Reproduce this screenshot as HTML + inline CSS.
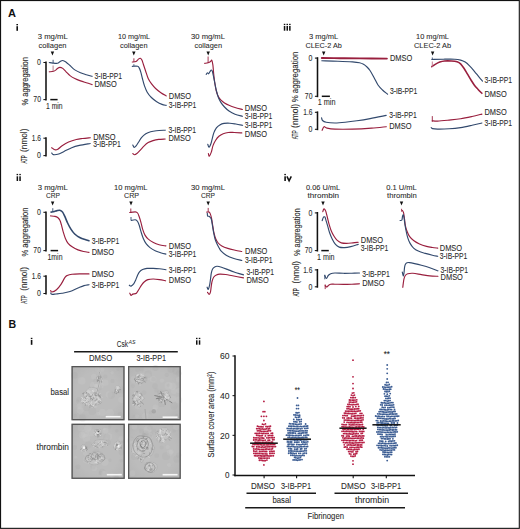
<!DOCTYPE html>
<html><head><meta charset="utf-8"><style>
html,body{margin:0;padding:0;background:#fff;}
body{width:520px;height:529px;overflow:hidden;}
svg{display:block;font-family:"Liberation Sans", sans-serif;}
</style></head><body>
<svg width="520" height="529" viewBox="0 0 520 529">
<defs>
<radialGradient id="vig" cx="0.5" cy="0.5" r="0.72"><stop offset="0.55" stop-color="#000" stop-opacity="0"/><stop offset="1" stop-color="#000" stop-opacity="0.05"/></radialGradient>
</defs>
<rect x="0" y="0" width="520" height="529" fill="#fff"/>
<text x="7.9" y="17.0" font-size="11" font-weight="bold" fill="#111">A</text>
<text x="8.6" y="327.7" font-size="10.6" font-weight="bold" fill="#111">B</text>
<rect x="16.40" y="26.20" width="1.60" height="4.60" fill="#111"/>
<rect x="16.40" y="24.00" width="1.60" height="1.30" fill="#111"/>
<rect x="283.80" y="25.90" width="1.50" height="4.80" fill="#111"/>
<rect x="283.80" y="23.80" width="1.50" height="1.20" fill="#111"/>
<rect x="286.50" y="25.90" width="1.50" height="4.80" fill="#111"/>
<rect x="286.50" y="23.80" width="1.50" height="1.20" fill="#111"/>
<rect x="289.10" y="25.90" width="1.50" height="4.80" fill="#111"/>
<rect x="289.10" y="23.80" width="1.50" height="1.20" fill="#111"/>
<rect x="16.60" y="176.30" width="1.50" height="4.70" fill="#111"/>
<rect x="16.60" y="173.90" width="1.50" height="1.30" fill="#111"/>
<rect x="19.30" y="176.30" width="1.50" height="4.70" fill="#111"/>
<rect x="19.30" y="173.90" width="1.50" height="1.30" fill="#111"/>
<rect x="284.30" y="176.30" width="1.60" height="4.70" fill="#111"/>
<rect x="284.30" y="173.90" width="1.60" height="1.30" fill="#111"/>
<path d="M286.90,176.30 L289.10,180.70 L291.30,176.30" fill="none" stroke="#111" stroke-width="1.50" stroke-linejoin="miter"/>
<rect x="30.80" y="339.90" width="1.60" height="4.90" fill="#111"/>
<rect x="30.80" y="337.80" width="1.60" height="1.20" fill="#111"/>
<rect x="196.00" y="340.30" width="1.50" height="4.40" fill="#111"/>
<rect x="196.00" y="337.80" width="1.50" height="1.30" fill="#111"/>
<rect x="198.80" y="340.30" width="1.50" height="4.40" fill="#111"/>
<rect x="198.80" y="337.80" width="1.50" height="1.30" fill="#111"/>
<text transform="translate(27.60,105.40) rotate(-90)" x="0" y="0" font-size="8.80" fill="#2a2a2a" stroke="#2a2a2a" stroke-width="0.12" textLength="48.30" lengthAdjust="spacingAndGlyphs">% aggregation</text>
<text transform="translate(27.20,163.60) rotate(-90)" x="0" y="0" font-size="8.80" fill="#2a2a2a" stroke="#2a2a2a" stroke-width="0.12" textLength="8.30" lengthAdjust="spacingAndGlyphs">ATP</text>
<text transform="translate(27.20,151.90) rotate(-90)" x="0" y="0" font-size="8.80" fill="#2a2a2a" stroke="#2a2a2a" stroke-width="0.12" textLength="23.30" lengthAdjust="spacingAndGlyphs">(nmol)</text>
<line x1="46.00" y1="61.60" x2="46.00" y2="100.50" stroke="#111" stroke-width="1.55"/>
<line x1="43.40" y1="62.50" x2="46.00" y2="62.50" stroke="#111" stroke-width="1.05"/>
<text x="37.10" y="65.20" font-size="8.40" font-weight="normal" fill="#2a2a2a" stroke="#2a2a2a" stroke-width="0.08" textLength="3.90" lengthAdjust="spacingAndGlyphs">0</text>
<line x1="43.40" y1="99.60" x2="46.00" y2="99.60" stroke="#111" stroke-width="1.05"/>
<text x="33.30" y="102.30" font-size="8.40" font-weight="normal" fill="#2a2a2a" stroke="#2a2a2a" stroke-width="0.08" textLength="7.70" lengthAdjust="spacingAndGlyphs">70</text>
<line x1="50.30" y1="99.60" x2="57.60" y2="99.60" stroke="#111" stroke-width="1.50"/>
<text x="46.00" y="108.50" font-size="8.40" font-weight="normal" fill="#2a2a2a" stroke="#2a2a2a" stroke-width="0.08" textLength="16.60" lengthAdjust="spacingAndGlyphs">1 min</text>
<line x1="46.00" y1="137.30" x2="46.00" y2="156.50" stroke="#111" stroke-width="1.55"/>
<line x1="43.40" y1="138.20" x2="46.00" y2="138.20" stroke="#111" stroke-width="1.05"/>
<text x="31.80" y="140.90" font-size="8.40" font-weight="normal" fill="#2a2a2a" stroke="#2a2a2a" stroke-width="0.08" textLength="9.20" lengthAdjust="spacingAndGlyphs">1.6</text>
<line x1="43.40" y1="155.60" x2="46.00" y2="155.60" stroke="#111" stroke-width="1.05"/>
<text x="37.10" y="158.30" font-size="8.40" font-weight="normal" fill="#2a2a2a" stroke="#2a2a2a" stroke-width="0.08" textLength="3.90" lengthAdjust="spacingAndGlyphs">0</text>
<text x="37.70" y="39.40" font-size="8.00" font-weight="normal" fill="#2a2a2a" stroke="#2a2a2a" stroke-width="0.08" textLength="30.10" lengthAdjust="spacingAndGlyphs">3 mg/mL</text>
<text x="38.50" y="47.90" font-size="8.00" font-weight="normal" fill="#2a2a2a" stroke="#2a2a2a" stroke-width="0.08" textLength="28.00" lengthAdjust="spacingAndGlyphs">collagen</text>
<path d="M50.75,51.50 L54.15,51.50 L52.45,55.40 Z" fill="#111"/>
<path d="M49.30,62.50 C49.87,62.60 51.33,62.97 52.70,63.10 C54.07,63.23 56.30,63.53 57.50,63.30 C58.70,63.07 59.02,62.17 59.90,61.70 C60.77,61.23 61.72,60.42 62.75,60.50 C63.78,60.58 64.89,61.37 66.10,62.20 C67.31,63.03 68.55,64.22 70.00,65.50 C71.45,66.78 73.05,68.69 74.80,69.90 C76.55,71.11 78.58,71.95 80.50,72.75 C82.42,73.55 84.37,74.11 86.30,74.70 C88.23,75.29 91.13,76.03 92.10,76.30" fill="none" stroke="#32496d" stroke-width="1.15" stroke-linejoin="round" stroke-linecap="round"/>
<path d="M49.30,71.80 C50.02,71.72 52.48,71.62 53.60,71.30 C54.72,70.98 55.35,70.38 56.00,69.90 C56.65,69.42 56.85,68.83 57.50,68.40 C58.15,67.97 59.02,67.30 59.90,67.30 C60.77,67.30 61.72,67.65 62.75,68.40 C63.78,69.15 64.89,70.60 66.10,71.80 C67.31,73.00 68.55,74.48 70.00,75.60 C71.45,76.72 73.05,77.62 74.80,78.50 C76.55,79.38 78.58,80.18 80.50,80.90 C82.42,81.62 84.37,82.18 86.30,82.80 C88.23,83.42 91.13,84.30 92.10,84.60" fill="none" stroke="#991f3e" stroke-width="1.15" stroke-linejoin="round" stroke-linecap="round"/>
<line x1="53.10" y1="59.80" x2="53.10" y2="63.00" stroke="#32496d" stroke-width="0.90"/>
<line x1="53.10" y1="65.50" x2="53.10" y2="71.30" stroke="#b07080" stroke-width="0.90"/>
<text x="94.50" y="78.50" font-size="8.40" font-weight="normal" fill="#2a2a2a" stroke="#2a2a2a" stroke-width="0.08" textLength="27.50" lengthAdjust="spacingAndGlyphs">3-IB-PP1</text>
<text x="94.50" y="86.90" font-size="8.40" font-weight="normal" fill="#2a2a2a" stroke="#2a2a2a" stroke-width="0.08" textLength="22.30" lengthAdjust="spacingAndGlyphs">DMSO</text>
<path d="M51.70,147.70 C52.22,148.03 53.78,149.45 54.80,149.70 C55.82,149.95 56.52,149.92 57.80,149.20 C59.08,148.48 60.70,146.60 62.50,145.40 C64.30,144.20 66.30,142.98 68.60,142.00 C70.90,141.02 73.98,140.08 76.30,139.50 C78.62,138.92 80.18,138.80 82.50,138.50 C84.82,138.20 88.92,137.83 90.20,137.70" fill="none" stroke="#991f3e" stroke-width="1.15" stroke-linejoin="round" stroke-linecap="round"/>
<path d="M51.70,153.00 C51.95,153.27 52.18,154.38 53.20,154.60 C54.22,154.82 56.00,154.82 57.80,154.30 C59.60,153.78 61.68,152.60 64.00,151.50 C66.32,150.40 69.13,148.72 71.70,147.70 C74.27,146.68 76.32,146.10 79.40,145.40 C82.48,144.70 88.40,143.82 90.20,143.50" fill="none" stroke="#32496d" stroke-width="1.15" stroke-linejoin="round" stroke-linecap="round"/>
<text x="93.20" y="140.00" font-size="8.40" font-weight="normal" fill="#2a2a2a" stroke="#2a2a2a" stroke-width="0.08" textLength="22.30" lengthAdjust="spacingAndGlyphs">DMSO</text>
<text x="93.20" y="147.30" font-size="8.40" font-weight="normal" fill="#2a2a2a" stroke="#2a2a2a" stroke-width="0.08" textLength="27.50" lengthAdjust="spacingAndGlyphs">3-IB-PP1</text>
<text x="117.90" y="39.40" font-size="8.00" font-weight="normal" fill="#2a2a2a" stroke="#2a2a2a" stroke-width="0.08" textLength="32.20" lengthAdjust="spacingAndGlyphs">10 mg/mL</text>
<text x="120.00" y="47.90" font-size="8.00" font-weight="normal" fill="#2a2a2a" stroke="#2a2a2a" stroke-width="0.08" textLength="27.50" lengthAdjust="spacingAndGlyphs">collagen</text>
<path d="M132.10,51.50 L135.50,51.50 L133.80,55.40 Z" fill="#111"/>
<path d="M132.30,62.00 C132.92,61.92 134.93,62.02 136.00,61.50 C137.07,60.98 137.98,59.43 138.70,58.90 C139.42,58.37 139.77,58.12 140.30,58.30 C140.83,58.48 141.37,58.93 141.90,60.00 C142.43,61.07 142.88,62.87 143.50,64.70 C144.12,66.53 144.82,68.70 145.60,71.00 C146.38,73.30 147.23,76.38 148.20,78.50 C149.17,80.62 150.17,82.03 151.40,83.70 C152.63,85.37 154.02,87.00 155.60,88.50 C157.18,90.00 159.13,91.47 160.90,92.70 C162.67,93.93 165.32,95.37 166.20,95.90" fill="none" stroke="#991f3e" stroke-width="1.15" stroke-linejoin="round" stroke-linecap="round"/>
<path d="M132.30,66.30 C133.18,66.30 136.45,66.03 137.60,66.30 C138.75,66.57 138.67,66.93 139.20,67.90 C139.73,68.87 140.27,70.33 140.80,72.10 C141.33,73.87 141.78,76.20 142.40,78.50 C143.02,80.80 143.70,83.62 144.50,85.90 C145.30,88.18 146.05,90.27 147.20,92.20 C148.35,94.13 149.82,95.92 151.40,97.50 C152.98,99.08 154.93,100.55 156.70,101.70 C158.47,102.85 160.42,103.78 162.00,104.40 C163.58,105.02 165.50,105.23 166.20,105.40" fill="none" stroke="#32496d" stroke-width="1.15" stroke-linejoin="round" stroke-linecap="round"/>
<line x1="133.90" y1="58.30" x2="133.90" y2="62.00" stroke="#991f3e" stroke-width="0.90"/>
<line x1="133.90" y1="64.20" x2="133.90" y2="66.30" stroke="#32496d" stroke-width="0.90"/>
<text x="168.80" y="98.90" font-size="8.40" font-weight="normal" fill="#2a2a2a" stroke="#2a2a2a" stroke-width="0.08" textLength="22.30" lengthAdjust="spacingAndGlyphs">DMSO</text>
<text x="168.80" y="107.50" font-size="8.40" font-weight="normal" fill="#2a2a2a" stroke="#2a2a2a" stroke-width="0.08" textLength="27.50" lengthAdjust="spacingAndGlyphs">3-IB-PP1</text>
<path d="M132.80,145.00 C133.02,145.40 133.55,147.27 134.10,147.40 C134.65,147.53 135.37,146.67 136.10,145.80 C136.83,144.93 137.57,143.62 138.50,142.20 C139.43,140.78 140.48,138.72 141.70,137.30 C142.92,135.88 144.32,134.63 145.80,133.70 C147.28,132.77 148.85,132.20 150.60,131.70 C152.35,131.20 153.87,130.95 156.30,130.70 C158.73,130.45 163.72,130.28 165.20,130.20" fill="none" stroke="#32496d" stroke-width="1.15" stroke-linejoin="round" stroke-linecap="round"/>
<path d="M132.80,153.50 C133.08,153.70 133.82,154.70 134.50,154.70 C135.18,154.70 135.97,154.23 136.90,153.50 C137.83,152.77 138.88,151.58 140.10,150.30 C141.32,149.02 142.85,147.08 144.20,145.80 C145.55,144.52 146.73,143.47 148.20,142.60 C149.67,141.73 151.25,141.13 153.00,140.60 C154.75,140.07 156.67,139.67 158.70,139.40 C160.73,139.13 164.12,139.07 165.20,139.00" fill="none" stroke="#991f3e" stroke-width="1.15" stroke-linejoin="round" stroke-linecap="round"/>
<text x="168.50" y="132.70" font-size="8.40" font-weight="normal" fill="#2a2a2a" stroke="#2a2a2a" stroke-width="0.08" textLength="27.50" lengthAdjust="spacingAndGlyphs">3-IB-PP1</text>
<text x="168.50" y="141.30" font-size="8.40" font-weight="normal" fill="#2a2a2a" stroke="#2a2a2a" stroke-width="0.08" textLength="22.30" lengthAdjust="spacingAndGlyphs">DMSO</text>
<text x="191.00" y="39.40" font-size="8.00" font-weight="normal" fill="#2a2a2a" stroke="#2a2a2a" stroke-width="0.08" textLength="34.00" lengthAdjust="spacingAndGlyphs">30 mg/mL</text>
<text x="194.50" y="47.90" font-size="8.00" font-weight="normal" fill="#2a2a2a" stroke="#2a2a2a" stroke-width="0.08" textLength="27.50" lengthAdjust="spacingAndGlyphs">collagen</text>
<path d="M206.50,51.50 L209.90,51.50 L208.20,55.40 Z" fill="#111"/>
<path d="M204.70,63.40 C205.27,63.28 207.12,63.02 208.10,62.70 C209.08,62.38 209.98,61.92 210.60,61.50 C211.22,61.08 211.42,59.58 211.80,60.20 C212.18,60.82 212.58,62.90 212.90,65.20 C213.22,67.50 213.38,71.03 213.70,74.00 C214.02,76.97 214.37,80.17 214.80,83.00 C215.23,85.83 215.72,88.75 216.30,91.00 C216.88,93.25 217.52,94.97 218.30,96.50 C219.08,98.03 219.97,99.12 221.00,100.20 C222.03,101.28 223.17,102.15 224.50,103.00 C225.83,103.85 227.25,104.55 229.00,105.30 C230.75,106.05 232.77,106.80 235.00,107.50 C237.23,108.20 241.17,109.17 242.40,109.50" fill="none" stroke="#991f3e" stroke-width="1.15" stroke-linejoin="round" stroke-linecap="round"/>
<path d="M206.20,74.30 C206.40,74.05 207.00,72.88 207.40,72.80 C207.80,72.72 208.17,74.00 208.60,73.80 C209.03,73.60 209.53,72.23 210.00,71.60 C210.47,70.97 211.00,70.02 211.40,70.00 C211.80,69.98 212.08,70.58 212.40,71.50 C212.72,72.42 213.00,74.08 213.30,75.50 C213.60,76.92 213.88,78.42 214.20,80.00 C214.52,81.58 214.82,83.13 215.20,85.00 C215.58,86.87 215.97,89.12 216.50,91.20 C217.03,93.28 217.65,95.60 218.40,97.50 C219.15,99.40 219.98,101.02 221.00,102.60 C222.02,104.18 223.17,105.60 224.50,107.00 C225.83,108.40 227.25,109.80 229.00,111.00 C230.75,112.20 232.77,113.32 235.00,114.20 C237.23,115.08 241.17,115.95 242.40,116.30" fill="none" stroke="#32496d" stroke-width="1.15" stroke-linejoin="round" stroke-linecap="round"/>
<line x1="208.10" y1="56.50" x2="208.10" y2="63.00" stroke="#991f3e" stroke-width="0.90"/>
<text x="244.80" y="111.10" font-size="8.40" font-weight="normal" fill="#2a2a2a" stroke="#2a2a2a" stroke-width="0.08" textLength="22.30" lengthAdjust="spacingAndGlyphs">DMSO</text>
<text x="244.80" y="119.30" font-size="8.40" font-weight="normal" fill="#2a2a2a" stroke="#2a2a2a" stroke-width="0.08" textLength="27.50" lengthAdjust="spacingAndGlyphs">3-IB-PP1</text>
<path d="M207.80,144.30 C208.00,144.78 208.47,147.33 209.00,147.20 C209.53,147.07 210.47,144.90 211.00,143.50 C211.53,142.10 211.73,140.57 212.20,138.80 C212.67,137.03 213.10,134.73 213.80,132.90 C214.50,131.07 215.40,129.13 216.40,127.80 C217.40,126.47 218.53,125.63 219.80,124.90 C221.07,124.17 222.32,123.68 224.00,123.40 C225.68,123.12 227.93,123.10 229.90,123.20 C231.87,123.30 233.68,123.65 235.80,124.00 C237.92,124.35 241.47,125.08 242.60,125.30" fill="none" stroke="#32496d" stroke-width="1.15" stroke-linejoin="round" stroke-linecap="round"/>
<path d="M208.40,153.60 C208.55,154.03 208.82,156.45 209.30,156.20 C209.78,155.95 210.68,153.87 211.30,152.10 C211.92,150.33 212.30,147.53 213.00,145.60 C213.70,143.67 214.52,142.05 215.50,140.50 C216.48,138.95 217.62,137.42 218.90,136.30 C220.18,135.18 221.65,134.43 223.20,133.80 C224.75,133.17 226.38,132.72 228.20,132.50 C230.02,132.28 231.83,132.43 234.10,132.50 C236.37,132.57 240.52,132.83 241.80,132.90" fill="none" stroke="#991f3e" stroke-width="1.15" stroke-linejoin="round" stroke-linecap="round"/>
<text x="244.80" y="128.00" font-size="8.40" font-weight="normal" fill="#2a2a2a" stroke="#2a2a2a" stroke-width="0.08" textLength="27.50" lengthAdjust="spacingAndGlyphs">3-IB-PP1</text>
<text x="244.80" y="136.50" font-size="8.40" font-weight="normal" fill="#2a2a2a" stroke="#2a2a2a" stroke-width="0.08" textLength="22.30" lengthAdjust="spacingAndGlyphs">DMSO</text>
<text transform="translate(298.30,139.30) rotate(-90)" x="0" y="0" font-size="8.80" fill="#2a2a2a" stroke="#2a2a2a" stroke-width="0.12" textLength="8.90" lengthAdjust="spacingAndGlyphs">ATP</text>
<text transform="translate(298.30,127.90) rotate(-90)" x="0" y="0" font-size="8.80" fill="#2a2a2a" stroke="#2a2a2a" stroke-width="0.12" textLength="24.10" lengthAdjust="spacingAndGlyphs">(nmol)</text>
<text transform="translate(298.30,102.30) rotate(-90)" x="0" y="0" font-size="8.80" fill="#2a2a2a" stroke="#2a2a2a" stroke-width="0.12" textLength="50.70" lengthAdjust="spacingAndGlyphs">% aggregation</text>
<line x1="317.50" y1="57.20" x2="317.50" y2="97.20" stroke="#111" stroke-width="1.55"/>
<line x1="314.90" y1="58.10" x2="317.50" y2="58.10" stroke="#111" stroke-width="1.05"/>
<text x="308.60" y="60.80" font-size="8.40" font-weight="normal" fill="#2a2a2a" stroke="#2a2a2a" stroke-width="0.08" textLength="3.90" lengthAdjust="spacingAndGlyphs">0</text>
<line x1="314.90" y1="96.30" x2="317.50" y2="96.30" stroke="#111" stroke-width="1.05"/>
<text x="304.80" y="99.00" font-size="8.40" font-weight="normal" fill="#2a2a2a" stroke="#2a2a2a" stroke-width="0.08" textLength="7.70" lengthAdjust="spacingAndGlyphs">70</text>
<line x1="321.80" y1="96.30" x2="329.90" y2="96.30" stroke="#111" stroke-width="1.50"/>
<text x="317.70" y="105.20" font-size="8.40" font-weight="normal" fill="#2a2a2a" stroke="#2a2a2a" stroke-width="0.08" textLength="17.80" lengthAdjust="spacingAndGlyphs">1 min</text>
<line x1="317.50" y1="111.40" x2="317.50" y2="130.20" stroke="#111" stroke-width="1.55"/>
<line x1="314.90" y1="112.30" x2="317.50" y2="112.30" stroke="#111" stroke-width="1.05"/>
<text x="303.30" y="115.00" font-size="8.40" font-weight="normal" fill="#2a2a2a" stroke="#2a2a2a" stroke-width="0.08" textLength="9.20" lengthAdjust="spacingAndGlyphs">1.6</text>
<line x1="314.90" y1="129.30" x2="317.50" y2="129.30" stroke="#111" stroke-width="1.05"/>
<text x="308.60" y="132.00" font-size="8.40" font-weight="normal" fill="#2a2a2a" stroke="#2a2a2a" stroke-width="0.08" textLength="3.90" lengthAdjust="spacingAndGlyphs">0</text>
<text x="309.10" y="39.40" font-size="8.00" font-weight="normal" fill="#2a2a2a" stroke="#2a2a2a" stroke-width="0.08" textLength="29.20" lengthAdjust="spacingAndGlyphs">3 mg/mL</text>
<text x="305.50" y="47.90" font-size="8.00" font-weight="normal" fill="#2a2a2a" stroke="#2a2a2a" stroke-width="0.08" textLength="36.30" lengthAdjust="spacingAndGlyphs">CLEC-2 Ab</text>
<path d="M322.00,51.50 L325.40,51.50 L323.70,55.40 Z" fill="#111"/>
<path d="M321.80,58.00 C324.83,58.03 333.63,58.13 340.00,58.20 C346.37,58.27 352.18,58.33 360.00,58.40 C367.82,58.47 382.42,58.57 386.90,58.60" fill="none" stroke="#991f3e" stroke-width="1.90" stroke-linejoin="round" stroke-linecap="round"/>
<path d="M321.80,60.80 C324.48,60.87 332.78,61.02 337.90,61.20 C343.02,61.38 348.90,61.63 352.50,61.90 C356.10,62.17 357.67,62.40 359.50,62.80 C361.33,63.20 362.25,63.60 363.50,64.30 C364.75,65.00 365.92,65.97 367.00,67.00 C368.08,68.03 368.83,68.75 370.00,70.50 C371.17,72.25 372.67,75.08 374.00,77.50 C375.33,79.92 376.58,82.92 378.00,85.00 C379.42,87.08 380.90,88.47 382.50,90.00 C384.10,91.53 386.75,93.50 387.60,94.20" fill="none" stroke="#32496d" stroke-width="1.15" stroke-linejoin="round" stroke-linecap="round"/>
<text x="389.90" y="61.30" font-size="8.40" font-weight="normal" fill="#2a2a2a" stroke="#2a2a2a" stroke-width="0.08" textLength="22.30" lengthAdjust="spacingAndGlyphs">DMSO</text>
<text x="389.90" y="94.40" font-size="8.40" font-weight="normal" fill="#2a2a2a" stroke="#2a2a2a" stroke-width="0.08" textLength="27.50" lengthAdjust="spacingAndGlyphs">3-IB-PP1</text>
<path d="M321.60,117.90 C321.75,118.33 321.73,119.77 322.50,120.50 C323.27,121.23 324.12,121.88 326.20,122.30 C328.28,122.72 331.83,123.00 335.00,123.00 C338.17,123.00 341.55,122.67 345.20,122.30 C348.85,121.93 352.75,121.42 356.90,120.80 C361.05,120.18 365.22,119.50 370.10,118.60 C374.98,117.70 383.52,115.93 386.20,115.40" fill="none" stroke="#32496d" stroke-width="1.15" stroke-linejoin="round" stroke-linecap="round"/>
<path d="M322.10,130.30 C322.42,129.70 323.18,127.07 324.00,126.70 C324.82,126.33 325.17,127.70 327.00,128.10 C328.83,128.50 330.75,128.93 335.00,129.10 C339.25,129.27 346.40,129.27 352.50,129.10 C358.60,128.93 365.98,128.50 371.60,128.10 C377.22,127.70 383.77,126.93 386.20,126.70" fill="none" stroke="#991f3e" stroke-width="1.15" stroke-linejoin="round" stroke-linecap="round"/>
<text x="389.20" y="117.80" font-size="8.40" font-weight="normal" fill="#2a2a2a" stroke="#2a2a2a" stroke-width="0.08" textLength="27.50" lengthAdjust="spacingAndGlyphs">3-IB-PP1</text>
<text x="389.20" y="129.30" font-size="8.40" font-weight="normal" fill="#2a2a2a" stroke="#2a2a2a" stroke-width="0.08" textLength="22.30" lengthAdjust="spacingAndGlyphs">DMSO</text>
<text x="416.00" y="39.40" font-size="8.00" font-weight="normal" fill="#2a2a2a" stroke="#2a2a2a" stroke-width="0.08" textLength="33.00" lengthAdjust="spacingAndGlyphs">10 mg/mL</text>
<text x="414.00" y="47.90" font-size="8.00" font-weight="normal" fill="#2a2a2a" stroke="#2a2a2a" stroke-width="0.08" textLength="37.00" lengthAdjust="spacingAndGlyphs">CLEC-2 Ab</text>
<path d="M430.90,51.50 L434.30,51.50 L432.60,55.40 Z" fill="#111"/>
<path d="M431.80,59.50 C433.72,59.45 439.47,59.25 443.30,59.20 C447.13,59.15 451.92,59.05 454.80,59.20 C457.68,59.35 458.87,59.62 460.60,60.10 C462.33,60.58 463.67,61.10 465.20,62.10 C466.73,63.10 468.27,64.57 469.80,66.10 C471.33,67.63 472.85,69.47 474.40,71.30 C475.95,73.13 477.75,75.47 479.10,77.10 C480.45,78.73 481.93,80.43 482.50,81.10" fill="none" stroke="#32496d" stroke-width="1.15" stroke-linejoin="round" stroke-linecap="round"/>
<path d="M431.80,66.70 C432.37,66.32 433.87,65.17 435.20,64.40 C436.53,63.63 438.25,62.67 439.80,62.10 C441.35,61.53 442.57,61.18 444.50,61.00 C446.43,60.82 449.30,60.87 451.40,61.00 C453.50,61.13 455.57,61.33 457.10,61.80 C458.63,62.27 459.43,62.68 460.60,63.80 C461.77,64.92 462.95,66.77 464.10,68.50 C465.25,70.23 466.35,72.28 467.50,74.20 C468.65,76.12 469.85,78.17 471.00,80.00 C472.15,81.83 473.25,83.67 474.40,85.20 C475.55,86.73 476.65,87.85 477.90,89.20 C479.15,90.55 481.23,92.62 481.90,93.30" fill="none" stroke="#991f3e" stroke-width="1.60" stroke-linejoin="round" stroke-linecap="round"/>
<line x1="432.30" y1="57.50" x2="432.30" y2="59.50" stroke="#32496d" stroke-width="0.90"/>
<line x1="432.30" y1="61.50" x2="432.30" y2="66.70" stroke="#c07088" stroke-width="0.90"/>
<text x="484.50" y="83.00" font-size="8.40" font-weight="normal" fill="#2a2a2a" stroke="#2a2a2a" stroke-width="0.08" textLength="27.50" lengthAdjust="spacingAndGlyphs">3-IB-PP1</text>
<text x="484.50" y="96.80" font-size="8.40" font-weight="normal" fill="#2a2a2a" stroke="#2a2a2a" stroke-width="0.08" textLength="22.30" lengthAdjust="spacingAndGlyphs">DMSO</text>
<path d="M432.30,120.70 C433.17,120.77 434.70,121.20 437.50,121.10 C440.30,121.00 445.25,120.48 449.10,120.10 C452.95,119.72 456.77,119.40 460.60,118.80 C464.43,118.20 468.55,117.28 472.10,116.50 C475.65,115.72 480.27,114.50 481.90,114.10" fill="none" stroke="#991f3e" stroke-width="1.15" stroke-linejoin="round" stroke-linecap="round"/>
<line x1="432.30" y1="116.10" x2="432.30" y2="121.90" stroke="#991f3e" stroke-width="0.90"/>
<path d="M431.20,127.60 C431.42,127.77 431.45,128.35 432.50,128.60 C433.55,128.85 434.73,129.07 437.50,129.10 C440.27,129.13 445.25,129.05 449.10,128.80 C452.95,128.55 456.77,128.18 460.60,127.60 C464.43,127.02 468.55,126.07 472.10,125.30 C475.65,124.53 480.27,123.38 481.90,123.00" fill="none" stroke="#32496d" stroke-width="1.15" stroke-linejoin="round" stroke-linecap="round"/>
<text x="484.50" y="115.00" font-size="8.40" font-weight="normal" fill="#2a2a2a" stroke="#2a2a2a" stroke-width="0.08" textLength="22.30" lengthAdjust="spacingAndGlyphs">DMSO</text>
<text x="484.50" y="126.20" font-size="8.40" font-weight="normal" fill="#2a2a2a" stroke="#2a2a2a" stroke-width="0.08" textLength="27.50" lengthAdjust="spacingAndGlyphs">3-IB-PP1</text>
<text transform="translate(27.60,256.60) rotate(-90)" x="0" y="0" font-size="8.80" fill="#2a2a2a" stroke="#2a2a2a" stroke-width="0.12" textLength="49.10" lengthAdjust="spacingAndGlyphs">% aggregation</text>
<text transform="translate(27.20,303.80) rotate(-90)" x="0" y="0" font-size="8.80" fill="#2a2a2a" stroke="#2a2a2a" stroke-width="0.12" textLength="8.60" lengthAdjust="spacingAndGlyphs">ATP</text>
<text transform="translate(27.20,290.70) rotate(-90)" x="0" y="0" font-size="8.80" fill="#2a2a2a" stroke="#2a2a2a" stroke-width="0.12" textLength="23.70" lengthAdjust="spacingAndGlyphs">(nmol)</text>
<line x1="46.00" y1="211.40" x2="46.00" y2="251.50" stroke="#111" stroke-width="1.55"/>
<line x1="43.40" y1="212.30" x2="46.00" y2="212.30" stroke="#111" stroke-width="1.05"/>
<text x="37.10" y="215.00" font-size="8.40" font-weight="normal" fill="#2a2a2a" stroke="#2a2a2a" stroke-width="0.08" textLength="3.90" lengthAdjust="spacingAndGlyphs">0</text>
<line x1="43.40" y1="250.60" x2="46.00" y2="250.60" stroke="#111" stroke-width="1.05"/>
<text x="33.30" y="253.30" font-size="8.40" font-weight="normal" fill="#2a2a2a" stroke="#2a2a2a" stroke-width="0.08" textLength="7.70" lengthAdjust="spacingAndGlyphs">70</text>
<line x1="50.60" y1="250.60" x2="58.10" y2="250.60" stroke="#111" stroke-width="1.50"/>
<text x="47.50" y="259.50" font-size="8.40" font-weight="normal" fill="#2a2a2a" stroke="#2a2a2a" stroke-width="0.08" textLength="15.00" lengthAdjust="spacingAndGlyphs">1min</text>
<line x1="46.00" y1="275.30" x2="46.00" y2="294.40" stroke="#111" stroke-width="1.55"/>
<line x1="43.40" y1="276.20" x2="46.00" y2="276.20" stroke="#111" stroke-width="1.05"/>
<text x="31.80" y="278.90" font-size="8.40" font-weight="normal" fill="#2a2a2a" stroke="#2a2a2a" stroke-width="0.08" textLength="9.20" lengthAdjust="spacingAndGlyphs">1.6</text>
<line x1="43.40" y1="293.50" x2="46.00" y2="293.50" stroke="#111" stroke-width="1.05"/>
<text x="37.10" y="296.20" font-size="8.40" font-weight="normal" fill="#2a2a2a" stroke="#2a2a2a" stroke-width="0.08" textLength="3.90" lengthAdjust="spacingAndGlyphs">0</text>
<text x="37.70" y="189.80" font-size="8.00" font-weight="normal" fill="#2a2a2a" stroke="#2a2a2a" stroke-width="0.08" textLength="30.10" lengthAdjust="spacingAndGlyphs">3 mg/mL</text>
<text x="46.00" y="198.30" font-size="8.00" font-weight="normal" fill="#2a2a2a" stroke="#2a2a2a" stroke-width="0.08" textLength="14.00" lengthAdjust="spacingAndGlyphs">CRP</text>
<path d="M50.90,201.60 L54.30,201.60 L52.60,205.50 Z" fill="#111"/>
<path d="M51.10,212.10 C51.65,212.00 53.38,211.75 54.40,211.50 C55.42,211.25 56.20,210.78 57.20,210.60 C58.20,210.42 59.50,210.15 60.40,210.40 C61.30,210.65 61.87,211.10 62.60,212.10 C63.33,213.10 63.97,214.58 64.80,216.40 C65.63,218.22 66.58,220.88 67.60,223.00 C68.62,225.12 69.72,227.27 70.90,229.10 C72.08,230.93 73.15,232.55 74.70,234.00 C76.25,235.45 78.37,236.85 80.20,237.80 C82.03,238.75 84.23,239.20 85.70,239.70 C87.17,240.20 88.45,240.62 89.00,240.80" fill="none" stroke="#32496d" stroke-width="1.60" stroke-linejoin="round" stroke-linecap="round"/>
<path d="M50.60,215.90 C51.33,215.98 53.82,216.13 55.00,216.40 C56.18,216.67 56.88,216.85 57.70,217.50 C58.52,218.15 59.27,219.02 59.90,220.30 C60.53,221.58 60.95,223.28 61.50,225.20 C62.05,227.12 62.55,229.60 63.20,231.80 C63.85,234.00 64.58,236.48 65.40,238.40 C66.22,240.32 66.92,241.85 68.10,243.30 C69.28,244.75 70.85,246.00 72.50,247.10 C74.15,248.20 76.17,249.17 78.00,249.90 C79.83,250.63 81.67,251.08 83.50,251.50 C85.33,251.92 88.08,252.25 89.00,252.40" fill="none" stroke="#991f3e" stroke-width="1.15" stroke-linejoin="round" stroke-linecap="round"/>
<line x1="52.80" y1="208.20" x2="52.80" y2="212.00" stroke="#32496d" stroke-width="0.90"/>
<text x="91.70" y="243.80" font-size="8.40" font-weight="normal" fill="#2a2a2a" stroke="#2a2a2a" stroke-width="0.08" textLength="27.50" lengthAdjust="spacingAndGlyphs">3-IB-PP1</text>
<text x="91.70" y="255.20" font-size="8.40" font-weight="normal" fill="#2a2a2a" stroke="#2a2a2a" stroke-width="0.08" textLength="22.30" lengthAdjust="spacingAndGlyphs">DMSO</text>
<path d="M50.70,290.50 C50.88,290.75 50.83,292.13 51.80,292.00 C52.77,291.87 54.97,290.98 56.50,289.70 C58.03,288.42 59.58,286.35 61.00,284.30 C62.42,282.25 63.97,278.87 65.00,277.40 C66.03,275.93 66.03,276.02 67.20,275.50 C68.37,274.98 69.87,274.57 72.00,274.30 C74.13,274.03 77.17,273.97 80.00,273.90 C82.83,273.83 87.50,273.90 89.00,273.90" fill="none" stroke="#991f3e" stroke-width="1.15" stroke-linejoin="round" stroke-linecap="round"/>
<path d="M50.70,293.00 C50.88,293.22 50.92,294.13 51.80,294.30 C52.68,294.47 54.30,294.17 56.00,294.00 C57.70,293.83 59.67,293.72 62.00,293.30 C64.33,292.88 67.33,292.38 70.00,291.50 C72.67,290.62 75.67,288.98 78.00,288.00 C80.33,287.02 82.17,286.15 84.00,285.60 C85.83,285.05 88.17,284.85 89.00,284.70" fill="none" stroke="#32496d" stroke-width="1.15" stroke-linejoin="round" stroke-linecap="round"/>
<text x="91.70" y="276.70" font-size="8.40" font-weight="normal" fill="#2a2a2a" stroke="#2a2a2a" stroke-width="0.08" textLength="22.30" lengthAdjust="spacingAndGlyphs">DMSO</text>
<text x="91.70" y="287.50" font-size="8.40" font-weight="normal" fill="#2a2a2a" stroke="#2a2a2a" stroke-width="0.08" textLength="27.50" lengthAdjust="spacingAndGlyphs">3-IB-PP1</text>
<text x="114.00" y="189.80" font-size="8.00" font-weight="normal" fill="#2a2a2a" stroke="#2a2a2a" stroke-width="0.08" textLength="33.50" lengthAdjust="spacingAndGlyphs">10 mg/mL</text>
<text x="124.00" y="198.30" font-size="8.00" font-weight="normal" fill="#2a2a2a" stroke="#2a2a2a" stroke-width="0.08" textLength="15.00" lengthAdjust="spacingAndGlyphs">CRP</text>
<path d="M129.30,201.60 L132.70,201.60 L131.00,205.50 Z" fill="#111"/>
<path d="M129.70,212.50 C130.63,212.40 133.98,211.82 135.30,211.90 C136.62,211.98 136.93,212.15 137.60,213.00 C138.27,213.85 138.73,215.40 139.30,217.00 C139.87,218.60 140.43,220.53 141.00,222.60 C141.57,224.67 142.03,227.32 142.70,229.40 C143.37,231.48 144.07,233.48 145.00,235.10 C145.93,236.72 146.90,237.87 148.30,239.10 C149.70,240.33 151.60,241.57 153.40,242.50 C155.20,243.43 157.02,244.13 159.10,244.70 C161.18,245.27 164.77,245.70 165.90,245.90" fill="none" stroke="#991f3e" stroke-width="1.15" stroke-linejoin="round" stroke-linecap="round"/>
<path d="M131.40,220.40 C132.05,220.30 134.27,219.62 135.30,219.80 C136.33,219.98 136.93,220.55 137.60,221.50 C138.27,222.45 138.73,223.80 139.30,225.50 C139.87,227.20 140.33,229.53 141.00,231.70 C141.67,233.87 142.45,236.52 143.30,238.50 C144.15,240.48 144.98,242.08 146.10,243.60 C147.22,245.12 148.40,246.37 150.00,247.60 C151.60,248.83 153.80,250.10 155.70,251.00 C157.60,251.90 159.70,252.48 161.40,253.00 C163.10,253.52 165.15,253.92 165.90,254.10" fill="none" stroke="#32496d" stroke-width="1.15" stroke-linejoin="round" stroke-linecap="round"/>
<line x1="130.80" y1="208.50" x2="130.80" y2="212.50" stroke="#991f3e" stroke-width="0.90"/>
<line x1="131.00" y1="217.00" x2="131.00" y2="220.40" stroke="#32496d" stroke-width="0.90"/>
<text x="168.80" y="249.00" font-size="8.40" font-weight="normal" fill="#2a2a2a" stroke="#2a2a2a" stroke-width="0.08" textLength="22.30" lengthAdjust="spacingAndGlyphs">DMSO</text>
<text x="168.80" y="257.00" font-size="8.40" font-weight="normal" fill="#2a2a2a" stroke="#2a2a2a" stroke-width="0.08" textLength="27.50" lengthAdjust="spacingAndGlyphs">3-IB-PP1</text>
<path d="M129.30,285.20 C129.60,285.35 130.37,286.32 131.10,286.10 C131.83,285.88 132.97,284.85 133.70,283.90 C134.43,282.95 134.90,281.73 135.50,280.40 C136.10,279.07 136.63,277.32 137.30,275.90 C137.97,274.48 138.62,272.95 139.50,271.90 C140.38,270.85 141.35,270.18 142.60,269.60 C143.85,269.02 145.23,268.60 147.00,268.40 C148.77,268.20 151.13,268.33 153.20,268.40 C155.27,268.47 157.27,268.58 159.40,268.80 C161.53,269.02 164.90,269.55 166.00,269.70" fill="none" stroke="#32496d" stroke-width="1.15" stroke-linejoin="round" stroke-linecap="round"/>
<path d="M129.80,293.20 C130.02,293.57 130.60,295.25 131.10,295.40 C131.60,295.55 131.92,294.47 132.80,294.10 C133.68,293.73 135.37,294.02 136.40,293.20 C137.43,292.38 138.12,290.60 139.00,289.20 C139.88,287.80 140.80,286.05 141.70,284.80 C142.60,283.55 143.37,282.57 144.40,281.70 C145.43,280.83 146.43,280.05 147.90,279.60 C149.37,279.15 151.28,279.00 153.20,279.00 C155.12,279.00 157.33,279.30 159.40,279.60 C161.47,279.90 164.57,280.60 165.60,280.80" fill="none" stroke="#991f3e" stroke-width="1.15" stroke-linejoin="round" stroke-linecap="round"/>
<text x="168.80" y="272.70" font-size="8.40" font-weight="normal" fill="#2a2a2a" stroke="#2a2a2a" stroke-width="0.08" textLength="27.50" lengthAdjust="spacingAndGlyphs">3-IB-PP1</text>
<text x="168.80" y="283.30" font-size="8.40" font-weight="normal" fill="#2a2a2a" stroke="#2a2a2a" stroke-width="0.08" textLength="22.30" lengthAdjust="spacingAndGlyphs">DMSO</text>
<text x="191.00" y="189.80" font-size="8.00" font-weight="normal" fill="#2a2a2a" stroke="#2a2a2a" stroke-width="0.08" textLength="34.00" lengthAdjust="spacingAndGlyphs">30 mg/mL</text>
<text x="201.00" y="198.30" font-size="8.00" font-weight="normal" fill="#2a2a2a" stroke="#2a2a2a" stroke-width="0.08" textLength="14.00" lengthAdjust="spacingAndGlyphs">CRP</text>
<path d="M206.50,201.60 L209.90,201.60 L208.20,205.50 Z" fill="#111"/>
<path d="M206.70,212.10 C207.10,212.10 208.50,211.80 209.10,212.10 C209.70,212.40 209.90,212.88 210.30,213.90 C210.70,214.92 211.10,216.28 211.50,218.20 C211.90,220.12 212.30,222.98 212.70,225.40 C213.10,227.82 213.40,230.48 213.90,232.70 C214.40,234.92 214.98,236.98 215.70,238.70 C216.42,240.42 217.18,241.78 218.20,243.00 C219.22,244.22 220.20,245.10 221.80,246.00 C223.40,246.90 225.58,247.70 227.80,248.40 C230.02,249.10 232.77,249.68 235.10,250.20 C237.43,250.72 240.68,251.28 241.80,251.50" fill="none" stroke="#991f3e" stroke-width="1.15" stroke-linejoin="round" stroke-linecap="round"/>
<path d="M207.30,213.20 C207.35,213.67 207.32,215.48 207.60,216.00 C207.88,216.52 208.55,216.05 209.00,216.30 C209.45,216.55 209.90,216.97 210.30,217.50 C210.70,218.03 211.02,218.00 211.40,219.50 C211.78,221.00 212.20,224.17 212.60,226.50 C213.00,228.83 213.40,231.45 213.80,233.50 C214.20,235.55 214.53,237.22 215.00,238.80 C215.47,240.38 216.00,241.63 216.60,243.00 C217.20,244.37 217.83,245.63 218.60,247.00 C219.37,248.37 219.87,249.78 221.20,251.20 C222.53,252.62 224.48,254.28 226.60,255.50 C228.72,256.72 231.37,257.67 233.90,258.50 C236.43,259.33 240.48,260.17 241.80,260.50" fill="none" stroke="#32496d" stroke-width="1.15" stroke-linejoin="round" stroke-linecap="round"/>
<line x1="208.20" y1="207.90" x2="208.20" y2="212.10" stroke="#991f3e" stroke-width="0.90"/>
<text x="245.10" y="254.20" font-size="8.40" font-weight="normal" fill="#2a2a2a" stroke="#2a2a2a" stroke-width="0.08" textLength="22.30" lengthAdjust="spacingAndGlyphs">DMSO</text>
<text x="245.10" y="263.00" font-size="8.40" font-weight="normal" fill="#2a2a2a" stroke="#2a2a2a" stroke-width="0.08" textLength="27.50" lengthAdjust="spacingAndGlyphs">3-IB-PP1</text>
<path d="M207.10,287.20 C207.30,287.55 207.88,289.65 208.30,289.30 C208.72,288.95 209.23,286.78 209.60,285.10 C209.97,283.42 210.22,281.18 210.50,279.20 C210.78,277.22 210.95,274.90 211.30,273.20 C211.65,271.50 212.03,270.05 212.60,269.00 C213.17,267.95 213.93,267.35 214.70,266.90 C215.47,266.45 216.07,266.23 217.20,266.30 C218.33,266.37 219.80,266.78 221.50,267.30 C223.20,267.82 225.30,268.62 227.40,269.40 C229.50,270.18 231.42,271.08 234.10,272.00 C236.78,272.92 241.93,274.42 243.50,274.90" fill="none" stroke="#32496d" stroke-width="1.15" stroke-linejoin="round" stroke-linecap="round"/>
<path d="M207.50,292.30 C207.78,292.65 208.70,294.48 209.20,294.40 C209.70,294.32 210.15,293.22 210.50,291.80 C210.85,290.38 211.02,287.73 211.30,285.90 C211.58,284.07 211.78,282.28 212.20,280.80 C212.62,279.32 213.10,277.98 213.80,277.00 C214.50,276.02 215.40,275.38 216.40,274.90 C217.40,274.42 218.25,274.17 219.80,274.10 C221.35,274.03 223.58,274.22 225.70,274.50 C227.82,274.78 229.53,275.23 232.50,275.80 C235.47,276.37 241.67,277.55 243.50,277.90" fill="none" stroke="#991f3e" stroke-width="1.15" stroke-linejoin="round" stroke-linecap="round"/>
<text x="246.50" y="275.00" font-size="8.40" font-weight="normal" fill="#2a2a2a" stroke="#2a2a2a" stroke-width="0.08" textLength="27.50" lengthAdjust="spacingAndGlyphs">3-IB-PP1</text>
<text x="246.50" y="282.60" font-size="8.40" font-weight="normal" fill="#2a2a2a" stroke="#2a2a2a" stroke-width="0.08" textLength="22.30" lengthAdjust="spacingAndGlyphs">DMSO</text>
<text transform="translate(299.50,256.10) rotate(-90)" x="0" y="0" font-size="8.80" fill="#2a2a2a" stroke="#2a2a2a" stroke-width="0.12" textLength="47.80" lengthAdjust="spacingAndGlyphs">% aggregation</text>
<text transform="translate(299.00,296.50) rotate(-90)" x="0" y="0" font-size="8.80" fill="#2a2a2a" stroke="#2a2a2a" stroke-width="0.12" textLength="8.10" lengthAdjust="spacingAndGlyphs">ATP</text>
<text transform="translate(299.00,283.40) rotate(-90)" x="0" y="0" font-size="8.80" fill="#2a2a2a" stroke="#2a2a2a" stroke-width="0.12" textLength="22.40" lengthAdjust="spacingAndGlyphs">(nmol)</text>
<line x1="317.40" y1="212.00" x2="317.40" y2="251.50" stroke="#111" stroke-width="1.55"/>
<line x1="314.80" y1="212.90" x2="317.40" y2="212.90" stroke="#111" stroke-width="1.05"/>
<text x="308.50" y="215.60" font-size="8.40" font-weight="normal" fill="#2a2a2a" stroke="#2a2a2a" stroke-width="0.08" textLength="3.90" lengthAdjust="spacingAndGlyphs">0</text>
<line x1="314.80" y1="250.60" x2="317.40" y2="250.60" stroke="#111" stroke-width="1.05"/>
<text x="304.70" y="253.30" font-size="8.40" font-weight="normal" fill="#2a2a2a" stroke="#2a2a2a" stroke-width="0.08" textLength="7.70" lengthAdjust="spacingAndGlyphs">70</text>
<line x1="321.30" y1="250.60" x2="328.80" y2="250.60" stroke="#111" stroke-width="1.50"/>
<text x="316.90" y="259.50" font-size="8.40" font-weight="normal" fill="#2a2a2a" stroke="#2a2a2a" stroke-width="0.08" textLength="17.60" lengthAdjust="spacingAndGlyphs">1 min</text>
<line x1="317.40" y1="269.00" x2="317.40" y2="287.70" stroke="#111" stroke-width="1.55"/>
<line x1="314.80" y1="269.90" x2="317.40" y2="269.90" stroke="#111" stroke-width="1.05"/>
<text x="303.20" y="272.60" font-size="8.40" font-weight="normal" fill="#2a2a2a" stroke="#2a2a2a" stroke-width="0.08" textLength="9.20" lengthAdjust="spacingAndGlyphs">1.6</text>
<line x1="314.80" y1="286.80" x2="317.40" y2="286.80" stroke="#111" stroke-width="1.05"/>
<text x="308.50" y="289.50" font-size="8.40" font-weight="normal" fill="#2a2a2a" stroke="#2a2a2a" stroke-width="0.08" textLength="3.90" lengthAdjust="spacingAndGlyphs">0</text>
<text x="306.00" y="189.80" font-size="8.00" font-weight="normal" fill="#2a2a2a" stroke="#2a2a2a" stroke-width="0.08" textLength="34.00" lengthAdjust="spacingAndGlyphs">0.06 U/mL</text>
<text x="307.50" y="198.30" font-size="8.00" font-weight="normal" fill="#2a2a2a" stroke="#2a2a2a" stroke-width="0.08" textLength="31.50" lengthAdjust="spacingAndGlyphs">thrombin</text>
<path d="M321.30,201.60 L324.70,201.60 L323.00,205.50 Z" fill="#111"/>
<path d="M322.80,211.60 C322.97,211.17 323.45,209.35 323.80,209.00 C324.15,208.65 324.55,209.07 324.90,209.50 C325.25,209.93 325.47,210.18 325.90,211.60 C326.33,213.02 326.97,215.88 327.50,218.00 C328.03,220.12 328.48,222.18 329.10,224.30 C329.72,226.42 330.40,228.75 331.20,230.70 C332.00,232.65 332.93,234.42 333.90,236.00 C334.87,237.58 335.77,239.05 337.00,240.20 C338.23,241.35 339.70,242.37 341.30,242.90 C342.90,243.43 344.67,243.40 346.60,243.40 C348.53,243.40 350.97,243.08 352.90,242.90 C354.83,242.72 357.32,242.40 358.20,242.30" fill="none" stroke="#991f3e" stroke-width="1.15" stroke-linejoin="round" stroke-linecap="round"/>
<path d="M322.20,220.60 C322.38,220.08 322.85,218.12 323.30,217.50 C323.75,216.88 324.47,216.47 324.90,216.90 C325.33,217.33 325.47,218.68 325.90,220.10 C326.33,221.52 326.88,223.28 327.50,225.40 C328.12,227.52 328.80,230.50 329.60,232.80 C330.40,235.10 331.32,237.27 332.30,239.20 C333.28,241.13 334.35,243.08 335.50,244.40 C336.65,245.72 337.70,246.57 339.20,247.10 C340.70,247.63 342.57,247.68 344.50,247.60 C346.43,247.52 348.52,247.13 350.80,246.60 C353.08,246.07 356.97,244.77 358.20,244.40" fill="none" stroke="#32496d" stroke-width="1.15" stroke-linejoin="round" stroke-linecap="round"/>
<text x="360.80" y="242.70" font-size="8.40" font-weight="normal" fill="#2a2a2a" stroke="#2a2a2a" stroke-width="0.08" textLength="22.30" lengthAdjust="spacingAndGlyphs">DMSO</text>
<text x="360.80" y="251.20" font-size="8.40" font-weight="normal" fill="#2a2a2a" stroke="#2a2a2a" stroke-width="0.08" textLength="27.50" lengthAdjust="spacingAndGlyphs">3-IB-PP1</text>
<path d="M324.80,275.50 C325.08,276.00 325.93,278.50 326.50,278.50 C327.07,278.50 327.50,276.30 328.20,275.50 C328.90,274.70 329.58,274.12 330.70,273.70 C331.82,273.28 332.78,273.07 334.90,273.00 C337.02,272.93 340.58,273.27 343.40,273.30 C346.22,273.33 349.12,273.25 351.80,273.20 C354.48,273.15 358.22,273.03 359.50,273.00" fill="none" stroke="#32496d" stroke-width="1.15" stroke-linejoin="round" stroke-linecap="round"/>
<line x1="324.80" y1="274.70" x2="324.80" y2="279.30" stroke="#32496d" stroke-width="0.90"/>
<path d="M325.20,285.70 C325.48,285.92 326.33,287.07 326.90,287.00 C327.47,286.93 327.97,285.77 328.60,285.30 C329.23,284.83 329.65,284.38 330.70,284.20 C331.75,284.02 332.78,284.17 334.90,284.20 C337.02,284.23 340.58,284.40 343.40,284.40 C346.22,284.40 349.12,284.30 351.80,284.20 C354.48,284.10 358.22,283.87 359.50,283.80" fill="none" stroke="#991f3e" stroke-width="1.15" stroke-linejoin="round" stroke-linecap="round"/>
<line x1="325.20" y1="284.40" x2="325.20" y2="289.10" stroke="#991f3e" stroke-width="0.90"/>
<text x="362.20" y="276.70" font-size="8.40" font-weight="normal" fill="#2a2a2a" stroke="#2a2a2a" stroke-width="0.08" textLength="27.50" lengthAdjust="spacingAndGlyphs">3-IB-PP1</text>
<text x="362.20" y="286.30" font-size="8.40" font-weight="normal" fill="#2a2a2a" stroke="#2a2a2a" stroke-width="0.08" textLength="22.30" lengthAdjust="spacingAndGlyphs">DMSO</text>
<text x="386.30" y="189.80" font-size="8.00" font-weight="normal" fill="#2a2a2a" stroke="#2a2a2a" stroke-width="0.08" textLength="30.50" lengthAdjust="spacingAndGlyphs">0.1 U/mL</text>
<text x="387.00" y="198.30" font-size="8.00" font-weight="normal" fill="#2a2a2a" stroke="#2a2a2a" stroke-width="0.08" textLength="29.80" lengthAdjust="spacingAndGlyphs">thrombin</text>
<path d="M399.80,201.60 L403.20,201.60 L401.50,205.50 Z" fill="#111"/>
<path d="M402.50,210.60 C402.68,210.98 403.27,211.53 403.60,212.90 C403.93,214.27 404.20,216.65 404.50,218.80 C404.80,220.95 404.95,223.65 405.40,225.80 C405.85,227.95 406.52,229.93 407.20,231.70 C407.88,233.47 408.43,234.93 409.50,236.40 C410.57,237.87 411.93,239.23 413.60,240.50 C415.27,241.77 417.35,243.02 419.50,244.00 C421.65,244.98 424.35,245.82 426.50,246.40 C428.65,246.98 430.53,247.22 432.40,247.50 C434.27,247.78 436.82,248.00 437.70,248.10" fill="none" stroke="#991f3e" stroke-width="1.15" stroke-linejoin="round" stroke-linecap="round"/>
<line x1="401.60" y1="208.80" x2="401.60" y2="211.70" stroke="#991f3e" stroke-width="0.90"/>
<path d="M400.10,220.50 C400.40,220.42 401.50,220.68 401.90,220.00 C402.30,219.32 402.27,217.28 402.50,216.40 C402.73,215.52 403.05,214.50 403.30,214.70 C403.55,214.90 403.75,216.13 404.00,217.60 C404.25,219.07 404.47,221.35 404.80,223.50 C405.13,225.65 405.52,228.15 406.00,230.50 C406.48,232.85 407.02,235.45 407.70,237.60 C408.38,239.75 409.12,241.65 410.10,243.40 C411.08,245.15 412.23,246.82 413.60,248.10 C414.97,249.38 416.35,250.22 418.30,251.10 C420.25,251.98 422.95,252.72 425.30,253.40 C427.65,254.08 430.33,254.72 432.40,255.20 C434.47,255.68 436.82,256.12 437.70,256.30" fill="none" stroke="#32496d" stroke-width="1.15" stroke-linejoin="round" stroke-linecap="round"/>
<text x="439.80" y="251.00" font-size="8.40" font-weight="normal" fill="#2a2a2a" stroke="#2a2a2a" stroke-width="0.08" textLength="22.30" lengthAdjust="spacingAndGlyphs">DMSO</text>
<text x="439.80" y="259.20" font-size="8.40" font-weight="normal" fill="#2a2a2a" stroke="#2a2a2a" stroke-width="0.08" textLength="27.50" lengthAdjust="spacingAndGlyphs">3-IB-PP1</text>
<path d="M402.30,272.10 C402.45,272.73 402.92,275.77 403.20,275.90 C403.48,276.03 403.78,274.25 404.00,272.90 C404.22,271.55 404.28,269.20 404.50,267.80 C404.72,266.40 404.88,265.33 405.30,264.50 C405.72,263.67 406.30,263.12 407.00,262.80 C407.70,262.48 408.23,262.47 409.50,262.60 C410.77,262.73 412.62,263.15 414.60,263.60 C416.58,264.05 418.87,264.60 421.40,265.30 C423.93,266.00 427.05,266.88 429.80,267.80 C432.55,268.72 436.55,270.30 437.90,270.80" fill="none" stroke="#32496d" stroke-width="1.15" stroke-linejoin="round" stroke-linecap="round"/>
<path d="M402.80,287.30 C402.87,286.73 403.00,285.32 403.20,283.90 C403.40,282.48 403.65,280.20 404.00,278.80 C404.35,277.40 404.67,276.33 405.30,275.50 C405.93,274.67 406.53,274.17 407.80,273.80 C409.07,273.43 410.63,273.17 412.90,273.30 C415.17,273.43 418.58,274.17 421.40,274.60 C424.22,275.03 427.05,275.62 429.80,275.90 C432.55,276.18 436.55,276.23 437.90,276.30" fill="none" stroke="#991f3e" stroke-width="1.15" stroke-linejoin="round" stroke-linecap="round"/>
<text x="440.60" y="273.00" font-size="8.40" font-weight="normal" fill="#2a2a2a" stroke="#2a2a2a" stroke-width="0.08" textLength="27.50" lengthAdjust="spacingAndGlyphs">3-IB-PP1</text>
<text x="440.60" y="280.00" font-size="8.40" font-weight="normal" fill="#2a2a2a" stroke="#2a2a2a" stroke-width="0.08" textLength="22.30" lengthAdjust="spacingAndGlyphs">DMSO</text>
<text x="116.80" y="346.80" font-size="8.60" font-weight="normal" fill="#2a2a2a" stroke="#2a2a2a" stroke-width="0.08" textLength="11.20" lengthAdjust="spacingAndGlyphs">Csk</text>
<text x="128.6" y="343.6" font-size="6.2" fill="#2a2a2a" font-style="italic" textLength="7.0" lengthAdjust="spacingAndGlyphs">AS</text>
<line x1="74.10" y1="351.70" x2="177.80" y2="351.70" stroke="#1a1a1a" stroke-width="1.45"/>
<text x="89.00" y="361.40" font-size="8.40" font-weight="normal" fill="#2a2a2a" stroke="#2a2a2a" stroke-width="0.08" textLength="23.20" lengthAdjust="spacingAndGlyphs">DMSO</text>
<text x="136.50" y="361.40" font-size="8.40" font-weight="normal" fill="#2a2a2a" stroke="#2a2a2a" stroke-width="0.08" textLength="29.60" lengthAdjust="spacingAndGlyphs">3-IB-PP1</text>
<text x="50.60" y="394.90" font-size="8.40" font-weight="normal" fill="#2a2a2a" stroke="#2a2a2a" stroke-width="0.08" textLength="18.40" lengthAdjust="spacingAndGlyphs">basal</text>
<text x="36.60" y="450.20" font-size="8.40" font-weight="normal" fill="#2a2a2a" stroke="#2a2a2a" stroke-width="0.08" textLength="32.40" lengthAdjust="spacingAndGlyphs">thrombin</text>
<rect x="71.50" y="366.00" width="53.10" height="54.30" fill="#bcbcbc"/>
<rect x="71.50" y="366.00" width="53.10" height="54.30" fill="url(#vig)"/>
<circle cx="80.1" cy="410.6" r="3.4" fill="#d2d2d2" fill-opacity="0.18"/>
<circle cx="79.3" cy="406.3" r="2.7" fill="#d2d2d2" fill-opacity="0.18"/>
<circle cx="112.2" cy="372.7" r="1.6" fill="#d2d2d2" fill-opacity="0.18"/>
<circle cx="94.7" cy="406.3" r="1.5" fill="#d2d2d2" fill-opacity="0.18"/>
<circle cx="86.6" cy="408.3" r="3.0" fill="#a8a8a8" fill-opacity="0.18"/>
<circle cx="117.8" cy="369.5" r="1.6" fill="#a8a8a8" fill-opacity="0.18"/>
<circle cx="119.6" cy="387.2" r="2.0" fill="#d2d2d2" fill-opacity="0.18"/>
<circle cx="109.1" cy="394.5" r="3.4" fill="#d2d2d2" fill-opacity="0.18"/>
<circle cx="100.6" cy="385.4" r="3.2" fill="#d2d2d2" fill-opacity="0.18"/>
<circle cx="120.3" cy="414.6" r="2.5" fill="#a8a8a8" fill-opacity="0.18"/>
<circle cx="82.6" cy="417.9" r="3.6" fill="#a8a8a8" fill-opacity="0.18"/>
<circle cx="110.0" cy="413.0" r="3.9" fill="#d2d2d2" fill-opacity="0.18"/>
<circle cx="98.4" cy="413.8" r="2.0" fill="#d2d2d2" fill-opacity="0.18"/>
<circle cx="102.4" cy="412.4" r="3.6" fill="#d2d2d2" fill-opacity="0.18"/>
<circle cx="102.4" cy="369.7" r="2.1" fill="#d2d2d2" fill-opacity="0.18"/>
<circle cx="93.8" cy="376.7" r="2.9" fill="#d2d2d2" fill-opacity="0.18"/>
<circle cx="77.7" cy="401.4" r="1.8" fill="#a8a8a8" fill-opacity="0.18"/>
<circle cx="99.1" cy="387.8" r="2.7" fill="#a8a8a8" fill-opacity="0.18"/>
<circle cx="96.5" cy="383.5" r="3.6" fill="#d2d2d2" fill-opacity="0.18"/>
<circle cx="105.3" cy="376.5" r="2.1" fill="#a8a8a8" fill-opacity="0.18"/>
<circle cx="111.3" cy="395.1" r="3.7" fill="#a8a8a8" fill-opacity="0.18"/>
<circle cx="93.4" cy="385.3" r="3.6" fill="#d2d2d2" fill-opacity="0.18"/>
<circle cx="96.0" cy="381.5" r="2.9" fill="#a8a8a8" fill-opacity="0.18"/>
<circle cx="92.3" cy="411.1" r="3.9" fill="#a8a8a8" fill-opacity="0.18"/>
<circle cx="99.0" cy="396.2" r="2.6" fill="#a8a8a8" fill-opacity="0.18"/>
<circle cx="97.1" cy="386.3" r="2.9" fill="#d2d2d2" fill-opacity="0.18"/>
<circle cx="97.3" cy="385.9" r="2.4" fill="#d2d2d2" fill-opacity="0.18"/>
<circle cx="96.0" cy="369.4" r="2.1" fill="#a8a8a8" fill-opacity="0.18"/>
<circle cx="100.5" cy="377.1" r="1.7" fill="#d2d2d2" fill-opacity="0.18"/>
<circle cx="75.1" cy="415.5" r="1.7" fill="#a8a8a8" fill-opacity="0.18"/>
<circle cx="95.7" cy="405.9" r="2.2" fill="#d2d2d2" fill-opacity="0.18"/>
<circle cx="78.9" cy="399.4" r="2.4" fill="#a8a8a8" fill-opacity="0.18"/>
<circle cx="81.7" cy="380.8" r="3.9" fill="#d2d2d2" fill-opacity="0.18"/>
<circle cx="105.3" cy="382.8" r="3.3" fill="#d2d2d2" fill-opacity="0.18"/>
<circle cx="96.8" cy="369.2" r="2.5" fill="#d2d2d2" fill-opacity="0.18"/>
<circle cx="112.6" cy="381.0" r="2.1" fill="#a8a8a8" fill-opacity="0.18"/>
<circle cx="120.9" cy="389.7" r="3.9" fill="#a8a8a8" fill-opacity="0.18"/>
<circle cx="74.4" cy="375.4" r="3.3" fill="#a8a8a8" fill-opacity="0.18"/>
<circle cx="95.4" cy="393.5" r="2.6" fill="#a8a8a8" fill-opacity="0.18"/>
<circle cx="121.5" cy="399.7" r="3.2" fill="#d2d2d2" fill-opacity="0.18"/>
<path d="M100.83,398.00 C100.93,398.83 102.25,401.76 101.41,402.98 C100.57,404.21 97.71,404.71 95.79,405.35 C93.87,405.98 91.68,407.05 89.88,406.80 C88.09,406.55 86.62,404.89 85.02,403.85 C83.42,402.82 80.56,401.86 80.30,400.57 C80.03,399.29 82.65,397.54 83.45,396.15 C84.25,394.76 84.09,393.67 85.10,392.22 C86.12,390.77 87.59,388.04 89.56,387.45 C91.53,386.86 95.24,387.62 96.94,388.69 C98.63,389.75 99.10,392.30 99.75,393.85 C100.40,395.40 100.65,397.31 100.83,398.00" fill="#cdcdcd" fill-opacity="0.45" stroke="#e0e0e0" stroke-width="0.9" stroke-opacity="0.7"/>
<path d="M100.83,398.00 C100.93,398.83 102.25,401.76 101.41,402.98 C100.57,404.21 97.71,404.71 95.79,405.35 C93.87,405.98 91.68,407.05 89.88,406.80 C88.09,406.55 86.62,404.89 85.02,403.85 C83.42,402.82 80.56,401.86 80.30,400.57 C80.03,399.29 82.65,397.54 83.45,396.15 C84.25,394.76 84.09,393.67 85.10,392.22 C86.12,390.77 87.59,388.04 89.56,387.45 C91.53,386.86 95.24,387.62 96.94,388.69 C98.63,389.75 99.10,392.30 99.75,393.85 C100.40,395.40 100.65,397.31 100.83,398.00" fill="none" stroke="#8e8e8e" stroke-width="0.5"/>
<line x1="95.1" y1="394.5" x2="93.5" y2="394.8" stroke="#e2e2e2" stroke-width="0.55" stroke-linecap="round"/>
<line x1="91.5" y1="398.7" x2="90.7" y2="399.1" stroke="#888888" stroke-width="0.55" stroke-linecap="round"/>
<line x1="99.1" y1="396.6" x2="100.7" y2="397.5" stroke="#888888" stroke-width="0.55" stroke-linecap="round"/>
<line x1="89.4" y1="392.5" x2="89.9" y2="393.6" stroke="#e2e2e2" stroke-width="0.55" stroke-linecap="round"/>
<line x1="88.4" y1="393.3" x2="89.1" y2="393.8" stroke="#888888" stroke-width="0.55" stroke-linecap="round"/>
<line x1="89.4" y1="403.5" x2="90.4" y2="405.1" stroke="#888888" stroke-width="0.55" stroke-linecap="round"/>
<line x1="96.1" y1="398.4" x2="97.1" y2="400.1" stroke="#888888" stroke-width="0.55" stroke-linecap="round"/>
<line x1="89.0" y1="401.2" x2="88.0" y2="402.7" stroke="#888888" stroke-width="0.55" stroke-linecap="round"/>
<line x1="86.1" y1="404.3" x2="85.3" y2="405.5" stroke="#888888" stroke-width="0.55" stroke-linecap="round"/>
<line x1="92.3" y1="404.9" x2="93.3" y2="405.1" stroke="#888888" stroke-width="0.55" stroke-linecap="round"/>
<line x1="93.6" y1="404.9" x2="93.0" y2="406.6" stroke="#e2e2e2" stroke-width="0.55" stroke-linecap="round"/>
<line x1="88.5" y1="401.7" x2="87.1" y2="402.3" stroke="#888888" stroke-width="0.55" stroke-linecap="round"/>
<line x1="94.4" y1="396.1" x2="94.2" y2="397.0" stroke="#e2e2e2" stroke-width="0.55" stroke-linecap="round"/>
<line x1="100.1" y1="401.3" x2="98.7" y2="402.5" stroke="#e2e2e2" stroke-width="0.55" stroke-linecap="round"/>
<line x1="84.6" y1="393.3" x2="85.2" y2="394.6" stroke="#e2e2e2" stroke-width="0.55" stroke-linecap="round"/>
<line x1="96.2" y1="400.1" x2="94.8" y2="400.6" stroke="#888888" stroke-width="0.55" stroke-linecap="round"/>
<line x1="86.2" y1="399.1" x2="84.8" y2="400.2" stroke="#e2e2e2" stroke-width="0.55" stroke-linecap="round"/>
<line x1="90.0" y1="395.8" x2="91.7" y2="396.5" stroke="#e2e2e2" stroke-width="0.55" stroke-linecap="round"/>
<line x1="92.2" y1="406.0" x2="92.4" y2="406.9" stroke="#e2e2e2" stroke-width="0.55" stroke-linecap="round"/>
<line x1="92.0" y1="405.0" x2="93.8" y2="405.6" stroke="#e2e2e2" stroke-width="0.55" stroke-linecap="round"/>
<line x1="101.2" y1="396.6" x2="101.9" y2="397.4" stroke="#e2e2e2" stroke-width="0.55" stroke-linecap="round"/>
<line x1="98.3" y1="401.8" x2="99.1" y2="401.9" stroke="#888888" stroke-width="0.55" stroke-linecap="round"/>
<line x1="89.2" y1="404.0" x2="89.4" y2="405.2" stroke="#e2e2e2" stroke-width="0.55" stroke-linecap="round"/>
<line x1="100.2" y1="393.9" x2="99.3" y2="394.0" stroke="#e2e2e2" stroke-width="0.55" stroke-linecap="round"/>
<line x1="83.9" y1="392.6" x2="83.7" y2="394.2" stroke="#888888" stroke-width="0.55" stroke-linecap="round"/>
<line x1="91.1" y1="404.0" x2="91.7" y2="404.9" stroke="#e2e2e2" stroke-width="0.55" stroke-linecap="round"/>
<line x1="89.5" y1="405.9" x2="89.8" y2="407.4" stroke="#888888" stroke-width="0.55" stroke-linecap="round"/>
<line x1="97.5" y1="396.2" x2="98.2" y2="397.1" stroke="#e2e2e2" stroke-width="0.55" stroke-linecap="round"/>
<line x1="97.1" y1="391.7" x2="97.8" y2="392.7" stroke="#888888" stroke-width="0.55" stroke-linecap="round"/>
<line x1="84.5" y1="395.0" x2="85.1" y2="395.6" stroke="#e2e2e2" stroke-width="0.55" stroke-linecap="round"/>
<line x1="98.4" y1="400.6" x2="99.3" y2="400.8" stroke="#888888" stroke-width="0.55" stroke-linecap="round"/>
<line x1="89.2" y1="405.0" x2="89.2" y2="406.8" stroke="#e2e2e2" stroke-width="0.55" stroke-linecap="round"/>
<line x1="82.3" y1="397.9" x2="84.2" y2="398.4" stroke="#e2e2e2" stroke-width="0.55" stroke-linecap="round"/>
<line x1="93.2" y1="390.1" x2="92.2" y2="390.7" stroke="#e2e2e2" stroke-width="0.55" stroke-linecap="round"/>
<line x1="81.6" y1="397.3" x2="82.7" y2="398.8" stroke="#e2e2e2" stroke-width="0.55" stroke-linecap="round"/>
<line x1="93.1" y1="397.2" x2="94.1" y2="398.8" stroke="#888888" stroke-width="0.55" stroke-linecap="round"/>
<line x1="99.4" y1="393.9" x2="98.3" y2="395.1" stroke="#e2e2e2" stroke-width="0.55" stroke-linecap="round"/>
<line x1="87.8" y1="399.3" x2="86.7" y2="400.6" stroke="#e2e2e2" stroke-width="0.55" stroke-linecap="round"/>
<line x1="100.8" y1="401.1" x2="99.6" y2="402.0" stroke="#888888" stroke-width="0.55" stroke-linecap="round"/>
<line x1="95.6" y1="393.6" x2="96.0" y2="394.8" stroke="#e2e2e2" stroke-width="0.55" stroke-linecap="round"/>
<line x1="99.7" y1="399.0" x2="100.1" y2="400.4" stroke="#e2e2e2" stroke-width="0.55" stroke-linecap="round"/>
<line x1="89.1" y1="400.4" x2="90.2" y2="400.8" stroke="#888888" stroke-width="0.55" stroke-linecap="round"/>
<line x1="86.3" y1="401.1" x2="85.9" y2="402.1" stroke="#e2e2e2" stroke-width="0.55" stroke-linecap="round"/>
<line x1="84.3" y1="397.0" x2="83.7" y2="398.2" stroke="#888888" stroke-width="0.55" stroke-linecap="round"/>
<line x1="90.9" y1="394.1" x2="90.9" y2="395.4" stroke="#e2e2e2" stroke-width="0.55" stroke-linecap="round"/>
<line x1="84.9" y1="401.2" x2="83.1" y2="401.7" stroke="#e2e2e2" stroke-width="0.55" stroke-linecap="round"/>
<line x1="90.1" y1="396.6" x2="91.5" y2="396.9" stroke="#888888" stroke-width="0.55" stroke-linecap="round"/>
<line x1="96.4" y1="404.0" x2="95.3" y2="404.4" stroke="#888888" stroke-width="0.55" stroke-linecap="round"/>
<line x1="95.2" y1="394.0" x2="94.2" y2="395.3" stroke="#888888" stroke-width="0.55" stroke-linecap="round"/>
<line x1="97.6" y1="392.0" x2="96.1" y2="392.2" stroke="#e2e2e2" stroke-width="0.55" stroke-linecap="round"/>
<line x1="91.5" y1="401.8" x2="91.1" y2="403.4" stroke="#e2e2e2" stroke-width="0.55" stroke-linecap="round"/>
<line x1="87.8" y1="391.8" x2="88.5" y2="393.0" stroke="#e2e2e2" stroke-width="0.55" stroke-linecap="round"/>
<line x1="91.2" y1="396.4" x2="89.5" y2="396.5" stroke="#888888" stroke-width="0.55" stroke-linecap="round"/>
<line x1="90.4" y1="405.7" x2="89.5" y2="405.8" stroke="#888888" stroke-width="0.55" stroke-linecap="round"/>
<line x1="96.1" y1="392.5" x2="95.3" y2="393.6" stroke="#888888" stroke-width="0.55" stroke-linecap="round"/>
<line x1="97.8" y1="397.1" x2="96.7" y2="397.9" stroke="#e2e2e2" stroke-width="0.55" stroke-linecap="round"/>
<line x1="89.8" y1="400.6" x2="87.9" y2="401.1" stroke="#e2e2e2" stroke-width="0.55" stroke-linecap="round"/>
<line x1="86.2" y1="394.9" x2="87.2" y2="395.4" stroke="#e2e2e2" stroke-width="0.55" stroke-linecap="round"/>
<line x1="91.5" y1="397.5" x2="92.6" y2="398.2" stroke="#e2e2e2" stroke-width="0.55" stroke-linecap="round"/>
<line x1="85.9" y1="393.5" x2="85.0" y2="394.0" stroke="#e2e2e2" stroke-width="0.55" stroke-linecap="round"/>
<line x1="86.3" y1="396.9" x2="86.0" y2="397.9" stroke="#888888" stroke-width="0.55" stroke-linecap="round"/>
<line x1="93.9" y1="391.0" x2="92.4" y2="391.1" stroke="#e2e2e2" stroke-width="0.55" stroke-linecap="round"/>
<line x1="97.1" y1="392.4" x2="96.8" y2="393.6" stroke="#e2e2e2" stroke-width="0.55" stroke-linecap="round"/>
<line x1="98.7" y1="402.6" x2="100.3" y2="403.2" stroke="#888888" stroke-width="0.55" stroke-linecap="round"/>
<line x1="100.3" y1="396.5" x2="99.4" y2="396.5" stroke="#888888" stroke-width="0.55" stroke-linecap="round"/>
<line x1="86.3" y1="396.0" x2="86.3" y2="397.2" stroke="#888888" stroke-width="0.55" stroke-linecap="round"/>
<line x1="98.4" y1="398.0" x2="98.6" y2="399.2" stroke="#e2e2e2" stroke-width="0.55" stroke-linecap="round"/>
<line x1="93.3" y1="391.4" x2="93.3" y2="393.0" stroke="#e2e2e2" stroke-width="0.55" stroke-linecap="round"/>
<line x1="91.7" y1="398.5" x2="92.7" y2="399.6" stroke="#888888" stroke-width="0.55" stroke-linecap="round"/>
<line x1="95.0" y1="392.9" x2="93.7" y2="393.0" stroke="#888888" stroke-width="0.55" stroke-linecap="round"/>
<line x1="84.0" y1="401.8" x2="82.8" y2="401.8" stroke="#e2e2e2" stroke-width="0.55" stroke-linecap="round"/>
<line x1="86.0" y1="394.0" x2="86.3" y2="394.7" stroke="#e2e2e2" stroke-width="0.55" stroke-linecap="round"/>
<line x1="85.6" y1="400.3" x2="84.3" y2="400.9" stroke="#888888" stroke-width="0.55" stroke-linecap="round"/>
<line x1="98.7" y1="393.8" x2="98.7" y2="395.5" stroke="#888888" stroke-width="0.55" stroke-linecap="round"/>
<line x1="86.6" y1="392.8" x2="87.1" y2="394.3" stroke="#888888" stroke-width="0.55" stroke-linecap="round"/>
<line x1="100.0" y1="395.2" x2="98.4" y2="396.0" stroke="#888888" stroke-width="0.55" stroke-linecap="round"/>
<line x1="86.7" y1="395.1" x2="87.8" y2="396.3" stroke="#888888" stroke-width="0.55" stroke-linecap="round"/>
<line x1="87.6" y1="397.1" x2="86.4" y2="397.8" stroke="#e2e2e2" stroke-width="0.55" stroke-linecap="round"/>
<line x1="98.6" y1="399.6" x2="97.7" y2="400.6" stroke="#e2e2e2" stroke-width="0.55" stroke-linecap="round"/>
<line x1="90.7" y1="397.1" x2="90.7" y2="399.0" stroke="#888888" stroke-width="0.55" stroke-linecap="round"/>
<line x1="84.5" y1="401.9" x2="84.1" y2="402.9" stroke="#e2e2e2" stroke-width="0.55" stroke-linecap="round"/>
<line x1="95.5" y1="395.2" x2="97.3" y2="395.7" stroke="#888888" stroke-width="0.55" stroke-linecap="round"/>
<line x1="86.5" y1="402.3" x2="85.8" y2="403.0" stroke="#888888" stroke-width="0.55" stroke-linecap="round"/>
<line x1="89.4" y1="390.9" x2="90.4" y2="392.0" stroke="#e2e2e2" stroke-width="0.55" stroke-linecap="round"/>
<line x1="87.5" y1="396.7" x2="86.1" y2="397.9" stroke="#e2e2e2" stroke-width="0.55" stroke-linecap="round"/>
<line x1="93.3" y1="405.8" x2="92.2" y2="407.3" stroke="#e2e2e2" stroke-width="0.55" stroke-linecap="round"/>
<line x1="98.1" y1="394.2" x2="98.8" y2="395.3" stroke="#888888" stroke-width="0.55" stroke-linecap="round"/>
<line x1="92.5" y1="394.6" x2="92.1" y2="395.5" stroke="#888888" stroke-width="0.55" stroke-linecap="round"/>
<line x1="82.2" y1="400.7" x2="81.2" y2="401.8" stroke="#e2e2e2" stroke-width="0.55" stroke-linecap="round"/>
<line x1="87.7" y1="397.5" x2="89.2" y2="398.2" stroke="#e2e2e2" stroke-width="0.55" stroke-linecap="round"/>
<line x1="91.5" y1="394.0" x2="90.5" y2="395.3" stroke="#e2e2e2" stroke-width="0.55" stroke-linecap="round"/>
<line x1="96.6" y1="401.2" x2="96.6" y2="402.1" stroke="#e2e2e2" stroke-width="0.55" stroke-linecap="round"/>
<line x1="99.0" y1="400.1" x2="98.0" y2="400.5" stroke="#e2e2e2" stroke-width="0.55" stroke-linecap="round"/>
<line x1="88.8" y1="391.0" x2="87.3" y2="391.2" stroke="#e2e2e2" stroke-width="0.55" stroke-linecap="round"/>
<line x1="93.4" y1="395.6" x2="92.8" y2="396.4" stroke="#e2e2e2" stroke-width="0.55" stroke-linecap="round"/>
<line x1="85.1" y1="398.2" x2="86.1" y2="398.7" stroke="#888888" stroke-width="0.55" stroke-linecap="round"/>
<line x1="83.8" y1="399.4" x2="85.1" y2="400.5" stroke="#e2e2e2" stroke-width="0.55" stroke-linecap="round"/>
<line x1="83.3" y1="393.7" x2="82.4" y2="393.7" stroke="#888888" stroke-width="0.55" stroke-linecap="round"/>
<line x1="95.2" y1="394.4" x2="95.7" y2="395.8" stroke="#888888" stroke-width="0.55" stroke-linecap="round"/>
<line x1="83.6" y1="402.5" x2="82.9" y2="403.1" stroke="#888888" stroke-width="0.55" stroke-linecap="round"/>
<line x1="95.4" y1="398.3" x2="95.0" y2="399.0" stroke="#e2e2e2" stroke-width="0.55" stroke-linecap="round"/>
<line x1="96.3" y1="402.0" x2="94.7" y2="402.9" stroke="#e2e2e2" stroke-width="0.55" stroke-linecap="round"/>
<line x1="100.3" y1="400.8" x2="101.4" y2="400.9" stroke="#e2e2e2" stroke-width="0.55" stroke-linecap="round"/>
<line x1="92.9" y1="398.7" x2="92.2" y2="400.3" stroke="#888888" stroke-width="0.55" stroke-linecap="round"/>
<line x1="96.3" y1="392.6" x2="96.8" y2="394.0" stroke="#888888" stroke-width="0.55" stroke-linecap="round"/>
<line x1="88.3" y1="394.9" x2="90.2" y2="395.3" stroke="#888888" stroke-width="0.55" stroke-linecap="round"/>
<line x1="86.8" y1="403.1" x2="86.5" y2="404.5" stroke="#e2e2e2" stroke-width="0.55" stroke-linecap="round"/>
<line x1="87.5" y1="402.1" x2="89.0" y2="403.2" stroke="#e2e2e2" stroke-width="0.55" stroke-linecap="round"/>
<line x1="86.9" y1="392.2" x2="85.8" y2="393.4" stroke="#888888" stroke-width="0.55" stroke-linecap="round"/>
<line x1="91.4" y1="406.0" x2="93.1" y2="406.9" stroke="#888888" stroke-width="0.55" stroke-linecap="round"/>
<path d="M102.65,378.50 C102.41,378.76 101.59,379.62 101.21,380.07 C100.83,380.52 100.73,380.74 100.37,381.21 C100.01,381.68 99.49,382.86 99.06,382.88 C98.63,382.90 98.11,381.89 97.79,381.33 C97.46,380.76 97.37,380.19 97.12,379.50 C96.87,378.80 96.12,377.69 96.30,377.16 C96.47,376.63 97.71,376.74 98.18,376.32 C98.65,375.91 98.72,374.87 99.12,374.68 C99.51,374.48 100.21,374.78 100.57,375.15 C100.94,375.51 100.95,376.29 101.30,376.85 C101.65,377.41 102.43,378.22 102.65,378.50" fill="#cdcdcd" fill-opacity="0.45" stroke="#e0e0e0" stroke-width="0.9" stroke-opacity="0.7"/>
<path d="M102.65,378.50 C102.41,378.76 101.59,379.62 101.21,380.07 C100.83,380.52 100.73,380.74 100.37,381.21 C100.01,381.68 99.49,382.86 99.06,382.88 C98.63,382.90 98.11,381.89 97.79,381.33 C97.46,380.76 97.37,380.19 97.12,379.50 C96.87,378.80 96.12,377.69 96.30,377.16 C96.47,376.63 97.71,376.74 98.18,376.32 C98.65,375.91 98.72,374.87 99.12,374.68 C99.51,374.48 100.21,374.78 100.57,375.15 C100.94,375.51 100.95,376.29 101.30,376.85 C101.65,377.41 102.43,378.22 102.65,378.50" fill="none" stroke="#8e8e8e" stroke-width="0.5"/>
<line x1="97.8" y1="380.4" x2="97.0" y2="380.7" stroke="#888888" stroke-width="0.55" stroke-linecap="round"/>
<line x1="101.4" y1="380.2" x2="102.2" y2="380.5" stroke="#e2e2e2" stroke-width="0.55" stroke-linecap="round"/>
<line x1="99.3" y1="376.5" x2="101.0" y2="377.2" stroke="#888888" stroke-width="0.55" stroke-linecap="round"/>
<line x1="100.4" y1="376.9" x2="100.6" y2="378.0" stroke="#888888" stroke-width="0.55" stroke-linecap="round"/>
<line x1="98.8" y1="380.3" x2="97.3" y2="381.6" stroke="#888888" stroke-width="0.55" stroke-linecap="round"/>
<line x1="101.1" y1="380.3" x2="101.4" y2="382.2" stroke="#888888" stroke-width="0.55" stroke-linecap="round"/>
<line x1="100.6" y1="375.9" x2="100.4" y2="377.8" stroke="#888888" stroke-width="0.55" stroke-linecap="round"/>
<line x1="99.2" y1="379.9" x2="99.8" y2="381.2" stroke="#e2e2e2" stroke-width="0.55" stroke-linecap="round"/>
<line x1="98.4" y1="380.8" x2="100.2" y2="381.0" stroke="#888888" stroke-width="0.55" stroke-linecap="round"/>
<line x1="99.0" y1="380.3" x2="99.5" y2="381.4" stroke="#888888" stroke-width="0.55" stroke-linecap="round"/>
<line x1="97.7" y1="378.5" x2="99.4" y2="379.3" stroke="#e2e2e2" stroke-width="0.55" stroke-linecap="round"/>
<line x1="99.2" y1="379.3" x2="97.8" y2="379.4" stroke="#888888" stroke-width="0.55" stroke-linecap="round"/>
<line x1="101.7" y1="376.9" x2="100.1" y2="378.0" stroke="#888888" stroke-width="0.55" stroke-linecap="round"/>
<line x1="99.8" y1="377.2" x2="99.7" y2="378.7" stroke="#888888" stroke-width="0.55" stroke-linecap="round"/>
<line x1="99.9" y1="375.6" x2="99.1" y2="376.4" stroke="#888888" stroke-width="0.55" stroke-linecap="round"/>
<line x1="98.5" y1="376.7" x2="98.7" y2="378.7" stroke="#888888" stroke-width="0.55" stroke-linecap="round"/>
<line x1="100.0" y1="379.7" x2="99.2" y2="380.9" stroke="#888888" stroke-width="0.55" stroke-linecap="round"/>
<line x1="100.1" y1="380.6" x2="99.6" y2="381.3" stroke="#e2e2e2" stroke-width="0.55" stroke-linecap="round"/>
<line x1="98.3" y1="378.0" x2="99.3" y2="378.3" stroke="#888888" stroke-width="0.55" stroke-linecap="round"/>
<line x1="98.8" y1="378.3" x2="100.6" y2="378.7" stroke="#888888" stroke-width="0.55" stroke-linecap="round"/>
<path d="M119.86,390.00 C119.94,390.41 120.60,392.01 120.35,392.45 C120.11,392.88 118.92,392.41 118.39,392.59 C117.85,392.76 117.64,393.37 117.12,393.50 C116.61,393.64 115.74,393.78 115.29,393.40 C114.85,393.01 114.50,391.91 114.46,391.19 C114.43,390.46 114.95,389.83 115.08,389.05 C115.21,388.28 114.92,387.04 115.25,386.54 C115.58,386.04 116.46,386.15 117.07,386.04 C117.68,385.93 118.36,385.63 118.91,385.88 C119.46,386.12 120.24,386.83 120.39,387.52 C120.55,388.21 119.95,389.59 119.86,390.00" fill="#cdcdcd" fill-opacity="0.45" stroke="#e0e0e0" stroke-width="0.9" stroke-opacity="0.7"/>
<path d="M119.86,390.00 C119.94,390.41 120.60,392.01 120.35,392.45 C120.11,392.88 118.92,392.41 118.39,392.59 C117.85,392.76 117.64,393.37 117.12,393.50 C116.61,393.64 115.74,393.78 115.29,393.40 C114.85,393.01 114.50,391.91 114.46,391.19 C114.43,390.46 114.95,389.83 115.08,389.05 C115.21,388.28 114.92,387.04 115.25,386.54 C115.58,386.04 116.46,386.15 117.07,386.04 C117.68,385.93 118.36,385.63 118.91,385.88 C119.46,386.12 120.24,386.83 120.39,387.52 C120.55,388.21 119.95,389.59 119.86,390.00" fill="none" stroke="#8e8e8e" stroke-width="0.5"/>
<line x1="115.5" y1="391.3" x2="115.3" y2="393.3" stroke="#888888" stroke-width="0.55" stroke-linecap="round"/>
<line x1="117.1" y1="386.8" x2="116.0" y2="386.8" stroke="#e2e2e2" stroke-width="0.55" stroke-linecap="round"/>
<line x1="117.5" y1="386.8" x2="117.4" y2="388.2" stroke="#e2e2e2" stroke-width="0.55" stroke-linecap="round"/>
<line x1="119.3" y1="387.8" x2="119.1" y2="388.7" stroke="#888888" stroke-width="0.55" stroke-linecap="round"/>
<line x1="116.4" y1="390.4" x2="117.3" y2="391.7" stroke="#e2e2e2" stroke-width="0.55" stroke-linecap="round"/>
<line x1="118.6" y1="391.4" x2="117.0" y2="391.9" stroke="#888888" stroke-width="0.55" stroke-linecap="round"/>
<line x1="115.5" y1="389.3" x2="115.3" y2="390.7" stroke="#888888" stroke-width="0.55" stroke-linecap="round"/>
<line x1="118.6" y1="386.8" x2="119.0" y2="388.3" stroke="#e2e2e2" stroke-width="0.55" stroke-linecap="round"/>
<line x1="116.9" y1="392.4" x2="116.5" y2="393.8" stroke="#888888" stroke-width="0.55" stroke-linecap="round"/>
<line x1="118.6" y1="392.5" x2="116.9" y2="392.5" stroke="#888888" stroke-width="0.55" stroke-linecap="round"/>
<line x1="116.3" y1="391.7" x2="114.5" y2="392.1" stroke="#888888" stroke-width="0.55" stroke-linecap="round"/>
<line x1="119.6" y1="387.9" x2="118.5" y2="388.5" stroke="#e2e2e2" stroke-width="0.55" stroke-linecap="round"/>
<line x1="118.0" y1="387.9" x2="117.0" y2="388.9" stroke="#e2e2e2" stroke-width="0.55" stroke-linecap="round"/>
<line x1="116.6" y1="390.3" x2="117.2" y2="391.5" stroke="#e2e2e2" stroke-width="0.55" stroke-linecap="round"/>
<line x1="118.1" y1="391.6" x2="116.8" y2="392.3" stroke="#e2e2e2" stroke-width="0.55" stroke-linecap="round"/>
<line x1="118.9" y1="390.0" x2="118.8" y2="391.7" stroke="#888888" stroke-width="0.55" stroke-linecap="round"/>
<line x1="115.3" y1="391.3" x2="115.4" y2="392.9" stroke="#e2e2e2" stroke-width="0.55" stroke-linecap="round"/>
<line x1="119.7" y1="389.5" x2="120.7" y2="389.7" stroke="#888888" stroke-width="0.55" stroke-linecap="round"/>
<line x1="117.6" y1="390.6" x2="118.5" y2="391.6" stroke="#888888" stroke-width="0.55" stroke-linecap="round"/>
<line x1="115.6" y1="391.8" x2="114.9" y2="392.3" stroke="#888888" stroke-width="0.55" stroke-linecap="round"/>
<path d="M97,392 L99,384 L100.5,377 L99.5,372" fill="none" stroke="#dcdcdc" stroke-width="1.6" stroke-opacity="0.7"/>
<path d="M97,392 L99,384 L100.5,377 L99.5,372" fill="none" stroke="#7a7a7a" stroke-width="0.5"/>
<rect x="72.15" y="366.65" width="51.80" height="53.00" fill="none" stroke="#555" stroke-width="1.3"/>
<rect x="105.70" y="415.90" width="15" height="1.6" fill="#f6f6f6"/>
<rect x="128.00" y="366.00" width="52.80" height="54.30" fill="#bcbcbc"/>
<rect x="128.00" y="366.00" width="52.80" height="54.30" fill="url(#vig)"/>
<circle cx="176.7" cy="415.7" r="1.6" fill="#a8a8a8" fill-opacity="0.18"/>
<circle cx="147.6" cy="376.5" r="3.5" fill="#d2d2d2" fill-opacity="0.18"/>
<circle cx="142.3" cy="378.7" r="1.6" fill="#a8a8a8" fill-opacity="0.18"/>
<circle cx="178.8" cy="400.1" r="3.5" fill="#d2d2d2" fill-opacity="0.18"/>
<circle cx="156.6" cy="390.4" r="2.2" fill="#a8a8a8" fill-opacity="0.18"/>
<circle cx="172.5" cy="386.3" r="3.8" fill="#d2d2d2" fill-opacity="0.18"/>
<circle cx="150.7" cy="412.5" r="1.9" fill="#a8a8a8" fill-opacity="0.18"/>
<circle cx="141.5" cy="369.2" r="2.3" fill="#a8a8a8" fill-opacity="0.18"/>
<circle cx="154.9" cy="386.1" r="2.8" fill="#a8a8a8" fill-opacity="0.18"/>
<circle cx="178.6" cy="390.4" r="2.5" fill="#d2d2d2" fill-opacity="0.18"/>
<circle cx="168.5" cy="385.8" r="4.0" fill="#d2d2d2" fill-opacity="0.18"/>
<circle cx="137.9" cy="405.9" r="3.3" fill="#d2d2d2" fill-opacity="0.18"/>
<circle cx="162.0" cy="380.6" r="2.2" fill="#d2d2d2" fill-opacity="0.18"/>
<circle cx="154.4" cy="409.8" r="2.4" fill="#d2d2d2" fill-opacity="0.18"/>
<circle cx="173.9" cy="391.2" r="2.9" fill="#d2d2d2" fill-opacity="0.18"/>
<circle cx="153.7" cy="379.2" r="2.3" fill="#a8a8a8" fill-opacity="0.18"/>
<circle cx="172.8" cy="399.0" r="3.4" fill="#d2d2d2" fill-opacity="0.18"/>
<circle cx="145.1" cy="416.2" r="3.3" fill="#d2d2d2" fill-opacity="0.18"/>
<circle cx="145.2" cy="378.5" r="2.8" fill="#a8a8a8" fill-opacity="0.18"/>
<circle cx="168.3" cy="385.2" r="1.5" fill="#a8a8a8" fill-opacity="0.18"/>
<circle cx="178.7" cy="373.3" r="2.9" fill="#a8a8a8" fill-opacity="0.18"/>
<circle cx="143.3" cy="379.4" r="3.7" fill="#a8a8a8" fill-opacity="0.18"/>
<circle cx="166.8" cy="374.9" r="2.2" fill="#a8a8a8" fill-opacity="0.18"/>
<circle cx="176.0" cy="371.0" r="3.7" fill="#a8a8a8" fill-opacity="0.18"/>
<circle cx="132.8" cy="386.1" r="2.1" fill="#a8a8a8" fill-opacity="0.18"/>
<circle cx="134.0" cy="416.0" r="1.6" fill="#a8a8a8" fill-opacity="0.18"/>
<circle cx="148.2" cy="374.4" r="3.8" fill="#a8a8a8" fill-opacity="0.18"/>
<circle cx="155.5" cy="368.1" r="3.0" fill="#a8a8a8" fill-opacity="0.18"/>
<circle cx="137.4" cy="369.8" r="2.4" fill="#a8a8a8" fill-opacity="0.18"/>
<circle cx="144.0" cy="392.6" r="2.3" fill="#a8a8a8" fill-opacity="0.18"/>
<circle cx="174.0" cy="406.0" r="3.7" fill="#a8a8a8" fill-opacity="0.18"/>
<circle cx="153.1" cy="379.3" r="3.2" fill="#d2d2d2" fill-opacity="0.18"/>
<circle cx="170.9" cy="369.2" r="3.5" fill="#a8a8a8" fill-opacity="0.18"/>
<circle cx="155.3" cy="407.3" r="2.7" fill="#d2d2d2" fill-opacity="0.18"/>
<circle cx="137.0" cy="416.3" r="2.1" fill="#d2d2d2" fill-opacity="0.18"/>
<circle cx="161.9" cy="403.2" r="3.9" fill="#a8a8a8" fill-opacity="0.18"/>
<circle cx="142.3" cy="374.6" r="1.9" fill="#d2d2d2" fill-opacity="0.18"/>
<circle cx="161.0" cy="393.6" r="4.0" fill="#a8a8a8" fill-opacity="0.18"/>
<circle cx="178.5" cy="379.7" r="2.6" fill="#d2d2d2" fill-opacity="0.18"/>
<circle cx="133.9" cy="379.5" r="3.5" fill="#d2d2d2" fill-opacity="0.18"/>
<path d="M144.97,378.80 C144.91,379.25 145.03,380.71 144.60,381.51 C144.17,382.31 143.27,383.43 142.40,383.62 C141.53,383.80 140.27,382.93 139.40,382.62 C138.53,382.32 137.95,382.19 137.18,381.78 C136.41,381.38 135.05,380.89 134.79,380.20 C134.54,379.51 135.48,378.60 135.65,377.63 C135.82,376.66 135.22,374.94 135.83,374.39 C136.44,373.84 138.29,374.22 139.30,374.33 C140.31,374.44 141.09,374.70 141.87,375.05 C142.65,375.40 143.48,375.82 143.99,376.45 C144.51,377.07 144.81,378.41 144.97,378.80" fill="#cdcdcd" fill-opacity="0.45" stroke="#e0e0e0" stroke-width="0.9" stroke-opacity="0.7"/>
<path d="M144.97,378.80 C144.91,379.25 145.03,380.71 144.60,381.51 C144.17,382.31 143.27,383.43 142.40,383.62 C141.53,383.80 140.27,382.93 139.40,382.62 C138.53,382.32 137.95,382.19 137.18,381.78 C136.41,381.38 135.05,380.89 134.79,380.20 C134.54,379.51 135.48,378.60 135.65,377.63 C135.82,376.66 135.22,374.94 135.83,374.39 C136.44,373.84 138.29,374.22 139.30,374.33 C140.31,374.44 141.09,374.70 141.87,375.05 C142.65,375.40 143.48,375.82 143.99,376.45 C144.51,377.07 144.81,378.41 144.97,378.80" fill="none" stroke="#8e8e8e" stroke-width="0.5"/>
<line x1="140.3" y1="381.1" x2="140.2" y2="382.4" stroke="#e2e2e2" stroke-width="0.55" stroke-linecap="round"/>
<line x1="138.4" y1="377.0" x2="136.6" y2="377.6" stroke="#888888" stroke-width="0.55" stroke-linecap="round"/>
<line x1="136.5" y1="380.2" x2="136.3" y2="381.1" stroke="#e2e2e2" stroke-width="0.55" stroke-linecap="round"/>
<line x1="137.7" y1="378.5" x2="139.4" y2="379.0" stroke="#e2e2e2" stroke-width="0.55" stroke-linecap="round"/>
<line x1="134.9" y1="378.2" x2="134.5" y2="379.3" stroke="#888888" stroke-width="0.55" stroke-linecap="round"/>
<line x1="139.5" y1="379.3" x2="139.0" y2="380.1" stroke="#e2e2e2" stroke-width="0.55" stroke-linecap="round"/>
<line x1="142.4" y1="375.4" x2="143.7" y2="375.4" stroke="#e2e2e2" stroke-width="0.55" stroke-linecap="round"/>
<line x1="137.5" y1="379.0" x2="137.3" y2="379.9" stroke="#e2e2e2" stroke-width="0.55" stroke-linecap="round"/>
<line x1="136.4" y1="382.2" x2="138.0" y2="382.6" stroke="#e2e2e2" stroke-width="0.55" stroke-linecap="round"/>
<line x1="137.0" y1="377.5" x2="137.2" y2="379.1" stroke="#e2e2e2" stroke-width="0.55" stroke-linecap="round"/>
<line x1="141.4" y1="380.0" x2="143.1" y2="380.5" stroke="#888888" stroke-width="0.55" stroke-linecap="round"/>
<line x1="144.4" y1="377.8" x2="145.9" y2="377.9" stroke="#888888" stroke-width="0.55" stroke-linecap="round"/>
<line x1="139.4" y1="375.4" x2="140.0" y2="376.6" stroke="#888888" stroke-width="0.55" stroke-linecap="round"/>
<line x1="139.5" y1="382.4" x2="139.7" y2="384.3" stroke="#888888" stroke-width="0.55" stroke-linecap="round"/>
<line x1="144.5" y1="376.9" x2="145.1" y2="377.8" stroke="#e2e2e2" stroke-width="0.55" stroke-linecap="round"/>
<line x1="139.8" y1="382.0" x2="138.8" y2="383.6" stroke="#888888" stroke-width="0.55" stroke-linecap="round"/>
<line x1="140.7" y1="377.4" x2="141.6" y2="379.2" stroke="#e2e2e2" stroke-width="0.55" stroke-linecap="round"/>
<line x1="138.8" y1="379.4" x2="140.6" y2="379.9" stroke="#888888" stroke-width="0.55" stroke-linecap="round"/>
<line x1="138.8" y1="377.4" x2="139.5" y2="378.2" stroke="#888888" stroke-width="0.55" stroke-linecap="round"/>
<line x1="138.5" y1="375.8" x2="138.4" y2="376.8" stroke="#888888" stroke-width="0.55" stroke-linecap="round"/>
<line x1="144.5" y1="377.5" x2="145.8" y2="377.9" stroke="#888888" stroke-width="0.55" stroke-linecap="round"/>
<line x1="139.8" y1="383.5" x2="140.0" y2="385.1" stroke="#e2e2e2" stroke-width="0.55" stroke-linecap="round"/>
<line x1="144.8" y1="378.7" x2="144.6" y2="379.6" stroke="#e2e2e2" stroke-width="0.55" stroke-linecap="round"/>
<line x1="144.1" y1="379.5" x2="143.1" y2="379.9" stroke="#888888" stroke-width="0.55" stroke-linecap="round"/>
<line x1="136.6" y1="379.1" x2="135.4" y2="380.7" stroke="#888888" stroke-width="0.55" stroke-linecap="round"/>
<line x1="134.8" y1="379.6" x2="135.6" y2="381.1" stroke="#888888" stroke-width="0.55" stroke-linecap="round"/>
<line x1="140.4" y1="374.2" x2="141.5" y2="375.2" stroke="#e2e2e2" stroke-width="0.55" stroke-linecap="round"/>
<line x1="137.3" y1="374.6" x2="137.0" y2="375.3" stroke="#e2e2e2" stroke-width="0.55" stroke-linecap="round"/>
<line x1="138.8" y1="374.3" x2="138.0" y2="375.9" stroke="#e2e2e2" stroke-width="0.55" stroke-linecap="round"/>
<line x1="144.3" y1="377.3" x2="143.7" y2="379.1" stroke="#888888" stroke-width="0.55" stroke-linecap="round"/>
<line x1="143.9" y1="381.4" x2="143.2" y2="382.1" stroke="#888888" stroke-width="0.55" stroke-linecap="round"/>
<line x1="138.0" y1="377.7" x2="137.2" y2="378.2" stroke="#888888" stroke-width="0.55" stroke-linecap="round"/>
<line x1="137.5" y1="379.8" x2="137.2" y2="381.1" stroke="#e2e2e2" stroke-width="0.55" stroke-linecap="round"/>
<line x1="141.4" y1="378.5" x2="142.8" y2="378.5" stroke="#888888" stroke-width="0.55" stroke-linecap="round"/>
<line x1="137.4" y1="375.2" x2="137.5" y2="376.8" stroke="#e2e2e2" stroke-width="0.55" stroke-linecap="round"/>
<line x1="139.6" y1="382.3" x2="140.5" y2="382.4" stroke="#888888" stroke-width="0.55" stroke-linecap="round"/>
<line x1="142.2" y1="382.6" x2="141.2" y2="383.4" stroke="#888888" stroke-width="0.55" stroke-linecap="round"/>
<line x1="141.2" y1="374.3" x2="142.1" y2="374.7" stroke="#e2e2e2" stroke-width="0.55" stroke-linecap="round"/>
<line x1="137.1" y1="379.4" x2="138.6" y2="379.4" stroke="#888888" stroke-width="0.55" stroke-linecap="round"/>
<line x1="137.4" y1="381.5" x2="137.8" y2="382.7" stroke="#888888" stroke-width="0.55" stroke-linecap="round"/>
<line x1="138.4" y1="382.5" x2="138.5" y2="384.0" stroke="#888888" stroke-width="0.55" stroke-linecap="round"/>
<line x1="144.3" y1="380.9" x2="145.3" y2="382.2" stroke="#888888" stroke-width="0.55" stroke-linecap="round"/>
<line x1="138.1" y1="376.3" x2="137.3" y2="376.7" stroke="#888888" stroke-width="0.55" stroke-linecap="round"/>
<line x1="137.0" y1="381.1" x2="135.4" y2="381.9" stroke="#888888" stroke-width="0.55" stroke-linecap="round"/>
<line x1="139.1" y1="381.0" x2="139.2" y2="382.1" stroke="#e2e2e2" stroke-width="0.55" stroke-linecap="round"/>
<path d="M144.57,398.50 C144.03,399.08 142.03,400.54 141.32,401.97 C140.60,403.40 141.03,406.41 140.26,407.08 C139.50,407.75 137.78,406.47 136.74,405.98 C135.70,405.50 134.73,405.07 134.03,404.17 C133.34,403.26 132.68,401.80 132.55,400.56 C132.42,399.32 133.03,398.07 133.25,396.73 C133.46,395.39 133.25,393.34 133.85,392.53 C134.45,391.73 135.84,392.10 136.83,391.91 C137.82,391.72 138.97,390.93 139.80,391.38 C140.62,391.83 140.97,393.43 141.77,394.61 C142.57,395.80 144.11,397.85 144.57,398.50" fill="#cdcdcd" fill-opacity="0.45" stroke="#e0e0e0" stroke-width="0.9" stroke-opacity="0.7"/>
<path d="M144.57,398.50 C144.03,399.08 142.03,400.54 141.32,401.97 C140.60,403.40 141.03,406.41 140.26,407.08 C139.50,407.75 137.78,406.47 136.74,405.98 C135.70,405.50 134.73,405.07 134.03,404.17 C133.34,403.26 132.68,401.80 132.55,400.56 C132.42,399.32 133.03,398.07 133.25,396.73 C133.46,395.39 133.25,393.34 133.85,392.53 C134.45,391.73 135.84,392.10 136.83,391.91 C137.82,391.72 138.97,390.93 139.80,391.38 C140.62,391.83 140.97,393.43 141.77,394.61 C142.57,395.80 144.11,397.85 144.57,398.50" fill="none" stroke="#8e8e8e" stroke-width="0.5"/>
<line x1="141.6" y1="394.0" x2="141.9" y2="395.5" stroke="#888888" stroke-width="0.55" stroke-linecap="round"/>
<line x1="136.7" y1="400.6" x2="137.5" y2="401.3" stroke="#888888" stroke-width="0.55" stroke-linecap="round"/>
<line x1="135.2" y1="401.8" x2="134.4" y2="402.4" stroke="#888888" stroke-width="0.55" stroke-linecap="round"/>
<line x1="135.2" y1="394.9" x2="134.2" y2="395.5" stroke="#888888" stroke-width="0.55" stroke-linecap="round"/>
<line x1="140.9" y1="396.1" x2="139.8" y2="397.7" stroke="#888888" stroke-width="0.55" stroke-linecap="round"/>
<line x1="137.5" y1="391.4" x2="135.9" y2="391.7" stroke="#888888" stroke-width="0.55" stroke-linecap="round"/>
<line x1="136.4" y1="404.3" x2="135.8" y2="405.4" stroke="#e2e2e2" stroke-width="0.55" stroke-linecap="round"/>
<line x1="139.9" y1="405.2" x2="140.5" y2="406.4" stroke="#888888" stroke-width="0.55" stroke-linecap="round"/>
<line x1="139.6" y1="405.4" x2="140.3" y2="405.7" stroke="#e2e2e2" stroke-width="0.55" stroke-linecap="round"/>
<line x1="134.2" y1="404.2" x2="132.6" y2="404.8" stroke="#e2e2e2" stroke-width="0.55" stroke-linecap="round"/>
<line x1="135.0" y1="397.5" x2="133.9" y2="398.1" stroke="#e2e2e2" stroke-width="0.55" stroke-linecap="round"/>
<line x1="136.1" y1="396.2" x2="137.2" y2="397.8" stroke="#e2e2e2" stroke-width="0.55" stroke-linecap="round"/>
<line x1="139.0" y1="401.2" x2="139.9" y2="402.1" stroke="#e2e2e2" stroke-width="0.55" stroke-linecap="round"/>
<line x1="136.0" y1="401.7" x2="137.1" y2="402.7" stroke="#e2e2e2" stroke-width="0.55" stroke-linecap="round"/>
<line x1="134.2" y1="403.3" x2="135.2" y2="403.5" stroke="#888888" stroke-width="0.55" stroke-linecap="round"/>
<line x1="133.2" y1="401.4" x2="134.5" y2="402.0" stroke="#888888" stroke-width="0.55" stroke-linecap="round"/>
<line x1="135.0" y1="404.2" x2="134.6" y2="405.4" stroke="#888888" stroke-width="0.55" stroke-linecap="round"/>
<line x1="134.6" y1="401.8" x2="134.2" y2="402.9" stroke="#888888" stroke-width="0.55" stroke-linecap="round"/>
<line x1="134.1" y1="395.1" x2="133.9" y2="397.1" stroke="#888888" stroke-width="0.55" stroke-linecap="round"/>
<line x1="139.5" y1="394.2" x2="139.9" y2="395.5" stroke="#e2e2e2" stroke-width="0.55" stroke-linecap="round"/>
<line x1="141.7" y1="403.3" x2="143.5" y2="404.1" stroke="#888888" stroke-width="0.55" stroke-linecap="round"/>
<line x1="138.8" y1="397.4" x2="139.8" y2="398.9" stroke="#e2e2e2" stroke-width="0.55" stroke-linecap="round"/>
<line x1="140.0" y1="401.3" x2="140.9" y2="401.8" stroke="#888888" stroke-width="0.55" stroke-linecap="round"/>
<line x1="142.0" y1="402.6" x2="141.6" y2="403.4" stroke="#888888" stroke-width="0.55" stroke-linecap="round"/>
<line x1="137.7" y1="403.8" x2="137.5" y2="404.8" stroke="#888888" stroke-width="0.55" stroke-linecap="round"/>
<line x1="139.7" y1="399.8" x2="138.0" y2="400.2" stroke="#888888" stroke-width="0.55" stroke-linecap="round"/>
<line x1="135.4" y1="392.0" x2="136.7" y2="392.6" stroke="#e2e2e2" stroke-width="0.55" stroke-linecap="round"/>
<line x1="138.8" y1="400.2" x2="139.5" y2="400.7" stroke="#e2e2e2" stroke-width="0.55" stroke-linecap="round"/>
<line x1="134.4" y1="402.7" x2="132.7" y2="403.5" stroke="#888888" stroke-width="0.55" stroke-linecap="round"/>
<line x1="132.3" y1="398.2" x2="133.1" y2="398.6" stroke="#888888" stroke-width="0.55" stroke-linecap="round"/>
<line x1="135.8" y1="396.0" x2="136.2" y2="397.1" stroke="#e2e2e2" stroke-width="0.55" stroke-linecap="round"/>
<line x1="134.4" y1="400.6" x2="133.0" y2="401.7" stroke="#888888" stroke-width="0.55" stroke-linecap="round"/>
<line x1="134.7" y1="399.2" x2="133.2" y2="400.5" stroke="#e2e2e2" stroke-width="0.55" stroke-linecap="round"/>
<line x1="136.2" y1="392.4" x2="135.8" y2="393.1" stroke="#888888" stroke-width="0.55" stroke-linecap="round"/>
<line x1="138.2" y1="401.7" x2="137.8" y2="403.2" stroke="#888888" stroke-width="0.55" stroke-linecap="round"/>
<line x1="137.3" y1="392.1" x2="137.3" y2="392.9" stroke="#888888" stroke-width="0.55" stroke-linecap="round"/>
<line x1="139.7" y1="392.2" x2="139.4" y2="393.0" stroke="#e2e2e2" stroke-width="0.55" stroke-linecap="round"/>
<line x1="140.8" y1="402.3" x2="140.7" y2="403.4" stroke="#888888" stroke-width="0.55" stroke-linecap="round"/>
<line x1="142.6" y1="397.5" x2="142.7" y2="398.6" stroke="#e2e2e2" stroke-width="0.55" stroke-linecap="round"/>
<line x1="139.5" y1="392.8" x2="140.7" y2="394.2" stroke="#888888" stroke-width="0.55" stroke-linecap="round"/>
<line x1="134.5" y1="401.1" x2="133.7" y2="402.1" stroke="#888888" stroke-width="0.55" stroke-linecap="round"/>
<line x1="140.8" y1="402.9" x2="142.0" y2="404.4" stroke="#e2e2e2" stroke-width="0.55" stroke-linecap="round"/>
<line x1="135.5" y1="403.4" x2="136.0" y2="404.7" stroke="#888888" stroke-width="0.55" stroke-linecap="round"/>
<line x1="138.9" y1="404.9" x2="137.9" y2="406.3" stroke="#e2e2e2" stroke-width="0.55" stroke-linecap="round"/>
<line x1="134.5" y1="399.8" x2="134.5" y2="400.9" stroke="#e2e2e2" stroke-width="0.55" stroke-linecap="round"/>
<line x1="135.2" y1="399.0" x2="135.3" y2="400.5" stroke="#e2e2e2" stroke-width="0.55" stroke-linecap="round"/>
<line x1="139.5" y1="403.7" x2="138.5" y2="404.2" stroke="#888888" stroke-width="0.55" stroke-linecap="round"/>
<line x1="134.7" y1="392.5" x2="134.1" y2="393.4" stroke="#e2e2e2" stroke-width="0.55" stroke-linecap="round"/>
<line x1="139.0" y1="394.9" x2="140.9" y2="395.0" stroke="#e2e2e2" stroke-width="0.55" stroke-linecap="round"/>
<line x1="136.3" y1="402.5" x2="137.5" y2="403.7" stroke="#e2e2e2" stroke-width="0.55" stroke-linecap="round"/>
<line x1="134.2" y1="400.3" x2="133.5" y2="400.7" stroke="#888888" stroke-width="0.55" stroke-linecap="round"/>
<line x1="138.9" y1="400.7" x2="138.5" y2="401.9" stroke="#e2e2e2" stroke-width="0.55" stroke-linecap="round"/>
<line x1="133.1" y1="394.7" x2="132.5" y2="395.9" stroke="#888888" stroke-width="0.55" stroke-linecap="round"/>
<line x1="139.3" y1="397.0" x2="140.5" y2="398.6" stroke="#888888" stroke-width="0.55" stroke-linecap="round"/>
<line x1="138.8" y1="404.6" x2="137.4" y2="405.2" stroke="#888888" stroke-width="0.55" stroke-linecap="round"/>
<path d="M170.53,397.50 C170.21,397.98 169.34,399.58 168.61,400.37 C167.88,401.17 167.07,401.96 166.15,402.27 C165.22,402.57 164.25,402.15 163.07,402.20 C161.89,402.25 159.81,403.12 159.07,402.57 C158.33,402.02 158.98,400.06 158.63,398.91 C158.29,397.75 156.83,396.62 157.01,395.65 C157.19,394.68 158.72,393.78 159.69,393.10 C160.67,392.42 161.63,392.03 162.89,391.59 C164.14,391.16 166.21,390.03 167.25,390.49 C168.28,390.95 168.53,393.18 169.08,394.35 C169.62,395.52 170.29,396.98 170.53,397.50" fill="#cdcdcd" fill-opacity="0.45" stroke="#e0e0e0" stroke-width="0.9" stroke-opacity="0.7"/>
<path d="M170.53,397.50 C170.21,397.98 169.34,399.58 168.61,400.37 C167.88,401.17 167.07,401.96 166.15,402.27 C165.22,402.57 164.25,402.15 163.07,402.20 C161.89,402.25 159.81,403.12 159.07,402.57 C158.33,402.02 158.98,400.06 158.63,398.91 C158.29,397.75 156.83,396.62 157.01,395.65 C157.19,394.68 158.72,393.78 159.69,393.10 C160.67,392.42 161.63,392.03 162.89,391.59 C164.14,391.16 166.21,390.03 167.25,390.49 C168.28,390.95 168.53,393.18 169.08,394.35 C169.62,395.52 170.29,396.98 170.53,397.50" fill="none" stroke="#8e8e8e" stroke-width="0.5"/>
<path d="M163.8,397.5 L156.3,398.7" stroke="#6a6a6a" stroke-width="0.7" stroke-linecap="round"/>
<path d="M163.8,397.5 L165.3,404.4" stroke="#6a6a6a" stroke-width="0.7" stroke-linecap="round"/>
<path d="M163.8,397.5 L154.8,395.6" stroke="#6a6a6a" stroke-width="0.7" stroke-linecap="round"/>
<path d="M163.8,397.5 L171.9,402.7" stroke="#6a6a6a" stroke-width="0.7" stroke-linecap="round"/>
<path d="M163.8,397.5 L160.8,391.7" stroke="#6a6a6a" stroke-width="0.7" stroke-linecap="round"/>
<line x1="162.7" y1="393.9" x2="162.7" y2="394.8" stroke="#888888" stroke-width="0.55" stroke-linecap="round"/>
<line x1="158.3" y1="396.9" x2="157.9" y2="398.4" stroke="#888888" stroke-width="0.55" stroke-linecap="round"/>
<line x1="164.0" y1="398.4" x2="164.0" y2="399.4" stroke="#e2e2e2" stroke-width="0.55" stroke-linecap="round"/>
<line x1="161.8" y1="401.4" x2="161.2" y2="402.8" stroke="#888888" stroke-width="0.55" stroke-linecap="round"/>
<line x1="167.6" y1="400.1" x2="169.1" y2="400.5" stroke="#e2e2e2" stroke-width="0.55" stroke-linecap="round"/>
<line x1="166.0" y1="400.0" x2="165.4" y2="401.2" stroke="#888888" stroke-width="0.55" stroke-linecap="round"/>
<line x1="161.5" y1="400.2" x2="160.1" y2="400.6" stroke="#e2e2e2" stroke-width="0.55" stroke-linecap="round"/>
<line x1="164.6" y1="394.1" x2="163.1" y2="394.3" stroke="#888888" stroke-width="0.55" stroke-linecap="round"/>
<line x1="167.4" y1="395.0" x2="166.5" y2="395.0" stroke="#e2e2e2" stroke-width="0.55" stroke-linecap="round"/>
<line x1="164.1" y1="397.0" x2="163.1" y2="398.8" stroke="#888888" stroke-width="0.55" stroke-linecap="round"/>
<line x1="164.9" y1="396.3" x2="164.7" y2="397.8" stroke="#e2e2e2" stroke-width="0.55" stroke-linecap="round"/>
<line x1="158.9" y1="400.0" x2="159.6" y2="400.4" stroke="#888888" stroke-width="0.55" stroke-linecap="round"/>
<line x1="169.4" y1="396.4" x2="168.8" y2="397.4" stroke="#888888" stroke-width="0.55" stroke-linecap="round"/>
<line x1="166.8" y1="398.2" x2="165.4" y2="399.4" stroke="#e2e2e2" stroke-width="0.55" stroke-linecap="round"/>
<line x1="165.6" y1="396.4" x2="165.3" y2="397.3" stroke="#e2e2e2" stroke-width="0.55" stroke-linecap="round"/>
<line x1="164.0" y1="397.9" x2="164.4" y2="399.3" stroke="#e2e2e2" stroke-width="0.55" stroke-linecap="round"/>
<line x1="163.0" y1="396.4" x2="162.9" y2="397.8" stroke="#e2e2e2" stroke-width="0.55" stroke-linecap="round"/>
<line x1="165.7" y1="396.4" x2="166.0" y2="397.8" stroke="#e2e2e2" stroke-width="0.55" stroke-linecap="round"/>
<line x1="168.5" y1="396.8" x2="168.4" y2="398.1" stroke="#e2e2e2" stroke-width="0.55" stroke-linecap="round"/>
<line x1="169.2" y1="395.9" x2="168.7" y2="396.8" stroke="#888888" stroke-width="0.55" stroke-linecap="round"/>
<line x1="166.4" y1="400.0" x2="168.0" y2="400.1" stroke="#888888" stroke-width="0.55" stroke-linecap="round"/>
<line x1="160.7" y1="394.1" x2="161.7" y2="395.1" stroke="#e2e2e2" stroke-width="0.55" stroke-linecap="round"/>
<line x1="160.9" y1="398.9" x2="162.2" y2="400.0" stroke="#888888" stroke-width="0.55" stroke-linecap="round"/>
<line x1="166.0" y1="393.3" x2="167.1" y2="393.4" stroke="#888888" stroke-width="0.55" stroke-linecap="round"/>
<line x1="168.4" y1="396.8" x2="168.0" y2="398.3" stroke="#e2e2e2" stroke-width="0.55" stroke-linecap="round"/>
<line x1="162.9" y1="394.1" x2="161.7" y2="394.7" stroke="#888888" stroke-width="0.55" stroke-linecap="round"/>
<line x1="159.5" y1="396.0" x2="159.7" y2="398.0" stroke="#888888" stroke-width="0.55" stroke-linecap="round"/>
<line x1="159.9" y1="399.5" x2="158.3" y2="400.0" stroke="#888888" stroke-width="0.55" stroke-linecap="round"/>
<line x1="165.9" y1="397.0" x2="165.4" y2="398.5" stroke="#e2e2e2" stroke-width="0.55" stroke-linecap="round"/>
<line x1="169.8" y1="396.2" x2="170.4" y2="397.6" stroke="#888888" stroke-width="0.55" stroke-linecap="round"/>
<line x1="162.5" y1="394.2" x2="161.6" y2="394.9" stroke="#e2e2e2" stroke-width="0.55" stroke-linecap="round"/>
<line x1="161.2" y1="393.4" x2="161.6" y2="394.8" stroke="#888888" stroke-width="0.55" stroke-linecap="round"/>
<line x1="165.2" y1="394.0" x2="163.8" y2="394.4" stroke="#e2e2e2" stroke-width="0.55" stroke-linecap="round"/>
<line x1="160.4" y1="393.4" x2="158.9" y2="393.9" stroke="#888888" stroke-width="0.55" stroke-linecap="round"/>
<line x1="162.8" y1="398.2" x2="162.9" y2="399.1" stroke="#888888" stroke-width="0.55" stroke-linecap="round"/>
<line x1="160.6" y1="401.0" x2="159.9" y2="401.7" stroke="#888888" stroke-width="0.55" stroke-linecap="round"/>
<line x1="163.0" y1="399.0" x2="162.6" y2="400.2" stroke="#888888" stroke-width="0.55" stroke-linecap="round"/>
<line x1="162.0" y1="398.1" x2="162.8" y2="398.2" stroke="#e2e2e2" stroke-width="0.55" stroke-linecap="round"/>
<line x1="163.5" y1="396.2" x2="164.2" y2="397.4" stroke="#888888" stroke-width="0.55" stroke-linecap="round"/>
<line x1="169.6" y1="396.5" x2="169.0" y2="397.8" stroke="#e2e2e2" stroke-width="0.55" stroke-linecap="round"/>
<line x1="161.8" y1="396.0" x2="162.9" y2="397.4" stroke="#888888" stroke-width="0.55" stroke-linecap="round"/>
<line x1="163.2" y1="393.6" x2="164.1" y2="394.6" stroke="#888888" stroke-width="0.55" stroke-linecap="round"/>
<line x1="164.1" y1="402.9" x2="163.1" y2="402.9" stroke="#e2e2e2" stroke-width="0.55" stroke-linecap="round"/>
<line x1="165.8" y1="392.9" x2="167.0" y2="393.9" stroke="#e2e2e2" stroke-width="0.55" stroke-linecap="round"/>
<line x1="166.9" y1="394.1" x2="166.9" y2="395.1" stroke="#e2e2e2" stroke-width="0.55" stroke-linecap="round"/>
<circle cx="153.8" cy="411.3" r="2.2" fill="#9a9a9a" fill-opacity="0.6"/>
<path d="M145,409 L146,419" stroke="#9a9a9a" stroke-width="0.6"/>
<rect x="128.65" y="366.65" width="51.50" height="53.00" fill="none" stroke="#555" stroke-width="1.3"/>
<rect x="162.60" y="416.40" width="15" height="1.6" fill="#f6f6f6"/>
<rect x="71.50" y="423.70" width="53.30" height="55.20" fill="#bcbcbc"/>
<rect x="71.50" y="423.70" width="53.30" height="55.20" fill="url(#vig)"/>
<circle cx="85.2" cy="453.6" r="2.4" fill="#d2d2d2" fill-opacity="0.18"/>
<circle cx="104.3" cy="429.1" r="1.5" fill="#d2d2d2" fill-opacity="0.18"/>
<circle cx="86.3" cy="437.7" r="4.0" fill="#d2d2d2" fill-opacity="0.18"/>
<circle cx="100.2" cy="453.8" r="2.5" fill="#a8a8a8" fill-opacity="0.18"/>
<circle cx="84.9" cy="433.5" r="3.8" fill="#d2d2d2" fill-opacity="0.18"/>
<circle cx="110.0" cy="460.1" r="1.7" fill="#a8a8a8" fill-opacity="0.18"/>
<circle cx="88.4" cy="427.3" r="3.7" fill="#d2d2d2" fill-opacity="0.18"/>
<circle cx="102.8" cy="472.8" r="2.5" fill="#d2d2d2" fill-opacity="0.18"/>
<circle cx="93.0" cy="466.7" r="2.6" fill="#a8a8a8" fill-opacity="0.18"/>
<circle cx="116.8" cy="430.7" r="1.8" fill="#a8a8a8" fill-opacity="0.18"/>
<circle cx="86.2" cy="460.1" r="3.4" fill="#d2d2d2" fill-opacity="0.18"/>
<circle cx="94.3" cy="468.4" r="2.9" fill="#d2d2d2" fill-opacity="0.18"/>
<circle cx="102.3" cy="472.0" r="3.2" fill="#a8a8a8" fill-opacity="0.18"/>
<circle cx="115.7" cy="476.4" r="3.2" fill="#a8a8a8" fill-opacity="0.18"/>
<circle cx="107.9" cy="442.4" r="2.9" fill="#a8a8a8" fill-opacity="0.18"/>
<circle cx="108.7" cy="436.5" r="3.6" fill="#d2d2d2" fill-opacity="0.18"/>
<circle cx="87.5" cy="428.9" r="3.6" fill="#d2d2d2" fill-opacity="0.18"/>
<circle cx="77.9" cy="466.7" r="2.5" fill="#a8a8a8" fill-opacity="0.18"/>
<circle cx="74.5" cy="447.6" r="2.5" fill="#a8a8a8" fill-opacity="0.18"/>
<circle cx="75.7" cy="457.2" r="1.6" fill="#d2d2d2" fill-opacity="0.18"/>
<circle cx="100.7" cy="472.9" r="2.2" fill="#a8a8a8" fill-opacity="0.18"/>
<circle cx="122.7" cy="441.6" r="1.7" fill="#a8a8a8" fill-opacity="0.18"/>
<circle cx="120.3" cy="475.4" r="2.2" fill="#d2d2d2" fill-opacity="0.18"/>
<circle cx="81.2" cy="427.9" r="3.7" fill="#d2d2d2" fill-opacity="0.18"/>
<circle cx="91.3" cy="432.8" r="3.7" fill="#d2d2d2" fill-opacity="0.18"/>
<circle cx="96.2" cy="452.3" r="3.1" fill="#a8a8a8" fill-opacity="0.18"/>
<circle cx="104.1" cy="473.9" r="2.8" fill="#d2d2d2" fill-opacity="0.18"/>
<circle cx="104.8" cy="462.3" r="3.8" fill="#d2d2d2" fill-opacity="0.18"/>
<circle cx="121.7" cy="452.4" r="2.9" fill="#a8a8a8" fill-opacity="0.18"/>
<circle cx="112.4" cy="476.3" r="2.3" fill="#d2d2d2" fill-opacity="0.18"/>
<circle cx="103.9" cy="458.1" r="1.7" fill="#d2d2d2" fill-opacity="0.18"/>
<circle cx="96.5" cy="460.5" r="2.4" fill="#d2d2d2" fill-opacity="0.18"/>
<circle cx="109.9" cy="426.8" r="1.7" fill="#a8a8a8" fill-opacity="0.18"/>
<circle cx="121.0" cy="438.6" r="2.6" fill="#d2d2d2" fill-opacity="0.18"/>
<circle cx="82.2" cy="435.2" r="3.4" fill="#d2d2d2" fill-opacity="0.18"/>
<circle cx="88.3" cy="445.0" r="3.4" fill="#a8a8a8" fill-opacity="0.18"/>
<circle cx="121.4" cy="460.7" r="1.8" fill="#a8a8a8" fill-opacity="0.18"/>
<circle cx="105.7" cy="439.5" r="2.3" fill="#d2d2d2" fill-opacity="0.18"/>
<circle cx="105.5" cy="430.7" r="3.0" fill="#d2d2d2" fill-opacity="0.18"/>
<circle cx="106.8" cy="437.2" r="3.5" fill="#a8a8a8" fill-opacity="0.18"/>
<path d="M100.96,433.50 C101.07,433.93 101.87,435.55 101.60,436.11 C101.33,436.66 100.04,436.52 99.34,436.81 C98.65,437.11 98.03,437.96 97.44,437.88 C96.85,437.81 96.42,436.84 95.81,436.34 C95.21,435.84 93.90,435.51 93.80,434.89 C93.71,434.26 95.06,433.49 95.25,432.59 C95.43,431.69 94.53,429.98 94.91,429.49 C95.29,429.01 96.69,429.77 97.51,429.68 C98.34,429.59 99.22,428.69 99.86,428.92 C100.49,429.16 101.14,430.33 101.32,431.10 C101.51,431.86 101.02,433.10 100.96,433.50" fill="#cdcdcd" fill-opacity="0.45" stroke="#e0e0e0" stroke-width="0.9" stroke-opacity="0.7"/>
<path d="M100.96,433.50 C101.07,433.93 101.87,435.55 101.60,436.11 C101.33,436.66 100.04,436.52 99.34,436.81 C98.65,437.11 98.03,437.96 97.44,437.88 C96.85,437.81 96.42,436.84 95.81,436.34 C95.21,435.84 93.90,435.51 93.80,434.89 C93.71,434.26 95.06,433.49 95.25,432.59 C95.43,431.69 94.53,429.98 94.91,429.49 C95.29,429.01 96.69,429.77 97.51,429.68 C98.34,429.59 99.22,428.69 99.86,428.92 C100.49,429.16 101.14,430.33 101.32,431.10 C101.51,431.86 101.02,433.10 100.96,433.50" fill="none" stroke="#8e8e8e" stroke-width="0.5"/>
<line x1="99.4" y1="431.7" x2="98.6" y2="432.2" stroke="#888888" stroke-width="0.55" stroke-linecap="round"/>
<line x1="96.0" y1="432.1" x2="95.9" y2="433.9" stroke="#e2e2e2" stroke-width="0.55" stroke-linecap="round"/>
<line x1="96.7" y1="431.9" x2="96.5" y2="432.7" stroke="#e2e2e2" stroke-width="0.55" stroke-linecap="round"/>
<line x1="98.8" y1="436.2" x2="97.4" y2="436.9" stroke="#888888" stroke-width="0.55" stroke-linecap="round"/>
<line x1="94.7" y1="432.0" x2="94.1" y2="432.7" stroke="#e2e2e2" stroke-width="0.55" stroke-linecap="round"/>
<line x1="98.1" y1="430.0" x2="96.6" y2="430.2" stroke="#888888" stroke-width="0.55" stroke-linecap="round"/>
<line x1="100.2" y1="430.6" x2="99.2" y2="430.7" stroke="#e2e2e2" stroke-width="0.55" stroke-linecap="round"/>
<line x1="101.1" y1="434.3" x2="101.1" y2="435.3" stroke="#888888" stroke-width="0.55" stroke-linecap="round"/>
<line x1="97.3" y1="433.9" x2="97.3" y2="434.8" stroke="#888888" stroke-width="0.55" stroke-linecap="round"/>
<line x1="98.0" y1="434.1" x2="97.9" y2="434.9" stroke="#888888" stroke-width="0.55" stroke-linecap="round"/>
<line x1="99.0" y1="434.4" x2="97.5" y2="434.6" stroke="#888888" stroke-width="0.55" stroke-linecap="round"/>
<line x1="99.6" y1="434.2" x2="101.3" y2="434.9" stroke="#e2e2e2" stroke-width="0.55" stroke-linecap="round"/>
<line x1="98.1" y1="435.6" x2="97.2" y2="435.9" stroke="#888888" stroke-width="0.55" stroke-linecap="round"/>
<line x1="95.3" y1="433.7" x2="95.8" y2="435.4" stroke="#e2e2e2" stroke-width="0.55" stroke-linecap="round"/>
<line x1="96.1" y1="431.5" x2="97.3" y2="431.7" stroke="#888888" stroke-width="0.55" stroke-linecap="round"/>
<line x1="100.0" y1="430.7" x2="100.8" y2="430.8" stroke="#e2e2e2" stroke-width="0.55" stroke-linecap="round"/>
<line x1="101.0" y1="434.2" x2="100.9" y2="435.6" stroke="#e2e2e2" stroke-width="0.55" stroke-linecap="round"/>
<line x1="100.0" y1="434.6" x2="100.4" y2="435.7" stroke="#e2e2e2" stroke-width="0.55" stroke-linecap="round"/>
<line x1="100.4" y1="433.3" x2="101.1" y2="433.6" stroke="#888888" stroke-width="0.55" stroke-linecap="round"/>
<line x1="98.8" y1="430.6" x2="100.1" y2="430.8" stroke="#888888" stroke-width="0.55" stroke-linecap="round"/>
<line x1="95.2" y1="432.7" x2="97.1" y2="432.9" stroke="#e2e2e2" stroke-width="0.55" stroke-linecap="round"/>
<line x1="95.8" y1="431.0" x2="96.9" y2="432.6" stroke="#e2e2e2" stroke-width="0.55" stroke-linecap="round"/>
<line x1="99.7" y1="433.7" x2="100.7" y2="434.8" stroke="#888888" stroke-width="0.55" stroke-linecap="round"/>
<line x1="98.2" y1="434.9" x2="99.4" y2="435.0" stroke="#888888" stroke-width="0.55" stroke-linecap="round"/>
<line x1="94.9" y1="432.1" x2="96.4" y2="432.7" stroke="#888888" stroke-width="0.55" stroke-linecap="round"/>
<path d="M87.73,448.00 C87.66,448.35 87.70,449.62 87.31,450.13 C86.92,450.64 86.03,450.91 85.40,451.07 C84.78,451.23 84.08,451.26 83.56,451.08 C83.04,450.90 82.68,450.37 82.27,450.00 C81.86,449.62 81.37,449.34 81.11,448.85 C80.86,448.36 80.70,447.68 80.76,447.05 C80.81,446.42 81.01,445.53 81.47,445.07 C81.92,444.62 82.82,444.34 83.47,444.33 C84.12,444.32 84.87,444.66 85.36,445.02 C85.85,445.37 86.01,445.96 86.41,446.45 C86.80,446.95 87.51,447.74 87.73,448.00" fill="#cdcdcd" fill-opacity="0.45" stroke="#e0e0e0" stroke-width="0.9" stroke-opacity="0.7"/>
<path d="M87.73,448.00 C87.66,448.35 87.70,449.62 87.31,450.13 C86.92,450.64 86.03,450.91 85.40,451.07 C84.78,451.23 84.08,451.26 83.56,451.08 C83.04,450.90 82.68,450.37 82.27,450.00 C81.86,449.62 81.37,449.34 81.11,448.85 C80.86,448.36 80.70,447.68 80.76,447.05 C80.81,446.42 81.01,445.53 81.47,445.07 C81.92,444.62 82.82,444.34 83.47,444.33 C84.12,444.32 84.87,444.66 85.36,445.02 C85.85,445.37 86.01,445.96 86.41,446.45 C86.80,446.95 87.51,447.74 87.73,448.00" fill="none" stroke="#8e8e8e" stroke-width="0.5"/>
<line x1="82.2" y1="449.5" x2="81.9" y2="451.0" stroke="#e2e2e2" stroke-width="0.55" stroke-linecap="round"/>
<line x1="84.8" y1="446.3" x2="84.0" y2="446.7" stroke="#e2e2e2" stroke-width="0.55" stroke-linecap="round"/>
<line x1="81.4" y1="448.3" x2="82.1" y2="449.2" stroke="#e2e2e2" stroke-width="0.55" stroke-linecap="round"/>
<line x1="86.4" y1="447.9" x2="86.3" y2="449.0" stroke="#888888" stroke-width="0.55" stroke-linecap="round"/>
<line x1="85.9" y1="449.4" x2="85.6" y2="451.2" stroke="#e2e2e2" stroke-width="0.55" stroke-linecap="round"/>
<line x1="86.8" y1="449.5" x2="86.2" y2="450.7" stroke="#888888" stroke-width="0.55" stroke-linecap="round"/>
<line x1="85.5" y1="447.4" x2="84.9" y2="449.3" stroke="#888888" stroke-width="0.55" stroke-linecap="round"/>
<line x1="85.9" y1="447.6" x2="87.3" y2="448.9" stroke="#888888" stroke-width="0.55" stroke-linecap="round"/>
<line x1="86.0" y1="447.6" x2="85.7" y2="449.0" stroke="#888888" stroke-width="0.55" stroke-linecap="round"/>
<line x1="83.5" y1="446.9" x2="84.1" y2="448.6" stroke="#e2e2e2" stroke-width="0.55" stroke-linecap="round"/>
<line x1="81.8" y1="448.0" x2="80.7" y2="449.6" stroke="#888888" stroke-width="0.55" stroke-linecap="round"/>
<line x1="84.7" y1="447.1" x2="84.0" y2="447.8" stroke="#888888" stroke-width="0.55" stroke-linecap="round"/>
<line x1="86.7" y1="446.8" x2="86.5" y2="448.6" stroke="#888888" stroke-width="0.55" stroke-linecap="round"/>
<line x1="85.5" y1="446.1" x2="85.0" y2="448.0" stroke="#888888" stroke-width="0.55" stroke-linecap="round"/>
<line x1="83.4" y1="449.5" x2="82.6" y2="450.1" stroke="#888888" stroke-width="0.55" stroke-linecap="round"/>
<path d="M121.69,446.00 C121.67,446.38 121.83,447.52 121.56,448.29 C121.30,449.06 120.81,450.34 120.12,450.63 C119.42,450.93 118.29,450.23 117.42,450.05 C116.55,449.87 115.57,450.02 114.91,449.57 C114.25,449.11 113.53,448.10 113.46,447.33 C113.40,446.57 114.26,445.77 114.53,444.98 C114.80,444.20 114.63,443.32 115.08,442.63 C115.54,441.95 116.46,441.01 117.26,440.87 C118.07,440.73 119.35,441.23 119.92,441.80 C120.49,442.36 120.41,443.56 120.70,444.26 C121.00,444.96 121.52,445.71 121.69,446.00" fill="#cdcdcd" fill-opacity="0.45" stroke="#e0e0e0" stroke-width="0.9" stroke-opacity="0.7"/>
<path d="M121.69,446.00 C121.67,446.38 121.83,447.52 121.56,448.29 C121.30,449.06 120.81,450.34 120.12,450.63 C119.42,450.93 118.29,450.23 117.42,450.05 C116.55,449.87 115.57,450.02 114.91,449.57 C114.25,449.11 113.53,448.10 113.46,447.33 C113.40,446.57 114.26,445.77 114.53,444.98 C114.80,444.20 114.63,443.32 115.08,442.63 C115.54,441.95 116.46,441.01 117.26,440.87 C118.07,440.73 119.35,441.23 119.92,441.80 C120.49,442.36 120.41,443.56 120.70,444.26 C121.00,444.96 121.52,445.71 121.69,446.00" fill="none" stroke="#8e8e8e" stroke-width="0.5"/>
<line x1="119.1" y1="446.0" x2="117.4" y2="446.2" stroke="#888888" stroke-width="0.55" stroke-linecap="round"/>
<line x1="121.7" y1="447.1" x2="120.2" y2="447.6" stroke="#888888" stroke-width="0.55" stroke-linecap="round"/>
<line x1="119.7" y1="446.8" x2="121.0" y2="448.1" stroke="#888888" stroke-width="0.55" stroke-linecap="round"/>
<line x1="120.1" y1="448.4" x2="119.6" y2="449.1" stroke="#888888" stroke-width="0.55" stroke-linecap="round"/>
<line x1="118.4" y1="446.8" x2="119.2" y2="447.2" stroke="#888888" stroke-width="0.55" stroke-linecap="round"/>
<line x1="119.5" y1="447.4" x2="118.7" y2="447.6" stroke="#e2e2e2" stroke-width="0.55" stroke-linecap="round"/>
<line x1="117.8" y1="443.7" x2="119.0" y2="443.8" stroke="#e2e2e2" stroke-width="0.55" stroke-linecap="round"/>
<line x1="120.9" y1="447.5" x2="119.9" y2="448.5" stroke="#e2e2e2" stroke-width="0.55" stroke-linecap="round"/>
<line x1="116.4" y1="449.5" x2="117.7" y2="449.8" stroke="#e2e2e2" stroke-width="0.55" stroke-linecap="round"/>
<line x1="116.0" y1="445.7" x2="115.9" y2="447.3" stroke="#888888" stroke-width="0.55" stroke-linecap="round"/>
<line x1="116.2" y1="448.0" x2="115.4" y2="449.4" stroke="#888888" stroke-width="0.55" stroke-linecap="round"/>
<line x1="118.5" y1="444.8" x2="117.4" y2="445.0" stroke="#888888" stroke-width="0.55" stroke-linecap="round"/>
<line x1="114.7" y1="445.5" x2="114.7" y2="446.3" stroke="#e2e2e2" stroke-width="0.55" stroke-linecap="round"/>
<line x1="117.5" y1="442.5" x2="116.8" y2="444.0" stroke="#e2e2e2" stroke-width="0.55" stroke-linecap="round"/>
<line x1="115.3" y1="448.8" x2="115.5" y2="449.7" stroke="#888888" stroke-width="0.55" stroke-linecap="round"/>
<line x1="120.9" y1="444.4" x2="120.3" y2="445.6" stroke="#e2e2e2" stroke-width="0.55" stroke-linecap="round"/>
<line x1="119.1" y1="448.6" x2="117.8" y2="449.6" stroke="#e2e2e2" stroke-width="0.55" stroke-linecap="round"/>
<line x1="119.3" y1="448.7" x2="119.0" y2="450.0" stroke="#e2e2e2" stroke-width="0.55" stroke-linecap="round"/>
<line x1="117.9" y1="446.9" x2="119.1" y2="447.5" stroke="#e2e2e2" stroke-width="0.55" stroke-linecap="round"/>
<line x1="117.0" y1="443.3" x2="115.2" y2="444.0" stroke="#e2e2e2" stroke-width="0.55" stroke-linecap="round"/>
<line x1="118.4" y1="445.0" x2="118.4" y2="447.0" stroke="#e2e2e2" stroke-width="0.55" stroke-linecap="round"/>
<line x1="115.2" y1="444.2" x2="114.8" y2="446.1" stroke="#e2e2e2" stroke-width="0.55" stroke-linecap="round"/>
<line x1="117.0" y1="443.1" x2="116.4" y2="444.2" stroke="#888888" stroke-width="0.55" stroke-linecap="round"/>
<line x1="120.2" y1="448.3" x2="118.6" y2="449.0" stroke="#888888" stroke-width="0.55" stroke-linecap="round"/>
<line x1="118.8" y1="447.5" x2="117.7" y2="448.0" stroke="#e2e2e2" stroke-width="0.55" stroke-linecap="round"/>
<path d="M108.97,443.50 C108.51,443.83 107.20,444.95 106.21,445.49 C105.21,446.04 104.25,446.39 103.00,446.79 C101.76,447.19 99.99,448.00 98.74,447.88 C97.49,447.77 96.77,446.61 95.51,446.09 C94.24,445.58 91.49,445.39 91.15,444.80 C90.80,444.21 92.79,443.23 93.44,442.54 C94.09,441.84 94.12,441.11 95.03,440.63 C95.94,440.16 97.49,439.84 98.90,439.68 C100.31,439.52 102.03,439.44 103.50,439.67 C104.97,439.89 106.81,440.38 107.73,441.02 C108.64,441.66 108.76,443.09 108.97,443.50" fill="#cdcdcd" fill-opacity="0.45" stroke="#e0e0e0" stroke-width="0.9" stroke-opacity="0.7"/>
<path d="M108.97,443.50 C108.51,443.83 107.20,444.95 106.21,445.49 C105.21,446.04 104.25,446.39 103.00,446.79 C101.76,447.19 99.99,448.00 98.74,447.88 C97.49,447.77 96.77,446.61 95.51,446.09 C94.24,445.58 91.49,445.39 91.15,444.80 C90.80,444.21 92.79,443.23 93.44,442.54 C94.09,441.84 94.12,441.11 95.03,440.63 C95.94,440.16 97.49,439.84 98.90,439.68 C100.31,439.52 102.03,439.44 103.50,439.67 C104.97,439.89 106.81,440.38 107.73,441.02 C108.64,441.66 108.76,443.09 108.97,443.50" fill="none" stroke="#8e8e8e" stroke-width="0.5"/>
<line x1="99.4" y1="443.0" x2="100.7" y2="443.8" stroke="#e2e2e2" stroke-width="0.55" stroke-linecap="round"/>
<line x1="100.1" y1="441.8" x2="101.5" y2="442.6" stroke="#e2e2e2" stroke-width="0.55" stroke-linecap="round"/>
<line x1="100.7" y1="441.9" x2="99.1" y2="442.9" stroke="#888888" stroke-width="0.55" stroke-linecap="round"/>
<line x1="102.9" y1="444.7" x2="102.5" y2="445.6" stroke="#e2e2e2" stroke-width="0.55" stroke-linecap="round"/>
<line x1="105.9" y1="445.3" x2="107.4" y2="445.5" stroke="#888888" stroke-width="0.55" stroke-linecap="round"/>
<line x1="99.0" y1="443.5" x2="99.6" y2="444.6" stroke="#e2e2e2" stroke-width="0.55" stroke-linecap="round"/>
<line x1="99.3" y1="442.5" x2="97.8" y2="443.4" stroke="#e2e2e2" stroke-width="0.55" stroke-linecap="round"/>
<line x1="106.3" y1="445.2" x2="105.2" y2="445.2" stroke="#e2e2e2" stroke-width="0.55" stroke-linecap="round"/>
<line x1="101.9" y1="446.4" x2="102.8" y2="447.1" stroke="#888888" stroke-width="0.55" stroke-linecap="round"/>
<line x1="94.4" y1="445.3" x2="93.7" y2="446.3" stroke="#e2e2e2" stroke-width="0.55" stroke-linecap="round"/>
<line x1="106.0" y1="444.9" x2="107.1" y2="445.7" stroke="#e2e2e2" stroke-width="0.55" stroke-linecap="round"/>
<line x1="94.2" y1="444.3" x2="94.5" y2="445.6" stroke="#e2e2e2" stroke-width="0.55" stroke-linecap="round"/>
<line x1="99.7" y1="446.8" x2="99.9" y2="448.0" stroke="#e2e2e2" stroke-width="0.55" stroke-linecap="round"/>
<line x1="106.3" y1="442.9" x2="107.2" y2="443.8" stroke="#888888" stroke-width="0.55" stroke-linecap="round"/>
<line x1="97.2" y1="443.2" x2="98.7" y2="443.3" stroke="#888888" stroke-width="0.55" stroke-linecap="round"/>
<line x1="98.2" y1="442.5" x2="97.8" y2="443.7" stroke="#e2e2e2" stroke-width="0.55" stroke-linecap="round"/>
<line x1="102.5" y1="441.6" x2="102.9" y2="442.3" stroke="#888888" stroke-width="0.55" stroke-linecap="round"/>
<line x1="100.1" y1="444.2" x2="100.1" y2="446.1" stroke="#888888" stroke-width="0.55" stroke-linecap="round"/>
<line x1="100.2" y1="445.7" x2="101.2" y2="446.4" stroke="#e2e2e2" stroke-width="0.55" stroke-linecap="round"/>
<line x1="104.7" y1="442.1" x2="103.8" y2="442.7" stroke="#888888" stroke-width="0.55" stroke-linecap="round"/>
<line x1="106.0" y1="442.4" x2="104.6" y2="442.5" stroke="#888888" stroke-width="0.55" stroke-linecap="round"/>
<line x1="104.1" y1="443.9" x2="102.9" y2="443.9" stroke="#e2e2e2" stroke-width="0.55" stroke-linecap="round"/>
<line x1="98.0" y1="443.9" x2="97.7" y2="444.8" stroke="#888888" stroke-width="0.55" stroke-linecap="round"/>
<line x1="105.1" y1="443.8" x2="105.1" y2="444.8" stroke="#888888" stroke-width="0.55" stroke-linecap="round"/>
<line x1="96.7" y1="446.5" x2="95.8" y2="447.3" stroke="#e2e2e2" stroke-width="0.55" stroke-linecap="round"/>
<line x1="96.5" y1="445.8" x2="97.1" y2="447.4" stroke="#888888" stroke-width="0.55" stroke-linecap="round"/>
<line x1="94.5" y1="445.7" x2="95.6" y2="446.4" stroke="#888888" stroke-width="0.55" stroke-linecap="round"/>
<line x1="95.0" y1="442.7" x2="94.0" y2="443.6" stroke="#888888" stroke-width="0.55" stroke-linecap="round"/>
<line x1="102.9" y1="441.8" x2="101.7" y2="442.1" stroke="#e2e2e2" stroke-width="0.55" stroke-linecap="round"/>
<line x1="101.5" y1="441.2" x2="101.8" y2="442.9" stroke="#e2e2e2" stroke-width="0.55" stroke-linecap="round"/>
<path d="M106.10,458.00 C105.59,458.52 104.13,460.11 103.02,461.09 C101.92,462.07 101.08,463.24 99.47,463.87 C97.86,464.50 95.24,465.06 93.35,464.87 C91.46,464.69 89.74,463.57 88.13,462.75 C86.53,461.94 83.74,460.98 83.73,459.99 C83.72,458.99 87.06,457.71 88.08,456.78 C89.10,455.86 88.96,455.30 89.85,454.44 C90.75,453.57 91.84,452.03 93.47,451.61 C95.10,451.19 98.32,451.27 99.62,451.93 C100.92,452.60 100.19,454.57 101.28,455.58 C102.36,456.59 105.30,457.60 106.10,458.00" fill="#cdcdcd" fill-opacity="0.45" stroke="#e0e0e0" stroke-width="0.9" stroke-opacity="0.7"/>
<path d="M106.10,458.00 C105.59,458.52 104.13,460.11 103.02,461.09 C101.92,462.07 101.08,463.24 99.47,463.87 C97.86,464.50 95.24,465.06 93.35,464.87 C91.46,464.69 89.74,463.57 88.13,462.75 C86.53,461.94 83.74,460.98 83.73,459.99 C83.72,458.99 87.06,457.71 88.08,456.78 C89.10,455.86 88.96,455.30 89.85,454.44 C90.75,453.57 91.84,452.03 93.47,451.61 C95.10,451.19 98.32,451.27 99.62,451.93 C100.92,452.60 100.19,454.57 101.28,455.58 C102.36,456.59 105.30,457.60 106.10,458.00" fill="none" stroke="#8e8e8e" stroke-width="0.5"/>
<line x1="92.4" y1="453.9" x2="93.2" y2="455.2" stroke="#888888" stroke-width="0.55" stroke-linecap="round"/>
<line x1="101.6" y1="459.5" x2="102.9" y2="459.7" stroke="#888888" stroke-width="0.55" stroke-linecap="round"/>
<line x1="89.6" y1="453.7" x2="90.6" y2="453.7" stroke="#888888" stroke-width="0.55" stroke-linecap="round"/>
<line x1="99.5" y1="456.4" x2="100.3" y2="457.5" stroke="#888888" stroke-width="0.55" stroke-linecap="round"/>
<line x1="96.8" y1="462.3" x2="94.9" y2="462.5" stroke="#e2e2e2" stroke-width="0.55" stroke-linecap="round"/>
<line x1="98.0" y1="457.8" x2="98.7" y2="458.7" stroke="#888888" stroke-width="0.55" stroke-linecap="round"/>
<line x1="88.6" y1="457.6" x2="87.5" y2="458.0" stroke="#888888" stroke-width="0.55" stroke-linecap="round"/>
<line x1="96.2" y1="454.4" x2="95.9" y2="455.2" stroke="#888888" stroke-width="0.55" stroke-linecap="round"/>
<line x1="88.2" y1="455.1" x2="90.0" y2="455.7" stroke="#e2e2e2" stroke-width="0.55" stroke-linecap="round"/>
<line x1="99.4" y1="460.2" x2="98.0" y2="461.0" stroke="#e2e2e2" stroke-width="0.55" stroke-linecap="round"/>
<line x1="87.7" y1="458.4" x2="86.9" y2="459.4" stroke="#888888" stroke-width="0.55" stroke-linecap="round"/>
<line x1="95.8" y1="455.1" x2="94.5" y2="455.4" stroke="#e2e2e2" stroke-width="0.55" stroke-linecap="round"/>
<line x1="95.6" y1="458.3" x2="96.5" y2="459.6" stroke="#e2e2e2" stroke-width="0.55" stroke-linecap="round"/>
<line x1="97.8" y1="462.4" x2="96.2" y2="462.8" stroke="#e2e2e2" stroke-width="0.55" stroke-linecap="round"/>
<line x1="95.5" y1="456.6" x2="95.4" y2="457.7" stroke="#888888" stroke-width="0.55" stroke-linecap="round"/>
<line x1="99.0" y1="459.0" x2="99.3" y2="460.1" stroke="#e2e2e2" stroke-width="0.55" stroke-linecap="round"/>
<line x1="95.0" y1="455.5" x2="96.4" y2="456.7" stroke="#888888" stroke-width="0.55" stroke-linecap="round"/>
<line x1="87.6" y1="459.0" x2="86.5" y2="459.6" stroke="#e2e2e2" stroke-width="0.55" stroke-linecap="round"/>
<line x1="90.9" y1="455.6" x2="89.0" y2="456.2" stroke="#e2e2e2" stroke-width="0.55" stroke-linecap="round"/>
<line x1="93.6" y1="457.5" x2="92.8" y2="457.6" stroke="#888888" stroke-width="0.55" stroke-linecap="round"/>
<line x1="98.4" y1="458.4" x2="98.4" y2="459.2" stroke="#e2e2e2" stroke-width="0.55" stroke-linecap="round"/>
<line x1="96.4" y1="460.3" x2="96.4" y2="461.2" stroke="#e2e2e2" stroke-width="0.55" stroke-linecap="round"/>
<line x1="97.6" y1="462.5" x2="98.8" y2="463.1" stroke="#888888" stroke-width="0.55" stroke-linecap="round"/>
<line x1="91.2" y1="458.8" x2="91.2" y2="460.6" stroke="#e2e2e2" stroke-width="0.55" stroke-linecap="round"/>
<line x1="89.3" y1="461.4" x2="88.5" y2="463.2" stroke="#e2e2e2" stroke-width="0.55" stroke-linecap="round"/>
<line x1="100.8" y1="456.6" x2="99.7" y2="456.6" stroke="#888888" stroke-width="0.55" stroke-linecap="round"/>
<line x1="94.6" y1="458.9" x2="95.1" y2="460.0" stroke="#888888" stroke-width="0.55" stroke-linecap="round"/>
<line x1="94.9" y1="452.8" x2="94.8" y2="453.6" stroke="#888888" stroke-width="0.55" stroke-linecap="round"/>
<line x1="95.8" y1="458.6" x2="95.0" y2="458.8" stroke="#888888" stroke-width="0.55" stroke-linecap="round"/>
<line x1="96.4" y1="454.9" x2="95.2" y2="455.0" stroke="#888888" stroke-width="0.55" stroke-linecap="round"/>
<line x1="90.6" y1="458.2" x2="91.8" y2="459.6" stroke="#888888" stroke-width="0.55" stroke-linecap="round"/>
<line x1="88.5" y1="455.1" x2="88.7" y2="456.2" stroke="#888888" stroke-width="0.55" stroke-linecap="round"/>
<line x1="87.3" y1="458.0" x2="87.8" y2="458.8" stroke="#e2e2e2" stroke-width="0.55" stroke-linecap="round"/>
<line x1="98.7" y1="457.9" x2="97.6" y2="459.0" stroke="#888888" stroke-width="0.55" stroke-linecap="round"/>
<line x1="94.7" y1="453.1" x2="95.1" y2="454.7" stroke="#e2e2e2" stroke-width="0.55" stroke-linecap="round"/>
<line x1="95.8" y1="458.5" x2="97.1" y2="458.7" stroke="#e2e2e2" stroke-width="0.55" stroke-linecap="round"/>
<line x1="97.5" y1="454.7" x2="97.4" y2="456.4" stroke="#888888" stroke-width="0.55" stroke-linecap="round"/>
<line x1="101.4" y1="457.5" x2="102.0" y2="458.9" stroke="#e2e2e2" stroke-width="0.55" stroke-linecap="round"/>
<line x1="98.0" y1="458.9" x2="97.2" y2="459.4" stroke="#888888" stroke-width="0.55" stroke-linecap="round"/>
<line x1="90.5" y1="459.0" x2="91.3" y2="459.8" stroke="#888888" stroke-width="0.55" stroke-linecap="round"/>
<line x1="92.0" y1="457.1" x2="93.4" y2="457.2" stroke="#e2e2e2" stroke-width="0.55" stroke-linecap="round"/>
<line x1="88.3" y1="459.1" x2="89.1" y2="459.9" stroke="#888888" stroke-width="0.55" stroke-linecap="round"/>
<line x1="97.4" y1="459.3" x2="96.0" y2="460.3" stroke="#e2e2e2" stroke-width="0.55" stroke-linecap="round"/>
<line x1="92.7" y1="458.6" x2="94.1" y2="458.7" stroke="#888888" stroke-width="0.55" stroke-linecap="round"/>
<line x1="97.8" y1="454.8" x2="98.5" y2="455.8" stroke="#888888" stroke-width="0.55" stroke-linecap="round"/>
<path d="M92.92,458.80 C92.70,459.16 92.16,460.44 91.56,460.94 C90.97,461.43 90.12,461.67 89.37,461.77 C88.62,461.87 87.69,461.86 87.08,461.54 C86.48,461.21 86.00,460.47 85.73,459.83 C85.46,459.19 85.29,458.37 85.48,457.69 C85.68,457.01 86.23,456.14 86.89,455.76 C87.56,455.38 88.72,455.21 89.45,455.39 C90.19,455.58 90.72,456.30 91.30,456.87 C91.88,457.44 92.65,458.48 92.92,458.80" fill="none" stroke="#8a8a8a" stroke-width="0.55"/>
<path d="M98.44,456.00 C98.30,456.37 98.09,457.57 97.63,458.21 C97.17,458.84 96.40,459.67 95.67,459.81 C94.94,459.95 93.97,459.45 93.25,459.04 C92.52,458.62 91.61,458.06 91.32,457.34 C91.02,456.62 91.19,455.48 91.50,454.73 C91.81,453.97 92.48,453.11 93.16,452.81 C93.83,452.50 94.78,452.74 95.55,452.88 C96.32,453.03 97.30,453.15 97.78,453.67 C98.26,454.19 98.33,455.61 98.44,456.00" fill="none" stroke="#8a8a8a" stroke-width="0.55"/>
<path d="M104.47,457.50 C104.43,457.89 104.64,459.22 104.22,459.82 C103.81,460.41 102.78,460.94 101.97,461.08 C101.16,461.23 100.07,461.08 99.35,460.70 C98.62,460.31 97.85,459.50 97.60,458.77 C97.35,458.04 97.51,456.99 97.84,456.31 C98.17,455.63 98.88,455.09 99.58,454.68 C100.27,454.27 101.25,453.71 101.99,453.83 C102.72,453.95 103.55,454.78 103.96,455.39 C104.38,456.00 104.39,457.15 104.47,457.50" fill="none" stroke="#8a8a8a" stroke-width="0.55"/>
<circle cx="97.8" cy="432.5" r="1.3" fill="#f2f2f2"/><circle cx="98.2" cy="431.8" r="0.8" fill="#444"/>
<circle cx="84" cy="447.8" r="1.3" fill="#f2f2f2"/>
<circle cx="118.5" cy="446" r="1.3" fill="#f0f0f0"/><circle cx="117" cy="445" r="0.7" fill="#555"/>
<rect x="72.15" y="424.35" width="52.00" height="53.90" fill="none" stroke="#555" stroke-width="1.3"/>
<rect x="106.80" y="473.90" width="15" height="1.6" fill="#f6f6f6"/>
<rect x="128.00" y="423.70" width="52.80" height="55.20" fill="#bcbcbc"/>
<rect x="128.00" y="423.70" width="52.80" height="55.20" fill="url(#vig)"/>
<circle cx="141.5" cy="431.0" r="2.5" fill="#a8a8a8" fill-opacity="0.18"/>
<circle cx="134.4" cy="426.7" r="2.9" fill="#d2d2d2" fill-opacity="0.18"/>
<circle cx="169.1" cy="464.9" r="2.1" fill="#d2d2d2" fill-opacity="0.18"/>
<circle cx="143.5" cy="434.5" r="1.8" fill="#a8a8a8" fill-opacity="0.18"/>
<circle cx="176.0" cy="427.0" r="3.1" fill="#d2d2d2" fill-opacity="0.18"/>
<circle cx="169.1" cy="435.6" r="2.3" fill="#d2d2d2" fill-opacity="0.18"/>
<circle cx="134.2" cy="456.7" r="3.2" fill="#a8a8a8" fill-opacity="0.18"/>
<circle cx="138.7" cy="449.9" r="1.7" fill="#d2d2d2" fill-opacity="0.18"/>
<circle cx="130.4" cy="440.6" r="3.3" fill="#d2d2d2" fill-opacity="0.18"/>
<circle cx="171.4" cy="451.7" r="2.5" fill="#d2d2d2" fill-opacity="0.18"/>
<circle cx="151.0" cy="434.0" r="2.3" fill="#a8a8a8" fill-opacity="0.18"/>
<circle cx="134.0" cy="449.4" r="4.0" fill="#d2d2d2" fill-opacity="0.18"/>
<circle cx="164.2" cy="433.1" r="3.2" fill="#a8a8a8" fill-opacity="0.18"/>
<circle cx="150.1" cy="436.1" r="3.1" fill="#d2d2d2" fill-opacity="0.18"/>
<circle cx="139.0" cy="448.0" r="3.0" fill="#a8a8a8" fill-opacity="0.18"/>
<circle cx="174.1" cy="430.9" r="1.7" fill="#a8a8a8" fill-opacity="0.18"/>
<circle cx="143.5" cy="455.5" r="3.7" fill="#a8a8a8" fill-opacity="0.18"/>
<circle cx="146.2" cy="434.8" r="2.6" fill="#a8a8a8" fill-opacity="0.18"/>
<circle cx="147.4" cy="429.9" r="3.9" fill="#d2d2d2" fill-opacity="0.18"/>
<circle cx="165.9" cy="474.8" r="1.5" fill="#d2d2d2" fill-opacity="0.18"/>
<circle cx="145.7" cy="433.5" r="3.1" fill="#a8a8a8" fill-opacity="0.18"/>
<circle cx="144.3" cy="435.5" r="2.6" fill="#a8a8a8" fill-opacity="0.18"/>
<circle cx="142.2" cy="456.4" r="1.9" fill="#a8a8a8" fill-opacity="0.18"/>
<circle cx="147.7" cy="449.0" r="2.4" fill="#d2d2d2" fill-opacity="0.18"/>
<circle cx="178.7" cy="455.0" r="2.6" fill="#a8a8a8" fill-opacity="0.18"/>
<circle cx="150.7" cy="436.3" r="1.6" fill="#a8a8a8" fill-opacity="0.18"/>
<circle cx="166.0" cy="456.2" r="3.9" fill="#a8a8a8" fill-opacity="0.18"/>
<circle cx="156.7" cy="455.5" r="2.3" fill="#a8a8a8" fill-opacity="0.18"/>
<circle cx="136.0" cy="452.8" r="3.4" fill="#d2d2d2" fill-opacity="0.18"/>
<circle cx="161.8" cy="436.0" r="2.0" fill="#d2d2d2" fill-opacity="0.18"/>
<circle cx="150.0" cy="427.6" r="2.6" fill="#a8a8a8" fill-opacity="0.18"/>
<circle cx="161.6" cy="447.6" r="2.0" fill="#a8a8a8" fill-opacity="0.18"/>
<circle cx="131.5" cy="438.7" r="2.1" fill="#a8a8a8" fill-opacity="0.18"/>
<circle cx="167.7" cy="447.1" r="2.2" fill="#d2d2d2" fill-opacity="0.18"/>
<circle cx="132.5" cy="473.2" r="2.9" fill="#d2d2d2" fill-opacity="0.18"/>
<circle cx="177.0" cy="459.1" r="3.7" fill="#a8a8a8" fill-opacity="0.18"/>
<circle cx="154.1" cy="430.5" r="2.0" fill="#a8a8a8" fill-opacity="0.18"/>
<circle cx="146.4" cy="459.3" r="3.5" fill="#d2d2d2" fill-opacity="0.18"/>
<circle cx="169.8" cy="452.7" r="3.1" fill="#d2d2d2" fill-opacity="0.18"/>
<circle cx="146.5" cy="445.8" r="2.7" fill="#d2d2d2" fill-opacity="0.18"/>
<path d="M154.81,448.00 C154.29,449.21 153.17,453.85 151.70,455.27 C150.23,456.69 147.72,455.29 146.00,456.54 C144.28,457.79 142.70,462.96 141.36,462.79 C140.03,462.62 139.62,457.25 138.00,455.50 C136.38,453.76 132.46,454.22 131.64,452.34 C130.82,450.46 131.99,446.13 133.08,444.21 C134.18,442.30 136.75,441.88 138.22,440.83 C139.68,439.78 140.38,438.73 141.88,437.92 C143.39,437.11 145.66,435.44 147.23,435.97 C148.79,436.49 150.02,439.07 151.28,441.08 C152.55,443.09 154.22,446.85 154.81,448.00" fill="#cdcdcd" fill-opacity="0.45" stroke="#e0e0e0" stroke-width="0.9" stroke-opacity="0.7"/>
<path d="M154.81,448.00 C154.29,449.21 153.17,453.85 151.70,455.27 C150.23,456.69 147.72,455.29 146.00,456.54 C144.28,457.79 142.70,462.96 141.36,462.79 C140.03,462.62 139.62,457.25 138.00,455.50 C136.38,453.76 132.46,454.22 131.64,452.34 C130.82,450.46 131.99,446.13 133.08,444.21 C134.18,442.30 136.75,441.88 138.22,440.83 C139.68,439.78 140.38,438.73 141.88,437.92 C143.39,437.11 145.66,435.44 147.23,435.97 C148.79,436.49 150.02,439.07 151.28,441.08 C152.55,443.09 154.22,446.85 154.81,448.00" fill="none" stroke="#8e8e8e" stroke-width="0.5"/>
<line x1="142.8" y1="436.7" x2="143.4" y2="437.2" stroke="#888888" stroke-width="0.55" stroke-linecap="round"/>
<line x1="151.4" y1="448.9" x2="153.1" y2="449.5" stroke="#888888" stroke-width="0.55" stroke-linecap="round"/>
<line x1="147.8" y1="442.0" x2="146.8" y2="442.4" stroke="#888888" stroke-width="0.55" stroke-linecap="round"/>
<line x1="138.9" y1="457.7" x2="137.8" y2="458.6" stroke="#888888" stroke-width="0.55" stroke-linecap="round"/>
<line x1="144.6" y1="448.4" x2="144.2" y2="449.7" stroke="#888888" stroke-width="0.55" stroke-linecap="round"/>
<line x1="140.4" y1="445.3" x2="141.1" y2="446.8" stroke="#888888" stroke-width="0.55" stroke-linecap="round"/>
<line x1="151.2" y1="448.7" x2="150.4" y2="449.2" stroke="#888888" stroke-width="0.55" stroke-linecap="round"/>
<line x1="137.1" y1="455.1" x2="137.7" y2="455.9" stroke="#e2e2e2" stroke-width="0.55" stroke-linecap="round"/>
<line x1="145.7" y1="447.2" x2="147.2" y2="447.8" stroke="#888888" stroke-width="0.55" stroke-linecap="round"/>
<line x1="137.1" y1="447.4" x2="135.5" y2="448.1" stroke="#e2e2e2" stroke-width="0.55" stroke-linecap="round"/>
<line x1="145.9" y1="444.5" x2="147.0" y2="446.0" stroke="#e2e2e2" stroke-width="0.55" stroke-linecap="round"/>
<line x1="144.1" y1="443.4" x2="143.2" y2="443.8" stroke="#e2e2e2" stroke-width="0.55" stroke-linecap="round"/>
<line x1="137.8" y1="448.2" x2="137.5" y2="450.1" stroke="#888888" stroke-width="0.55" stroke-linecap="round"/>
<line x1="148.0" y1="448.2" x2="147.8" y2="449.6" stroke="#888888" stroke-width="0.55" stroke-linecap="round"/>
<line x1="140.5" y1="448.3" x2="141.8" y2="449.6" stroke="#e2e2e2" stroke-width="0.55" stroke-linecap="round"/>
<line x1="143.9" y1="436.4" x2="143.3" y2="437.9" stroke="#888888" stroke-width="0.55" stroke-linecap="round"/>
<line x1="139.7" y1="458.3" x2="139.9" y2="460.2" stroke="#e2e2e2" stroke-width="0.55" stroke-linecap="round"/>
<line x1="148.4" y1="440.3" x2="147.9" y2="441.6" stroke="#e2e2e2" stroke-width="0.55" stroke-linecap="round"/>
<line x1="143.7" y1="441.0" x2="143.2" y2="441.9" stroke="#e2e2e2" stroke-width="0.55" stroke-linecap="round"/>
<line x1="148.0" y1="456.3" x2="149.6" y2="457.3" stroke="#e2e2e2" stroke-width="0.55" stroke-linecap="round"/>
<line x1="138.3" y1="444.8" x2="137.9" y2="445.7" stroke="#e2e2e2" stroke-width="0.55" stroke-linecap="round"/>
<line x1="146.5" y1="446.1" x2="146.0" y2="447.1" stroke="#e2e2e2" stroke-width="0.55" stroke-linecap="round"/>
<line x1="144.3" y1="448.2" x2="142.5" y2="448.5" stroke="#888888" stroke-width="0.55" stroke-linecap="round"/>
<line x1="146.1" y1="437.3" x2="147.4" y2="438.0" stroke="#e2e2e2" stroke-width="0.55" stroke-linecap="round"/>
<line x1="135.2" y1="442.9" x2="133.8" y2="444.3" stroke="#e2e2e2" stroke-width="0.55" stroke-linecap="round"/>
<line x1="138.7" y1="440.2" x2="137.6" y2="441.3" stroke="#888888" stroke-width="0.55" stroke-linecap="round"/>
<line x1="140.2" y1="458.7" x2="140.6" y2="460.1" stroke="#888888" stroke-width="0.55" stroke-linecap="round"/>
<line x1="141.6" y1="441.8" x2="142.5" y2="442.6" stroke="#888888" stroke-width="0.55" stroke-linecap="round"/>
<line x1="151.5" y1="447.8" x2="151.9" y2="449.0" stroke="#888888" stroke-width="0.55" stroke-linecap="round"/>
<line x1="141.8" y1="455.3" x2="142.8" y2="455.4" stroke="#888888" stroke-width="0.55" stroke-linecap="round"/>
<line x1="140.5" y1="439.4" x2="141.3" y2="441.2" stroke="#888888" stroke-width="0.55" stroke-linecap="round"/>
<line x1="144.3" y1="450.5" x2="142.3" y2="450.7" stroke="#888888" stroke-width="0.55" stroke-linecap="round"/>
<line x1="139.0" y1="444.0" x2="140.1" y2="444.3" stroke="#e2e2e2" stroke-width="0.55" stroke-linecap="round"/>
<line x1="150.7" y1="443.2" x2="149.9" y2="443.8" stroke="#e2e2e2" stroke-width="0.55" stroke-linecap="round"/>
<line x1="140.3" y1="458.9" x2="141.9" y2="459.7" stroke="#888888" stroke-width="0.55" stroke-linecap="round"/>
<line x1="134.6" y1="444.7" x2="135.5" y2="445.7" stroke="#e2e2e2" stroke-width="0.55" stroke-linecap="round"/>
<line x1="144.3" y1="449.2" x2="144.8" y2="450.0" stroke="#e2e2e2" stroke-width="0.55" stroke-linecap="round"/>
<line x1="147.8" y1="447.7" x2="146.3" y2="448.3" stroke="#888888" stroke-width="0.55" stroke-linecap="round"/>
<line x1="138.1" y1="438.5" x2="136.5" y2="439.2" stroke="#888888" stroke-width="0.55" stroke-linecap="round"/>
<line x1="140.4" y1="438.7" x2="140.1" y2="440.0" stroke="#e2e2e2" stroke-width="0.55" stroke-linecap="round"/>
<line x1="146.5" y1="441.2" x2="147.5" y2="441.5" stroke="#888888" stroke-width="0.55" stroke-linecap="round"/>
<line x1="142.8" y1="455.3" x2="141.8" y2="456.9" stroke="#e2e2e2" stroke-width="0.55" stroke-linecap="round"/>
<line x1="138.6" y1="453.0" x2="140.4" y2="453.1" stroke="#e2e2e2" stroke-width="0.55" stroke-linecap="round"/>
<line x1="146.4" y1="446.9" x2="148.0" y2="447.7" stroke="#888888" stroke-width="0.55" stroke-linecap="round"/>
<line x1="143.8" y1="456.6" x2="143.9" y2="458.3" stroke="#e2e2e2" stroke-width="0.55" stroke-linecap="round"/>
<line x1="147.1" y1="437.6" x2="146.0" y2="439.1" stroke="#888888" stroke-width="0.55" stroke-linecap="round"/>
<line x1="137.0" y1="455.4" x2="135.7" y2="456.2" stroke="#e2e2e2" stroke-width="0.55" stroke-linecap="round"/>
<line x1="136.7" y1="440.4" x2="137.6" y2="441.7" stroke="#888888" stroke-width="0.55" stroke-linecap="round"/>
<line x1="141.6" y1="446.7" x2="141.2" y2="447.7" stroke="#888888" stroke-width="0.55" stroke-linecap="round"/>
<line x1="140.4" y1="442.5" x2="138.9" y2="443.0" stroke="#e2e2e2" stroke-width="0.55" stroke-linecap="round"/>
<line x1="147.3" y1="438.5" x2="145.5" y2="439.1" stroke="#888888" stroke-width="0.55" stroke-linecap="round"/>
<line x1="140.8" y1="439.4" x2="140.6" y2="441.3" stroke="#e2e2e2" stroke-width="0.55" stroke-linecap="round"/>
<line x1="149.6" y1="452.8" x2="149.6" y2="454.3" stroke="#888888" stroke-width="0.55" stroke-linecap="round"/>
<line x1="143.0" y1="453.2" x2="144.7" y2="453.6" stroke="#888888" stroke-width="0.55" stroke-linecap="round"/>
<line x1="142.0" y1="444.2" x2="140.2" y2="444.3" stroke="#888888" stroke-width="0.55" stroke-linecap="round"/>
<line x1="151.3" y1="448.1" x2="150.7" y2="449.5" stroke="#e2e2e2" stroke-width="0.55" stroke-linecap="round"/>
<line x1="142.8" y1="445.8" x2="142.9" y2="446.8" stroke="#e2e2e2" stroke-width="0.55" stroke-linecap="round"/>
<line x1="149.0" y1="441.6" x2="148.0" y2="442.2" stroke="#e2e2e2" stroke-width="0.55" stroke-linecap="round"/>
<line x1="141.7" y1="446.7" x2="142.2" y2="448.6" stroke="#888888" stroke-width="0.55" stroke-linecap="round"/>
<line x1="146.2" y1="443.1" x2="145.2" y2="444.6" stroke="#888888" stroke-width="0.55" stroke-linecap="round"/>
<path d="M170.85,435.00 C170.51,435.50 169.63,437.23 168.80,437.98 C167.97,438.73 166.96,438.69 165.86,439.51 C164.76,440.34 163.61,442.65 162.20,442.92 C160.79,443.20 158.25,442.21 157.39,441.17 C156.54,440.12 157.43,438.03 157.07,436.65 C156.71,435.27 154.94,433.95 155.23,432.87 C155.51,431.80 157.58,431.04 158.77,430.22 C159.95,429.40 160.94,428.37 162.35,427.98 C163.76,427.58 166.07,427.23 167.23,427.86 C168.38,428.49 168.69,430.55 169.29,431.74 C169.90,432.93 170.59,434.46 170.85,435.00" fill="#cdcdcd" fill-opacity="0.45" stroke="#e0e0e0" stroke-width="0.9" stroke-opacity="0.7"/>
<path d="M170.85,435.00 C170.51,435.50 169.63,437.23 168.80,437.98 C167.97,438.73 166.96,438.69 165.86,439.51 C164.76,440.34 163.61,442.65 162.20,442.92 C160.79,443.20 158.25,442.21 157.39,441.17 C156.54,440.12 157.43,438.03 157.07,436.65 C156.71,435.27 154.94,433.95 155.23,432.87 C155.51,431.80 157.58,431.04 158.77,430.22 C159.95,429.40 160.94,428.37 162.35,427.98 C163.76,427.58 166.07,427.23 167.23,427.86 C168.38,428.49 168.69,430.55 169.29,431.74 C169.90,432.93 170.59,434.46 170.85,435.00" fill="none" stroke="#8e8e8e" stroke-width="0.5"/>
<line x1="160.8" y1="432.8" x2="160.8" y2="433.7" stroke="#e2e2e2" stroke-width="0.55" stroke-linecap="round"/>
<line x1="161.9" y1="440.9" x2="163.5" y2="441.6" stroke="#e2e2e2" stroke-width="0.55" stroke-linecap="round"/>
<line x1="166.4" y1="434.8" x2="167.4" y2="435.1" stroke="#888888" stroke-width="0.55" stroke-linecap="round"/>
<line x1="160.2" y1="429.8" x2="160.2" y2="430.7" stroke="#e2e2e2" stroke-width="0.55" stroke-linecap="round"/>
<line x1="156.6" y1="436.7" x2="157.6" y2="437.3" stroke="#888888" stroke-width="0.55" stroke-linecap="round"/>
<line x1="168.9" y1="439.1" x2="169.7" y2="440.3" stroke="#888888" stroke-width="0.55" stroke-linecap="round"/>
<line x1="165.2" y1="434.0" x2="164.3" y2="434.5" stroke="#888888" stroke-width="0.55" stroke-linecap="round"/>
<line x1="169.7" y1="435.9" x2="170.6" y2="436.5" stroke="#e2e2e2" stroke-width="0.55" stroke-linecap="round"/>
<line x1="161.6" y1="438.2" x2="160.1" y2="438.3" stroke="#e2e2e2" stroke-width="0.55" stroke-linecap="round"/>
<line x1="166.5" y1="434.8" x2="168.0" y2="436.1" stroke="#888888" stroke-width="0.55" stroke-linecap="round"/>
<line x1="160.6" y1="429.3" x2="162.5" y2="429.6" stroke="#888888" stroke-width="0.55" stroke-linecap="round"/>
<line x1="160.2" y1="430.0" x2="161.2" y2="430.3" stroke="#e2e2e2" stroke-width="0.55" stroke-linecap="round"/>
<line x1="158.2" y1="435.6" x2="158.1" y2="436.8" stroke="#888888" stroke-width="0.55" stroke-linecap="round"/>
<line x1="166.8" y1="430.3" x2="167.8" y2="430.5" stroke="#e2e2e2" stroke-width="0.55" stroke-linecap="round"/>
<line x1="163.9" y1="439.8" x2="165.2" y2="440.6" stroke="#e2e2e2" stroke-width="0.55" stroke-linecap="round"/>
<line x1="159.5" y1="439.0" x2="158.5" y2="439.2" stroke="#e2e2e2" stroke-width="0.55" stroke-linecap="round"/>
<line x1="166.8" y1="434.7" x2="167.8" y2="434.8" stroke="#888888" stroke-width="0.55" stroke-linecap="round"/>
<line x1="162.7" y1="428.9" x2="162.7" y2="429.8" stroke="#e2e2e2" stroke-width="0.55" stroke-linecap="round"/>
<line x1="162.6" y1="431.1" x2="163.8" y2="431.7" stroke="#e2e2e2" stroke-width="0.55" stroke-linecap="round"/>
<line x1="160.5" y1="438.3" x2="161.3" y2="438.7" stroke="#888888" stroke-width="0.55" stroke-linecap="round"/>
<line x1="163.0" y1="431.0" x2="164.1" y2="431.4" stroke="#888888" stroke-width="0.55" stroke-linecap="round"/>
<line x1="167.4" y1="432.3" x2="166.0" y2="432.4" stroke="#e2e2e2" stroke-width="0.55" stroke-linecap="round"/>
<line x1="159.3" y1="431.8" x2="158.8" y2="433.4" stroke="#e2e2e2" stroke-width="0.55" stroke-linecap="round"/>
<line x1="157.6" y1="437.2" x2="158.3" y2="437.5" stroke="#e2e2e2" stroke-width="0.55" stroke-linecap="round"/>
<line x1="162.4" y1="439.1" x2="163.3" y2="440.4" stroke="#e2e2e2" stroke-width="0.55" stroke-linecap="round"/>
<line x1="160.2" y1="439.3" x2="159.9" y2="441.2" stroke="#888888" stroke-width="0.55" stroke-linecap="round"/>
<line x1="163.3" y1="438.6" x2="163.1" y2="440.1" stroke="#e2e2e2" stroke-width="0.55" stroke-linecap="round"/>
<line x1="165.6" y1="432.9" x2="165.7" y2="433.8" stroke="#888888" stroke-width="0.55" stroke-linecap="round"/>
<line x1="157.6" y1="431.5" x2="159.1" y2="432.2" stroke="#888888" stroke-width="0.55" stroke-linecap="round"/>
<line x1="169.7" y1="436.8" x2="168.9" y2="437.2" stroke="#888888" stroke-width="0.55" stroke-linecap="round"/>
<line x1="164.7" y1="430.2" x2="164.6" y2="431.3" stroke="#e2e2e2" stroke-width="0.55" stroke-linecap="round"/>
<line x1="156.9" y1="435.9" x2="158.0" y2="436.7" stroke="#e2e2e2" stroke-width="0.55" stroke-linecap="round"/>
<line x1="160.9" y1="429.2" x2="159.9" y2="429.6" stroke="#e2e2e2" stroke-width="0.55" stroke-linecap="round"/>
<line x1="168.7" y1="435.1" x2="167.1" y2="435.9" stroke="#e2e2e2" stroke-width="0.55" stroke-linecap="round"/>
<line x1="161.6" y1="435.7" x2="162.1" y2="437.6" stroke="#e2e2e2" stroke-width="0.55" stroke-linecap="round"/>
<line x1="167.5" y1="429.9" x2="166.6" y2="430.5" stroke="#888888" stroke-width="0.55" stroke-linecap="round"/>
<line x1="169.9" y1="432.1" x2="170.7" y2="432.1" stroke="#e2e2e2" stroke-width="0.55" stroke-linecap="round"/>
<line x1="158.8" y1="434.5" x2="160.3" y2="435.0" stroke="#888888" stroke-width="0.55" stroke-linecap="round"/>
<line x1="160.0" y1="431.7" x2="159.7" y2="433.3" stroke="#e2e2e2" stroke-width="0.55" stroke-linecap="round"/>
<line x1="161.1" y1="435.9" x2="162.7" y2="436.5" stroke="#e2e2e2" stroke-width="0.55" stroke-linecap="round"/>
<line x1="161.5" y1="437.8" x2="161.2" y2="438.7" stroke="#888888" stroke-width="0.55" stroke-linecap="round"/>
<line x1="169.9" y1="437.6" x2="171.4" y2="438.5" stroke="#888888" stroke-width="0.55" stroke-linecap="round"/>
<line x1="160.0" y1="436.6" x2="160.7" y2="438.1" stroke="#888888" stroke-width="0.55" stroke-linecap="round"/>
<line x1="160.0" y1="434.3" x2="159.6" y2="435.2" stroke="#e2e2e2" stroke-width="0.55" stroke-linecap="round"/>
<line x1="160.4" y1="431.2" x2="160.0" y2="432.7" stroke="#e2e2e2" stroke-width="0.55" stroke-linecap="round"/>
<line x1="169.2" y1="433.6" x2="168.0" y2="435.1" stroke="#e2e2e2" stroke-width="0.55" stroke-linecap="round"/>
<line x1="161.5" y1="438.0" x2="162.2" y2="439.0" stroke="#e2e2e2" stroke-width="0.55" stroke-linecap="round"/>
<line x1="164.8" y1="439.2" x2="165.5" y2="440.2" stroke="#888888" stroke-width="0.55" stroke-linecap="round"/>
<line x1="160.8" y1="440.4" x2="159.9" y2="441.1" stroke="#888888" stroke-width="0.55" stroke-linecap="round"/>
<line x1="164.5" y1="436.7" x2="163.7" y2="436.8" stroke="#e2e2e2" stroke-width="0.55" stroke-linecap="round"/>
<line x1="163.7" y1="434.8" x2="163.1" y2="436.1" stroke="#e2e2e2" stroke-width="0.55" stroke-linecap="round"/>
<line x1="163.7" y1="441.2" x2="164.1" y2="442.2" stroke="#e2e2e2" stroke-width="0.55" stroke-linecap="round"/>
<line x1="163.1" y1="431.6" x2="164.7" y2="432.1" stroke="#e2e2e2" stroke-width="0.55" stroke-linecap="round"/>
<line x1="164.0" y1="435.1" x2="162.6" y2="435.2" stroke="#888888" stroke-width="0.55" stroke-linecap="round"/>
<line x1="156.9" y1="432.8" x2="157.4" y2="433.9" stroke="#888888" stroke-width="0.55" stroke-linecap="round"/>
<line x1="167.8" y1="435.0" x2="166.8" y2="436.0" stroke="#e2e2e2" stroke-width="0.55" stroke-linecap="round"/>
<line x1="167.9" y1="433.4" x2="167.0" y2="434.3" stroke="#e2e2e2" stroke-width="0.55" stroke-linecap="round"/>
<line x1="161.0" y1="436.9" x2="162.1" y2="437.0" stroke="#e2e2e2" stroke-width="0.55" stroke-linecap="round"/>
<line x1="157.5" y1="436.5" x2="156.2" y2="437.7" stroke="#e2e2e2" stroke-width="0.55" stroke-linecap="round"/>
<line x1="160.2" y1="429.8" x2="160.8" y2="431.6" stroke="#e2e2e2" stroke-width="0.55" stroke-linecap="round"/>
<path d="M157.46,467.00 C157.26,467.51 156.92,469.18 156.26,470.08 C155.59,470.99 154.58,472.01 153.47,472.41 C152.35,472.82 150.73,472.76 149.55,472.52 C148.36,472.28 147.07,471.69 146.35,470.99 C145.63,470.28 145.54,469.21 145.22,468.29 C144.89,467.38 144.27,466.44 144.40,465.51 C144.54,464.58 145.15,463.26 146.02,462.69 C146.90,462.13 148.49,462.16 149.66,462.11 C150.82,462.06 151.90,462.11 153.02,462.40 C154.14,462.69 155.63,463.09 156.37,463.86 C157.11,464.62 157.28,466.48 157.46,467.00" fill="#cdcdcd" fill-opacity="0.45" stroke="#e0e0e0" stroke-width="0.9" stroke-opacity="0.7"/>
<path d="M157.46,467.00 C157.26,467.51 156.92,469.18 156.26,470.08 C155.59,470.99 154.58,472.01 153.47,472.41 C152.35,472.82 150.73,472.76 149.55,472.52 C148.36,472.28 147.07,471.69 146.35,470.99 C145.63,470.28 145.54,469.21 145.22,468.29 C144.89,467.38 144.27,466.44 144.40,465.51 C144.54,464.58 145.15,463.26 146.02,462.69 C146.90,462.13 148.49,462.16 149.66,462.11 C150.82,462.06 151.90,462.11 153.02,462.40 C154.14,462.69 155.63,463.09 156.37,463.86 C157.11,464.62 157.28,466.48 157.46,467.00" fill="none" stroke="#8e8e8e" stroke-width="0.5"/>
<line x1="149.8" y1="469.5" x2="151.7" y2="469.8" stroke="#888888" stroke-width="0.55" stroke-linecap="round"/>
<line x1="149.3" y1="465.1" x2="150.4" y2="465.8" stroke="#888888" stroke-width="0.55" stroke-linecap="round"/>
<line x1="148.4" y1="469.3" x2="148.8" y2="471.1" stroke="#e2e2e2" stroke-width="0.55" stroke-linecap="round"/>
<line x1="150.9" y1="466.6" x2="149.9" y2="468.0" stroke="#e2e2e2" stroke-width="0.55" stroke-linecap="round"/>
<line x1="150.4" y1="464.6" x2="151.5" y2="465.1" stroke="#e2e2e2" stroke-width="0.55" stroke-linecap="round"/>
<line x1="149.7" y1="463.7" x2="148.7" y2="465.4" stroke="#888888" stroke-width="0.55" stroke-linecap="round"/>
<line x1="151.9" y1="462.7" x2="150.2" y2="463.1" stroke="#e2e2e2" stroke-width="0.55" stroke-linecap="round"/>
<line x1="145.8" y1="466.8" x2="144.3" y2="468.0" stroke="#888888" stroke-width="0.55" stroke-linecap="round"/>
<line x1="149.2" y1="465.0" x2="148.8" y2="466.0" stroke="#888888" stroke-width="0.55" stroke-linecap="round"/>
<line x1="150.8" y1="467.5" x2="149.0" y2="467.8" stroke="#e2e2e2" stroke-width="0.55" stroke-linecap="round"/>
<line x1="155.2" y1="468.1" x2="154.5" y2="468.8" stroke="#888888" stroke-width="0.55" stroke-linecap="round"/>
<line x1="152.7" y1="464.1" x2="153.2" y2="464.8" stroke="#e2e2e2" stroke-width="0.55" stroke-linecap="round"/>
<line x1="146.2" y1="468.4" x2="145.8" y2="469.4" stroke="#888888" stroke-width="0.55" stroke-linecap="round"/>
<line x1="154.4" y1="468.4" x2="155.1" y2="468.8" stroke="#e2e2e2" stroke-width="0.55" stroke-linecap="round"/>
<line x1="151.2" y1="465.0" x2="152.6" y2="465.0" stroke="#e2e2e2" stroke-width="0.55" stroke-linecap="round"/>
<line x1="146.8" y1="465.5" x2="145.7" y2="467.0" stroke="#e2e2e2" stroke-width="0.55" stroke-linecap="round"/>
<line x1="149.3" y1="465.8" x2="149.9" y2="466.5" stroke="#888888" stroke-width="0.55" stroke-linecap="round"/>
<line x1="148.1" y1="470.2" x2="146.9" y2="470.7" stroke="#e2e2e2" stroke-width="0.55" stroke-linecap="round"/>
<line x1="150.5" y1="470.1" x2="150.9" y2="471.0" stroke="#888888" stroke-width="0.55" stroke-linecap="round"/>
<line x1="147.3" y1="463.8" x2="145.8" y2="464.6" stroke="#888888" stroke-width="0.55" stroke-linecap="round"/>
<line x1="149.5" y1="464.2" x2="147.9" y2="465.2" stroke="#e2e2e2" stroke-width="0.55" stroke-linecap="round"/>
<line x1="151.9" y1="468.5" x2="152.1" y2="470.3" stroke="#888888" stroke-width="0.55" stroke-linecap="round"/>
<line x1="152.5" y1="464.8" x2="152.3" y2="465.9" stroke="#888888" stroke-width="0.55" stroke-linecap="round"/>
<line x1="150.4" y1="467.4" x2="150.9" y2="468.8" stroke="#888888" stroke-width="0.55" stroke-linecap="round"/>
<line x1="149.3" y1="471.2" x2="148.5" y2="471.8" stroke="#888888" stroke-width="0.55" stroke-linecap="round"/>
<path d="M152.80,446.00 C152.40,447.29 151.87,451.86 150.44,453.71 C149.00,455.56 146.26,456.86 144.19,457.08 C142.11,457.30 139.75,456.26 138.00,455.03 C136.25,453.80 134.45,451.85 133.70,449.71 C132.94,447.57 132.79,444.40 133.46,442.19 C134.13,439.98 135.98,437.43 137.73,436.44 C139.49,435.46 141.89,435.95 143.98,436.28 C146.07,436.61 148.83,436.81 150.30,438.43 C151.76,440.05 152.38,444.74 152.80,446.00" fill="none" stroke="#8a8a8a" stroke-width="0.60"/>
<path d="M148.41,445.00 C148.09,445.65 147.31,447.84 146.49,448.90 C145.66,449.97 144.57,451.16 143.47,451.39 C142.37,451.62 140.96,450.95 139.89,450.28 C138.82,449.60 137.44,448.54 137.06,447.31 C136.67,446.08 137.16,444.29 137.58,442.91 C137.99,441.53 138.57,439.75 139.55,439.04 C140.53,438.34 142.16,438.46 143.46,438.66 C144.76,438.86 146.53,439.19 147.36,440.24 C148.18,441.30 148.24,444.21 148.41,445.00" fill="none" stroke="#808080" stroke-width="0.60"/>
<path d="M146.13,444.00 C145.95,444.34 145.49,445.41 145.06,446.02 C144.63,446.62 144.14,447.46 143.55,447.63 C142.96,447.80 142.03,447.44 141.51,447.02 C140.98,446.60 140.67,445.82 140.41,445.10 C140.16,444.38 139.74,443.32 139.96,442.71 C140.18,442.10 141.13,441.75 141.72,441.42 C142.31,441.09 142.90,440.67 143.49,440.73 C144.09,440.78 144.86,441.21 145.30,441.75 C145.74,442.30 145.99,443.63 146.13,444.00" fill="none" stroke="#6a6a6a" stroke-width="0.60"/>
<path d="M154.90,467.50 C154.77,467.97 154.74,469.52 154.10,470.31 C153.45,471.11 152.14,472.11 151.02,472.25 C149.91,472.39 148.48,471.67 147.43,471.15 C146.37,470.62 145.04,469.92 144.69,469.08 C144.35,468.24 144.98,467.09 145.36,466.12 C145.74,465.14 146.05,463.81 146.99,463.24 C147.94,462.66 149.91,462.38 151.04,462.67 C152.17,462.95 153.11,464.12 153.75,464.92 C154.40,465.73 154.71,467.07 154.90,467.50" fill="none" stroke="#858585" stroke-width="0.60"/>
<rect x="128.65" y="424.35" width="51.50" height="53.90" fill="none" stroke="#555" stroke-width="1.3"/>
<rect x="162.60" y="473.90" width="15" height="1.6" fill="#f6f6f6"/>
<line x1="235.00" y1="355.20" x2="235.00" y2="476.30" stroke="#111" stroke-width="1.50"/>
<line x1="232.50" y1="475.00" x2="235.00" y2="475.00" stroke="#111" stroke-width="1.00"/>
<line x1="232.50" y1="435.33" x2="235.00" y2="435.33" stroke="#111" stroke-width="1.00"/>
<line x1="232.50" y1="395.67" x2="235.00" y2="395.67" stroke="#111" stroke-width="1.00"/>
<line x1="232.50" y1="356.00" x2="235.00" y2="356.00" stroke="#111" stroke-width="1.00"/>
<text x="220.00" y="358.50" font-size="8.40" font-weight="normal" fill="#2a2a2a" stroke="#2a2a2a" stroke-width="0.08" textLength="9.50" lengthAdjust="spacingAndGlyphs">60</text>
<text x="220.00" y="398.50" font-size="8.40" font-weight="normal" fill="#2a2a2a" stroke="#2a2a2a" stroke-width="0.08" textLength="9.50" lengthAdjust="spacingAndGlyphs">40</text>
<text x="220.00" y="438.50" font-size="8.40" font-weight="normal" fill="#2a2a2a" stroke="#2a2a2a" stroke-width="0.08" textLength="9.50" lengthAdjust="spacingAndGlyphs">20</text>
<text x="225.00" y="477.50" font-size="8.40" font-weight="normal" fill="#2a2a2a" stroke="#2a2a2a" stroke-width="0.08" textLength="4.50" lengthAdjust="spacingAndGlyphs">0</text>
<text transform="translate(214.20,457.60) rotate(-90)" x="0" y="0" font-size="9.00" fill="#2a2a2a" stroke="#2a2a2a" stroke-width="0.12" textLength="86.00" lengthAdjust="spacingAndGlyphs">Surface cover area (mm²)</text>
<line x1="234.30" y1="475.60" x2="415.00" y2="475.60" stroke="#111" stroke-width="1.50"/>
<line x1="264.10" y1="475.60" x2="264.10" y2="478.30" stroke="#111" stroke-width="1.10"/>
<line x1="296.60" y1="475.60" x2="296.60" y2="478.30" stroke="#111" stroke-width="1.10"/>
<line x1="353.20" y1="475.60" x2="353.20" y2="478.30" stroke="#111" stroke-width="1.10"/>
<line x1="386.30" y1="475.60" x2="386.30" y2="478.30" stroke="#111" stroke-width="1.10"/>
<text x="251.00" y="489.20" font-size="8.40" font-weight="normal" fill="#2a2a2a" stroke="#2a2a2a" stroke-width="0.08" textLength="24.00" lengthAdjust="spacingAndGlyphs">DMSO</text>
<text x="281.00" y="489.20" font-size="8.40" font-weight="normal" fill="#2a2a2a" stroke="#2a2a2a" stroke-width="0.08" textLength="30.00" lengthAdjust="spacingAndGlyphs">3-IB-PP1</text>
<text x="341.00" y="489.20" font-size="8.40" font-weight="normal" fill="#2a2a2a" stroke="#2a2a2a" stroke-width="0.08" textLength="24.50" lengthAdjust="spacingAndGlyphs">DMSO</text>
<text x="371.00" y="489.20" font-size="8.40" font-weight="normal" fill="#2a2a2a" stroke="#2a2a2a" stroke-width="0.08" textLength="30.00" lengthAdjust="spacingAndGlyphs">3-IB-PP1</text>
<line x1="246.50" y1="493.20" x2="316.00" y2="493.20" stroke="#1a1a1a" stroke-width="1.45"/>
<line x1="334.50" y1="493.20" x2="408.00" y2="493.20" stroke="#1a1a1a" stroke-width="1.45"/>
<text x="272.50" y="502.50" font-size="8.40" font-weight="normal" fill="#2a2a2a" stroke="#2a2a2a" stroke-width="0.08" textLength="18.50" lengthAdjust="spacingAndGlyphs">basal</text>
<text x="355.00" y="502.50" font-size="8.40" font-weight="normal" fill="#2a2a2a" stroke="#2a2a2a" stroke-width="0.08" textLength="34.00" lengthAdjust="spacingAndGlyphs">thrombin</text>
<line x1="245.20" y1="507.80" x2="405.00" y2="507.80" stroke="#1a1a1a" stroke-width="1.45"/>
<text x="307.50" y="518.70" font-size="8.40" font-weight="normal" fill="#2a2a2a" stroke="#2a2a2a" stroke-width="0.08" textLength="36.50" lengthAdjust="spacingAndGlyphs">Fibrinogen</text>
<circle cx="262.47" cy="424.18" r="0.92" fill="#b51d43"/>
<circle cx="263.89" cy="424.60" r="0.92" fill="#b51d43"/>
<circle cx="265.38" cy="423.88" r="0.92" fill="#b51d43"/>
<circle cx="257.46" cy="426.20" r="0.92" fill="#b51d43"/>
<circle cx="258.70" cy="426.60" r="0.92" fill="#b51d43"/>
<circle cx="260.14" cy="426.77" r="0.92" fill="#b51d43"/>
<circle cx="261.77" cy="426.73" r="0.92" fill="#b51d43"/>
<circle cx="263.03" cy="426.81" r="0.92" fill="#b51d43"/>
<circle cx="266.00" cy="426.50" r="0.92" fill="#b51d43"/>
<circle cx="267.51" cy="426.72" r="0.92" fill="#b51d43"/>
<circle cx="269.02" cy="426.47" r="0.92" fill="#b51d43"/>
<circle cx="270.41" cy="426.28" r="0.92" fill="#b51d43"/>
<circle cx="256.75" cy="428.68" r="0.92" fill="#b51d43"/>
<circle cx="258.02" cy="428.61" r="0.92" fill="#b51d43"/>
<circle cx="259.63" cy="428.76" r="0.92" fill="#b51d43"/>
<circle cx="260.97" cy="429.08" r="0.92" fill="#b51d43"/>
<circle cx="262.30" cy="428.88" r="0.92" fill="#b51d43"/>
<circle cx="263.89" cy="429.29" r="0.92" fill="#b51d43"/>
<circle cx="265.22" cy="429.05" r="0.92" fill="#b51d43"/>
<circle cx="266.73" cy="428.73" r="0.92" fill="#b51d43"/>
<circle cx="268.39" cy="428.90" r="0.92" fill="#b51d43"/>
<circle cx="269.62" cy="428.54" r="0.92" fill="#b51d43"/>
<circle cx="257.39" cy="430.80" r="0.92" fill="#b51d43"/>
<circle cx="258.89" cy="430.79" r="0.92" fill="#b51d43"/>
<circle cx="260.16" cy="431.02" r="0.92" fill="#b51d43"/>
<circle cx="261.66" cy="431.36" r="0.92" fill="#b51d43"/>
<circle cx="263.12" cy="431.45" r="0.92" fill="#b51d43"/>
<circle cx="264.59" cy="431.43" r="0.92" fill="#b51d43"/>
<circle cx="265.96" cy="431.37" r="0.92" fill="#b51d43"/>
<circle cx="267.45" cy="431.16" r="0.92" fill="#b51d43"/>
<circle cx="268.91" cy="430.77" r="0.92" fill="#b51d43"/>
<circle cx="270.45" cy="430.72" r="0.92" fill="#b51d43"/>
<circle cx="255.19" cy="433.30" r="0.92" fill="#b51d43"/>
<circle cx="256.67" cy="433.35" r="0.92" fill="#b51d43"/>
<circle cx="258.00" cy="433.44" r="0.92" fill="#b51d43"/>
<circle cx="259.47" cy="433.24" r="0.92" fill="#b51d43"/>
<circle cx="261.13" cy="433.32" r="0.92" fill="#b51d43"/>
<circle cx="262.56" cy="433.56" r="0.92" fill="#b51d43"/>
<circle cx="263.78" cy="433.42" r="0.92" fill="#b51d43"/>
<circle cx="265.27" cy="433.60" r="0.92" fill="#b51d43"/>
<circle cx="266.90" cy="433.48" r="0.92" fill="#b51d43"/>
<circle cx="268.15" cy="433.45" r="0.92" fill="#b51d43"/>
<circle cx="271.17" cy="433.34" r="0.92" fill="#b51d43"/>
<circle cx="272.53" cy="433.29" r="0.92" fill="#b51d43"/>
<circle cx="256.63" cy="435.25" r="0.92" fill="#b51d43"/>
<circle cx="258.06" cy="435.54" r="0.92" fill="#b51d43"/>
<circle cx="259.51" cy="435.75" r="0.92" fill="#b51d43"/>
<circle cx="261.05" cy="435.76" r="0.92" fill="#b51d43"/>
<circle cx="262.34" cy="435.58" r="0.92" fill="#b51d43"/>
<circle cx="265.41" cy="435.95" r="0.92" fill="#b51d43"/>
<circle cx="268.24" cy="435.69" r="0.92" fill="#b51d43"/>
<circle cx="269.85" cy="435.34" r="0.92" fill="#b51d43"/>
<circle cx="271.22" cy="435.59" r="0.92" fill="#b51d43"/>
<circle cx="272.66" cy="435.46" r="0.92" fill="#b51d43"/>
<circle cx="253.81" cy="437.78" r="0.92" fill="#b51d43"/>
<circle cx="255.18" cy="437.80" r="0.92" fill="#b51d43"/>
<circle cx="256.67" cy="437.80" r="0.92" fill="#b51d43"/>
<circle cx="258.12" cy="437.87" r="0.92" fill="#b51d43"/>
<circle cx="259.59" cy="438.09" r="0.92" fill="#b51d43"/>
<circle cx="261.07" cy="437.92" r="0.92" fill="#b51d43"/>
<circle cx="262.47" cy="438.01" r="0.92" fill="#b51d43"/>
<circle cx="263.78" cy="438.20" r="0.92" fill="#b51d43"/>
<circle cx="266.79" cy="437.85" r="0.92" fill="#b51d43"/>
<circle cx="268.25" cy="437.94" r="0.92" fill="#b51d43"/>
<circle cx="269.63" cy="437.63" r="0.92" fill="#b51d43"/>
<circle cx="271.20" cy="437.63" r="0.92" fill="#b51d43"/>
<circle cx="272.72" cy="437.75" r="0.92" fill="#b51d43"/>
<circle cx="274.17" cy="437.55" r="0.92" fill="#b51d43"/>
<circle cx="253.73" cy="439.96" r="0.92" fill="#b51d43"/>
<circle cx="255.31" cy="439.86" r="0.92" fill="#b51d43"/>
<circle cx="256.59" cy="439.84" r="0.92" fill="#b51d43"/>
<circle cx="258.20" cy="440.19" r="0.92" fill="#b51d43"/>
<circle cx="259.69" cy="440.04" r="0.92" fill="#b51d43"/>
<circle cx="260.99" cy="440.11" r="0.92" fill="#b51d43"/>
<circle cx="262.42" cy="440.33" r="0.92" fill="#b51d43"/>
<circle cx="263.84" cy="440.49" r="0.92" fill="#b51d43"/>
<circle cx="265.34" cy="440.11" r="0.92" fill="#b51d43"/>
<circle cx="268.11" cy="440.21" r="0.92" fill="#b51d43"/>
<circle cx="269.64" cy="440.17" r="0.92" fill="#b51d43"/>
<circle cx="272.59" cy="439.72" r="0.92" fill="#b51d43"/>
<circle cx="273.97" cy="439.69" r="0.92" fill="#b51d43"/>
<circle cx="255.18" cy="442.14" r="0.92" fill="#b51d43"/>
<circle cx="256.74" cy="442.35" r="0.92" fill="#b51d43"/>
<circle cx="258.01" cy="442.25" r="0.92" fill="#b51d43"/>
<circle cx="259.40" cy="442.33" r="0.92" fill="#b51d43"/>
<circle cx="260.90" cy="442.34" r="0.92" fill="#b51d43"/>
<circle cx="262.51" cy="442.52" r="0.92" fill="#b51d43"/>
<circle cx="263.98" cy="442.56" r="0.92" fill="#b51d43"/>
<circle cx="265.47" cy="442.35" r="0.92" fill="#b51d43"/>
<circle cx="266.87" cy="442.28" r="0.92" fill="#b51d43"/>
<circle cx="268.29" cy="442.51" r="0.92" fill="#b51d43"/>
<circle cx="269.72" cy="442.41" r="0.92" fill="#b51d43"/>
<circle cx="271.28" cy="442.16" r="0.92" fill="#b51d43"/>
<circle cx="272.51" cy="442.17" r="0.92" fill="#b51d43"/>
<circle cx="253.09" cy="444.23" r="0.92" fill="#b51d43"/>
<circle cx="254.62" cy="444.60" r="0.92" fill="#b51d43"/>
<circle cx="256.01" cy="444.41" r="0.92" fill="#b51d43"/>
<circle cx="257.48" cy="444.49" r="0.92" fill="#b51d43"/>
<circle cx="258.81" cy="444.64" r="0.92" fill="#b51d43"/>
<circle cx="260.27" cy="444.49" r="0.92" fill="#b51d43"/>
<circle cx="261.59" cy="444.87" r="0.92" fill="#b51d43"/>
<circle cx="263.13" cy="444.93" r="0.92" fill="#b51d43"/>
<circle cx="264.52" cy="444.82" r="0.92" fill="#b51d43"/>
<circle cx="266.18" cy="444.83" r="0.92" fill="#b51d43"/>
<circle cx="267.52" cy="444.86" r="0.92" fill="#b51d43"/>
<circle cx="268.89" cy="444.63" r="0.92" fill="#b51d43"/>
<circle cx="270.49" cy="444.60" r="0.92" fill="#b51d43"/>
<circle cx="271.98" cy="444.50" r="0.92" fill="#b51d43"/>
<circle cx="273.29" cy="444.55" r="0.92" fill="#b51d43"/>
<circle cx="274.69" cy="444.49" r="0.92" fill="#b51d43"/>
<circle cx="252.32" cy="446.47" r="0.92" fill="#b51d43"/>
<circle cx="253.75" cy="446.69" r="0.92" fill="#b51d43"/>
<circle cx="256.65" cy="446.74" r="0.92" fill="#b51d43"/>
<circle cx="258.12" cy="446.84" r="0.92" fill="#b51d43"/>
<circle cx="259.42" cy="446.92" r="0.92" fill="#b51d43"/>
<circle cx="261.14" cy="447.14" r="0.92" fill="#b51d43"/>
<circle cx="262.44" cy="446.89" r="0.92" fill="#b51d43"/>
<circle cx="263.99" cy="447.26" r="0.92" fill="#b51d43"/>
<circle cx="265.30" cy="446.91" r="0.92" fill="#b51d43"/>
<circle cx="266.93" cy="446.82" r="0.92" fill="#b51d43"/>
<circle cx="268.11" cy="446.78" r="0.92" fill="#b51d43"/>
<circle cx="269.76" cy="446.77" r="0.92" fill="#b51d43"/>
<circle cx="271.19" cy="446.62" r="0.92" fill="#b51d43"/>
<circle cx="272.49" cy="446.72" r="0.92" fill="#b51d43"/>
<circle cx="273.96" cy="446.66" r="0.92" fill="#b51d43"/>
<circle cx="275.46" cy="446.55" r="0.92" fill="#b51d43"/>
<circle cx="253.66" cy="448.89" r="0.92" fill="#b51d43"/>
<circle cx="255.21" cy="449.05" r="0.92" fill="#b51d43"/>
<circle cx="256.76" cy="448.88" r="0.92" fill="#b51d43"/>
<circle cx="258.19" cy="449.22" r="0.92" fill="#b51d43"/>
<circle cx="259.49" cy="449.30" r="0.92" fill="#b51d43"/>
<circle cx="261.15" cy="449.36" r="0.92" fill="#b51d43"/>
<circle cx="262.37" cy="449.37" r="0.92" fill="#b51d43"/>
<circle cx="263.78" cy="449.48" r="0.92" fill="#b51d43"/>
<circle cx="265.44" cy="449.13" r="0.92" fill="#b51d43"/>
<circle cx="266.86" cy="449.01" r="0.92" fill="#b51d43"/>
<circle cx="268.30" cy="449.30" r="0.92" fill="#b51d43"/>
<circle cx="269.58" cy="449.06" r="0.92" fill="#b51d43"/>
<circle cx="271.15" cy="449.06" r="0.92" fill="#b51d43"/>
<circle cx="272.47" cy="448.76" r="0.92" fill="#b51d43"/>
<circle cx="253.77" cy="450.96" r="0.92" fill="#b51d43"/>
<circle cx="255.11" cy="451.31" r="0.92" fill="#b51d43"/>
<circle cx="256.78" cy="451.08" r="0.92" fill="#b51d43"/>
<circle cx="259.54" cy="451.49" r="0.92" fill="#b51d43"/>
<circle cx="260.99" cy="451.46" r="0.92" fill="#b51d43"/>
<circle cx="262.48" cy="451.33" r="0.92" fill="#b51d43"/>
<circle cx="264.00" cy="451.47" r="0.92" fill="#b51d43"/>
<circle cx="265.42" cy="451.49" r="0.92" fill="#b51d43"/>
<circle cx="266.70" cy="451.46" r="0.92" fill="#b51d43"/>
<circle cx="269.79" cy="451.40" r="0.92" fill="#b51d43"/>
<circle cx="271.19" cy="451.21" r="0.92" fill="#b51d43"/>
<circle cx="272.60" cy="451.37" r="0.92" fill="#b51d43"/>
<circle cx="273.98" cy="451.27" r="0.92" fill="#b51d43"/>
<circle cx="253.84" cy="453.32" r="0.92" fill="#b51d43"/>
<circle cx="255.31" cy="453.51" r="0.92" fill="#b51d43"/>
<circle cx="256.73" cy="453.46" r="0.92" fill="#b51d43"/>
<circle cx="257.97" cy="453.51" r="0.92" fill="#b51d43"/>
<circle cx="259.40" cy="453.58" r="0.92" fill="#b51d43"/>
<circle cx="261.04" cy="453.60" r="0.92" fill="#b51d43"/>
<circle cx="262.50" cy="453.72" r="0.92" fill="#b51d43"/>
<circle cx="263.92" cy="453.86" r="0.92" fill="#b51d43"/>
<circle cx="265.50" cy="453.84" r="0.92" fill="#b51d43"/>
<circle cx="266.88" cy="453.90" r="0.92" fill="#b51d43"/>
<circle cx="269.77" cy="453.47" r="0.92" fill="#b51d43"/>
<circle cx="271.02" cy="453.38" r="0.92" fill="#b51d43"/>
<circle cx="272.48" cy="453.33" r="0.92" fill="#b51d43"/>
<circle cx="274.07" cy="453.37" r="0.92" fill="#b51d43"/>
<circle cx="254.62" cy="455.66" r="0.92" fill="#b51d43"/>
<circle cx="255.80" cy="455.72" r="0.92" fill="#b51d43"/>
<circle cx="257.24" cy="455.93" r="0.92" fill="#b51d43"/>
<circle cx="258.82" cy="455.70" r="0.92" fill="#b51d43"/>
<circle cx="260.31" cy="455.73" r="0.92" fill="#b51d43"/>
<circle cx="261.70" cy="456.00" r="0.92" fill="#b51d43"/>
<circle cx="263.13" cy="455.98" r="0.92" fill="#b51d43"/>
<circle cx="264.64" cy="455.97" r="0.92" fill="#b51d43"/>
<circle cx="266.01" cy="455.79" r="0.92" fill="#b51d43"/>
<circle cx="267.39" cy="455.77" r="0.92" fill="#b51d43"/>
<circle cx="268.94" cy="455.99" r="0.92" fill="#b51d43"/>
<circle cx="270.29" cy="455.95" r="0.92" fill="#b51d43"/>
<circle cx="271.75" cy="455.84" r="0.92" fill="#b51d43"/>
<circle cx="273.32" cy="455.79" r="0.92" fill="#b51d43"/>
<circle cx="258.96" cy="457.97" r="0.92" fill="#b51d43"/>
<circle cx="260.42" cy="458.14" r="0.92" fill="#b51d43"/>
<circle cx="261.61" cy="458.20" r="0.92" fill="#b51d43"/>
<circle cx="263.09" cy="458.10" r="0.92" fill="#b51d43"/>
<circle cx="264.51" cy="458.26" r="0.92" fill="#b51d43"/>
<circle cx="266.06" cy="458.05" r="0.92" fill="#b51d43"/>
<circle cx="267.50" cy="458.12" r="0.92" fill="#b51d43"/>
<circle cx="269.12" cy="458.06" r="0.92" fill="#b51d43"/>
<circle cx="259.43" cy="460.29" r="0.92" fill="#b51d43"/>
<circle cx="261.04" cy="460.23" r="0.92" fill="#b51d43"/>
<circle cx="262.51" cy="460.47" r="0.92" fill="#b51d43"/>
<circle cx="263.94" cy="460.70" r="0.92" fill="#b51d43"/>
<circle cx="265.27" cy="460.64" r="0.92" fill="#b51d43"/>
<circle cx="266.91" cy="460.10" r="0.92" fill="#b51d43"/>
<circle cx="263.90" cy="401.40" r="0.92" fill="#b51d43"/>
<circle cx="263.10" cy="411.70" r="0.92" fill="#b51d43"/>
<circle cx="264.80" cy="411.70" r="0.92" fill="#b51d43"/>
<circle cx="261.40" cy="416.30" r="0.92" fill="#b51d43"/>
<circle cx="263.90" cy="416.30" r="0.92" fill="#b51d43"/>
<circle cx="266.40" cy="416.30" r="0.92" fill="#b51d43"/>
<circle cx="263.90" cy="420.50" r="0.92" fill="#b51d43"/>
<circle cx="263.90" cy="464.90" r="0.92" fill="#b51d43"/>
<circle cx="296.10" cy="412.76" r="0.92" fill="#3b5c92"/>
<circle cx="297.39" cy="412.90" r="0.92" fill="#3b5c92"/>
<circle cx="298.91" cy="412.60" r="0.92" fill="#3b5c92"/>
<circle cx="293.91" cy="414.84" r="0.92" fill="#3b5c92"/>
<circle cx="295.22" cy="415.01" r="0.92" fill="#3b5c92"/>
<circle cx="296.90" cy="415.07" r="0.92" fill="#3b5c92"/>
<circle cx="298.10" cy="415.32" r="0.92" fill="#3b5c92"/>
<circle cx="299.65" cy="415.17" r="0.92" fill="#3b5c92"/>
<circle cx="295.45" cy="417.08" r="0.92" fill="#3b5c92"/>
<circle cx="296.65" cy="417.62" r="0.92" fill="#3b5c92"/>
<circle cx="298.36" cy="417.27" r="0.92" fill="#3b5c92"/>
<circle cx="299.65" cy="416.93" r="0.92" fill="#3b5c92"/>
<circle cx="293.77" cy="419.39" r="0.92" fill="#3b5c92"/>
<circle cx="296.87" cy="419.70" r="0.92" fill="#3b5c92"/>
<circle cx="298.25" cy="419.73" r="0.92" fill="#3b5c92"/>
<circle cx="299.53" cy="419.62" r="0.92" fill="#3b5c92"/>
<circle cx="301.27" cy="419.37" r="0.92" fill="#3b5c92"/>
<circle cx="293.93" cy="421.65" r="0.92" fill="#3b5c92"/>
<circle cx="295.25" cy="421.73" r="0.92" fill="#3b5c92"/>
<circle cx="296.87" cy="422.00" r="0.92" fill="#3b5c92"/>
<circle cx="299.65" cy="421.79" r="0.92" fill="#3b5c92"/>
<circle cx="301.10" cy="421.53" r="0.92" fill="#3b5c92"/>
<circle cx="289.54" cy="423.70" r="0.92" fill="#3b5c92"/>
<circle cx="290.84" cy="423.84" r="0.92" fill="#3b5c92"/>
<circle cx="292.47" cy="423.84" r="0.92" fill="#3b5c92"/>
<circle cx="293.79" cy="424.03" r="0.92" fill="#3b5c92"/>
<circle cx="295.46" cy="424.20" r="0.92" fill="#3b5c92"/>
<circle cx="296.68" cy="424.47" r="0.92" fill="#3b5c92"/>
<circle cx="298.13" cy="424.40" r="0.92" fill="#3b5c92"/>
<circle cx="299.53" cy="424.12" r="0.92" fill="#3b5c92"/>
<circle cx="301.08" cy="424.01" r="0.92" fill="#3b5c92"/>
<circle cx="305.62" cy="424.03" r="0.92" fill="#3b5c92"/>
<circle cx="288.89" cy="426.29" r="0.92" fill="#3b5c92"/>
<circle cx="290.17" cy="426.24" r="0.92" fill="#3b5c92"/>
<circle cx="291.74" cy="426.21" r="0.92" fill="#3b5c92"/>
<circle cx="293.27" cy="426.24" r="0.92" fill="#3b5c92"/>
<circle cx="294.71" cy="426.36" r="0.92" fill="#3b5c92"/>
<circle cx="296.05" cy="426.60" r="0.92" fill="#3b5c92"/>
<circle cx="297.41" cy="426.51" r="0.92" fill="#3b5c92"/>
<circle cx="299.00" cy="426.60" r="0.92" fill="#3b5c92"/>
<circle cx="300.52" cy="426.42" r="0.92" fill="#3b5c92"/>
<circle cx="301.83" cy="426.57" r="0.92" fill="#3b5c92"/>
<circle cx="303.34" cy="426.47" r="0.92" fill="#3b5c92"/>
<circle cx="304.83" cy="426.20" r="0.92" fill="#3b5c92"/>
<circle cx="306.32" cy="426.27" r="0.92" fill="#3b5c92"/>
<circle cx="307.60" cy="426.03" r="0.92" fill="#3b5c92"/>
<circle cx="287.21" cy="428.45" r="0.92" fill="#3b5c92"/>
<circle cx="288.89" cy="428.59" r="0.92" fill="#3b5c92"/>
<circle cx="290.26" cy="428.62" r="0.92" fill="#3b5c92"/>
<circle cx="291.58" cy="428.51" r="0.92" fill="#3b5c92"/>
<circle cx="293.28" cy="428.72" r="0.92" fill="#3b5c92"/>
<circle cx="294.64" cy="428.56" r="0.92" fill="#3b5c92"/>
<circle cx="296.11" cy="428.74" r="0.92" fill="#3b5c92"/>
<circle cx="297.47" cy="428.78" r="0.92" fill="#3b5c92"/>
<circle cx="298.84" cy="428.62" r="0.92" fill="#3b5c92"/>
<circle cx="300.46" cy="428.82" r="0.92" fill="#3b5c92"/>
<circle cx="301.98" cy="428.59" r="0.92" fill="#3b5c92"/>
<circle cx="304.73" cy="428.38" r="0.92" fill="#3b5c92"/>
<circle cx="306.15" cy="428.33" r="0.92" fill="#3b5c92"/>
<circle cx="307.78" cy="428.17" r="0.92" fill="#3b5c92"/>
<circle cx="287.99" cy="430.58" r="0.92" fill="#3b5c92"/>
<circle cx="289.65" cy="430.68" r="0.92" fill="#3b5c92"/>
<circle cx="290.87" cy="430.74" r="0.92" fill="#3b5c92"/>
<circle cx="292.53" cy="430.73" r="0.92" fill="#3b5c92"/>
<circle cx="293.98" cy="431.04" r="0.92" fill="#3b5c92"/>
<circle cx="295.34" cy="431.09" r="0.92" fill="#3b5c92"/>
<circle cx="296.83" cy="431.13" r="0.92" fill="#3b5c92"/>
<circle cx="298.24" cy="431.13" r="0.92" fill="#3b5c92"/>
<circle cx="299.74" cy="430.91" r="0.92" fill="#3b5c92"/>
<circle cx="301.08" cy="430.83" r="0.92" fill="#3b5c92"/>
<circle cx="302.49" cy="430.85" r="0.92" fill="#3b5c92"/>
<circle cx="303.89" cy="430.88" r="0.92" fill="#3b5c92"/>
<circle cx="305.61" cy="430.72" r="0.92" fill="#3b5c92"/>
<circle cx="307.04" cy="430.76" r="0.92" fill="#3b5c92"/>
<circle cx="288.12" cy="432.98" r="0.92" fill="#3b5c92"/>
<circle cx="289.61" cy="432.89" r="0.92" fill="#3b5c92"/>
<circle cx="290.90" cy="432.96" r="0.92" fill="#3b5c92"/>
<circle cx="292.39" cy="433.04" r="0.92" fill="#3b5c92"/>
<circle cx="293.78" cy="433.04" r="0.92" fill="#3b5c92"/>
<circle cx="295.47" cy="433.24" r="0.92" fill="#3b5c92"/>
<circle cx="298.34" cy="433.44" r="0.92" fill="#3b5c92"/>
<circle cx="299.75" cy="433.16" r="0.92" fill="#3b5c92"/>
<circle cx="301.23" cy="433.29" r="0.92" fill="#3b5c92"/>
<circle cx="302.69" cy="432.89" r="0.92" fill="#3b5c92"/>
<circle cx="303.88" cy="432.87" r="0.92" fill="#3b5c92"/>
<circle cx="305.54" cy="432.84" r="0.92" fill="#3b5c92"/>
<circle cx="306.83" cy="432.77" r="0.92" fill="#3b5c92"/>
<circle cx="286.51" cy="435.17" r="0.92" fill="#3b5c92"/>
<circle cx="288.06" cy="435.18" r="0.92" fill="#3b5c92"/>
<circle cx="289.62" cy="435.23" r="0.92" fill="#3b5c92"/>
<circle cx="290.97" cy="435.35" r="0.92" fill="#3b5c92"/>
<circle cx="292.40" cy="435.37" r="0.92" fill="#3b5c92"/>
<circle cx="293.81" cy="435.60" r="0.92" fill="#3b5c92"/>
<circle cx="295.43" cy="435.58" r="0.92" fill="#3b5c92"/>
<circle cx="296.83" cy="435.54" r="0.92" fill="#3b5c92"/>
<circle cx="298.26" cy="435.67" r="0.92" fill="#3b5c92"/>
<circle cx="299.56" cy="435.32" r="0.92" fill="#3b5c92"/>
<circle cx="301.00" cy="435.26" r="0.92" fill="#3b5c92"/>
<circle cx="303.91" cy="435.37" r="0.92" fill="#3b5c92"/>
<circle cx="305.61" cy="435.42" r="0.92" fill="#3b5c92"/>
<circle cx="307.06" cy="434.98" r="0.92" fill="#3b5c92"/>
<circle cx="308.50" cy="435.09" r="0.92" fill="#3b5c92"/>
<circle cx="288.05" cy="437.36" r="0.92" fill="#3b5c92"/>
<circle cx="289.45" cy="437.25" r="0.92" fill="#3b5c92"/>
<circle cx="291.11" cy="437.69" r="0.92" fill="#3b5c92"/>
<circle cx="292.56" cy="437.52" r="0.92" fill="#3b5c92"/>
<circle cx="294.00" cy="437.69" r="0.92" fill="#3b5c92"/>
<circle cx="295.18" cy="437.62" r="0.92" fill="#3b5c92"/>
<circle cx="296.84" cy="437.94" r="0.92" fill="#3b5c92"/>
<circle cx="298.18" cy="437.76" r="0.92" fill="#3b5c92"/>
<circle cx="299.82" cy="437.73" r="0.92" fill="#3b5c92"/>
<circle cx="301.16" cy="437.67" r="0.92" fill="#3b5c92"/>
<circle cx="302.49" cy="437.53" r="0.92" fill="#3b5c92"/>
<circle cx="303.91" cy="437.51" r="0.92" fill="#3b5c92"/>
<circle cx="305.55" cy="437.32" r="0.92" fill="#3b5c92"/>
<circle cx="306.81" cy="437.43" r="0.92" fill="#3b5c92"/>
<circle cx="287.36" cy="439.65" r="0.92" fill="#3b5c92"/>
<circle cx="288.76" cy="439.61" r="0.92" fill="#3b5c92"/>
<circle cx="290.40" cy="439.69" r="0.92" fill="#3b5c92"/>
<circle cx="291.69" cy="439.69" r="0.92" fill="#3b5c92"/>
<circle cx="293.06" cy="439.82" r="0.92" fill="#3b5c92"/>
<circle cx="294.55" cy="440.14" r="0.92" fill="#3b5c92"/>
<circle cx="296.00" cy="440.09" r="0.92" fill="#3b5c92"/>
<circle cx="297.50" cy="440.16" r="0.92" fill="#3b5c92"/>
<circle cx="299.00" cy="439.87" r="0.92" fill="#3b5c92"/>
<circle cx="300.49" cy="440.16" r="0.92" fill="#3b5c92"/>
<circle cx="301.75" cy="439.87" r="0.92" fill="#3b5c92"/>
<circle cx="303.40" cy="439.72" r="0.92" fill="#3b5c92"/>
<circle cx="304.79" cy="439.81" r="0.92" fill="#3b5c92"/>
<circle cx="306.19" cy="439.87" r="0.92" fill="#3b5c92"/>
<circle cx="307.78" cy="439.57" r="0.92" fill="#3b5c92"/>
<circle cx="287.41" cy="441.94" r="0.92" fill="#3b5c92"/>
<circle cx="288.81" cy="442.00" r="0.92" fill="#3b5c92"/>
<circle cx="290.30" cy="442.03" r="0.92" fill="#3b5c92"/>
<circle cx="291.66" cy="441.98" r="0.92" fill="#3b5c92"/>
<circle cx="294.69" cy="442.16" r="0.92" fill="#3b5c92"/>
<circle cx="296.17" cy="442.14" r="0.92" fill="#3b5c92"/>
<circle cx="297.48" cy="442.28" r="0.92" fill="#3b5c92"/>
<circle cx="298.92" cy="442.10" r="0.92" fill="#3b5c92"/>
<circle cx="301.79" cy="441.99" r="0.92" fill="#3b5c92"/>
<circle cx="303.40" cy="442.01" r="0.92" fill="#3b5c92"/>
<circle cx="304.78" cy="442.16" r="0.92" fill="#3b5c92"/>
<circle cx="306.12" cy="442.05" r="0.92" fill="#3b5c92"/>
<circle cx="307.78" cy="441.85" r="0.92" fill="#3b5c92"/>
<circle cx="288.20" cy="444.21" r="0.92" fill="#3b5c92"/>
<circle cx="289.61" cy="444.08" r="0.92" fill="#3b5c92"/>
<circle cx="291.10" cy="444.10" r="0.92" fill="#3b5c92"/>
<circle cx="292.33" cy="444.47" r="0.92" fill="#3b5c92"/>
<circle cx="293.92" cy="444.38" r="0.92" fill="#3b5c92"/>
<circle cx="296.73" cy="444.52" r="0.92" fill="#3b5c92"/>
<circle cx="298.35" cy="444.57" r="0.92" fill="#3b5c92"/>
<circle cx="299.78" cy="444.64" r="0.92" fill="#3b5c92"/>
<circle cx="301.14" cy="444.55" r="0.92" fill="#3b5c92"/>
<circle cx="302.70" cy="444.14" r="0.92" fill="#3b5c92"/>
<circle cx="304.03" cy="444.31" r="0.92" fill="#3b5c92"/>
<circle cx="305.39" cy="444.14" r="0.92" fill="#3b5c92"/>
<circle cx="307.00" cy="444.11" r="0.92" fill="#3b5c92"/>
<circle cx="287.46" cy="446.41" r="0.92" fill="#3b5c92"/>
<circle cx="288.74" cy="446.25" r="0.92" fill="#3b5c92"/>
<circle cx="290.11" cy="446.68" r="0.92" fill="#3b5c92"/>
<circle cx="291.73" cy="446.42" r="0.92" fill="#3b5c92"/>
<circle cx="293.16" cy="446.51" r="0.92" fill="#3b5c92"/>
<circle cx="294.71" cy="446.90" r="0.92" fill="#3b5c92"/>
<circle cx="296.02" cy="446.84" r="0.92" fill="#3b5c92"/>
<circle cx="297.52" cy="446.93" r="0.92" fill="#3b5c92"/>
<circle cx="299.05" cy="446.88" r="0.92" fill="#3b5c92"/>
<circle cx="300.48" cy="446.68" r="0.92" fill="#3b5c92"/>
<circle cx="301.71" cy="446.68" r="0.92" fill="#3b5c92"/>
<circle cx="303.18" cy="446.56" r="0.92" fill="#3b5c92"/>
<circle cx="304.70" cy="446.52" r="0.92" fill="#3b5c92"/>
<circle cx="306.21" cy="446.62" r="0.92" fill="#3b5c92"/>
<circle cx="307.59" cy="446.50" r="0.92" fill="#3b5c92"/>
<circle cx="288.67" cy="448.51" r="0.92" fill="#3b5c92"/>
<circle cx="290.30" cy="448.75" r="0.92" fill="#3b5c92"/>
<circle cx="291.59" cy="448.94" r="0.92" fill="#3b5c92"/>
<circle cx="294.58" cy="449.06" r="0.92" fill="#3b5c92"/>
<circle cx="296.20" cy="449.13" r="0.92" fill="#3b5c92"/>
<circle cx="297.62" cy="449.03" r="0.92" fill="#3b5c92"/>
<circle cx="300.51" cy="448.99" r="0.92" fill="#3b5c92"/>
<circle cx="301.76" cy="448.73" r="0.92" fill="#3b5c92"/>
<circle cx="304.74" cy="448.83" r="0.92" fill="#3b5c92"/>
<circle cx="306.20" cy="448.65" r="0.92" fill="#3b5c92"/>
<circle cx="288.86" cy="451.02" r="0.92" fill="#3b5c92"/>
<circle cx="290.30" cy="450.95" r="0.92" fill="#3b5c92"/>
<circle cx="291.69" cy="450.98" r="0.92" fill="#3b5c92"/>
<circle cx="293.06" cy="451.05" r="0.92" fill="#3b5c92"/>
<circle cx="294.64" cy="451.11" r="0.92" fill="#3b5c92"/>
<circle cx="296.11" cy="451.27" r="0.92" fill="#3b5c92"/>
<circle cx="297.47" cy="451.23" r="0.92" fill="#3b5c92"/>
<circle cx="299.07" cy="451.32" r="0.92" fill="#3b5c92"/>
<circle cx="300.29" cy="451.19" r="0.92" fill="#3b5c92"/>
<circle cx="301.80" cy="451.13" r="0.92" fill="#3b5c92"/>
<circle cx="303.22" cy="451.10" r="0.92" fill="#3b5c92"/>
<circle cx="304.87" cy="450.78" r="0.92" fill="#3b5c92"/>
<circle cx="306.33" cy="450.87" r="0.92" fill="#3b5c92"/>
<circle cx="288.69" cy="453.28" r="0.92" fill="#3b5c92"/>
<circle cx="290.37" cy="453.03" r="0.92" fill="#3b5c92"/>
<circle cx="291.71" cy="453.16" r="0.92" fill="#3b5c92"/>
<circle cx="293.08" cy="453.18" r="0.92" fill="#3b5c92"/>
<circle cx="294.53" cy="453.61" r="0.92" fill="#3b5c92"/>
<circle cx="296.10" cy="453.49" r="0.92" fill="#3b5c92"/>
<circle cx="298.84" cy="453.39" r="0.92" fill="#3b5c92"/>
<circle cx="300.51" cy="453.30" r="0.92" fill="#3b5c92"/>
<circle cx="303.15" cy="453.35" r="0.92" fill="#3b5c92"/>
<circle cx="304.69" cy="453.06" r="0.92" fill="#3b5c92"/>
<circle cx="306.33" cy="453.23" r="0.92" fill="#3b5c92"/>
<circle cx="290.88" cy="455.24" r="0.92" fill="#3b5c92"/>
<circle cx="292.55" cy="455.25" r="0.92" fill="#3b5c92"/>
<circle cx="294.01" cy="455.42" r="0.92" fill="#3b5c92"/>
<circle cx="295.25" cy="455.83" r="0.92" fill="#3b5c92"/>
<circle cx="296.84" cy="455.64" r="0.92" fill="#3b5c92"/>
<circle cx="298.13" cy="455.83" r="0.92" fill="#3b5c92"/>
<circle cx="299.79" cy="455.65" r="0.92" fill="#3b5c92"/>
<circle cx="301.10" cy="455.74" r="0.92" fill="#3b5c92"/>
<circle cx="302.72" cy="455.28" r="0.92" fill="#3b5c92"/>
<circle cx="304.08" cy="455.48" r="0.92" fill="#3b5c92"/>
<circle cx="294.59" cy="457.43" r="0.92" fill="#3b5c92"/>
<circle cx="295.90" cy="457.76" r="0.92" fill="#3b5c92"/>
<circle cx="297.55" cy="458.25" r="0.92" fill="#3b5c92"/>
<circle cx="298.92" cy="457.94" r="0.92" fill="#3b5c92"/>
<circle cx="300.46" cy="457.47" r="0.92" fill="#3b5c92"/>
<circle cx="293.13" cy="459.89" r="0.92" fill="#3b5c92"/>
<circle cx="294.70" cy="459.92" r="0.92" fill="#3b5c92"/>
<circle cx="296.12" cy="459.99" r="0.92" fill="#3b5c92"/>
<circle cx="297.44" cy="460.31" r="0.92" fill="#3b5c92"/>
<circle cx="299.01" cy="460.04" r="0.92" fill="#3b5c92"/>
<circle cx="300.27" cy="459.84" r="0.92" fill="#3b5c92"/>
<circle cx="302.00" cy="459.62" r="0.92" fill="#3b5c92"/>
<circle cx="297.50" cy="398.00" r="0.92" fill="#3b5c92"/>
<circle cx="296.70" cy="405.40" r="0.92" fill="#3b5c92"/>
<circle cx="298.40" cy="405.40" r="0.92" fill="#3b5c92"/>
<circle cx="296.60" cy="408.60" r="0.92" fill="#3b5c92"/>
<circle cx="298.40" cy="408.60" r="0.92" fill="#3b5c92"/>
<circle cx="352.33" cy="393.06" r="0.92" fill="#b51d43"/>
<circle cx="353.83" cy="392.86" r="0.92" fill="#b51d43"/>
<circle cx="351.44" cy="395.07" r="0.92" fill="#b51d43"/>
<circle cx="353.07" cy="395.60" r="0.92" fill="#b51d43"/>
<circle cx="354.46" cy="395.06" r="0.92" fill="#b51d43"/>
<circle cx="350.80" cy="397.60" r="0.92" fill="#b51d43"/>
<circle cx="352.31" cy="397.63" r="0.92" fill="#b51d43"/>
<circle cx="353.66" cy="397.68" r="0.92" fill="#b51d43"/>
<circle cx="355.29" cy="397.58" r="0.92" fill="#b51d43"/>
<circle cx="349.45" cy="399.96" r="0.92" fill="#b51d43"/>
<circle cx="350.75" cy="400.11" r="0.92" fill="#b51d43"/>
<circle cx="352.35" cy="400.18" r="0.92" fill="#b51d43"/>
<circle cx="353.68" cy="400.13" r="0.92" fill="#b51d43"/>
<circle cx="355.06" cy="400.10" r="0.92" fill="#b51d43"/>
<circle cx="356.77" cy="399.86" r="0.92" fill="#b51d43"/>
<circle cx="349.27" cy="402.10" r="0.92" fill="#b51d43"/>
<circle cx="350.73" cy="402.10" r="0.92" fill="#b51d43"/>
<circle cx="352.20" cy="402.39" r="0.92" fill="#b51d43"/>
<circle cx="353.69" cy="402.26" r="0.92" fill="#b51d43"/>
<circle cx="355.10" cy="402.11" r="0.92" fill="#b51d43"/>
<circle cx="356.58" cy="401.86" r="0.92" fill="#b51d43"/>
<circle cx="347.89" cy="404.31" r="0.92" fill="#b51d43"/>
<circle cx="349.24" cy="404.23" r="0.92" fill="#b51d43"/>
<circle cx="350.93" cy="404.58" r="0.92" fill="#b51d43"/>
<circle cx="352.25" cy="404.82" r="0.92" fill="#b51d43"/>
<circle cx="353.82" cy="404.56" r="0.92" fill="#b51d43"/>
<circle cx="355.14" cy="404.61" r="0.92" fill="#b51d43"/>
<circle cx="356.77" cy="404.42" r="0.92" fill="#b51d43"/>
<circle cx="357.99" cy="404.27" r="0.92" fill="#b51d43"/>
<circle cx="347.16" cy="406.57" r="0.92" fill="#b51d43"/>
<circle cx="348.59" cy="406.48" r="0.92" fill="#b51d43"/>
<circle cx="349.98" cy="406.63" r="0.92" fill="#b51d43"/>
<circle cx="353.02" cy="407.02" r="0.92" fill="#b51d43"/>
<circle cx="355.85" cy="406.58" r="0.92" fill="#b51d43"/>
<circle cx="358.69" cy="406.40" r="0.92" fill="#b51d43"/>
<circle cx="347.07" cy="408.76" r="0.92" fill="#b51d43"/>
<circle cx="348.75" cy="408.69" r="0.92" fill="#b51d43"/>
<circle cx="350.10" cy="409.20" r="0.92" fill="#b51d43"/>
<circle cx="351.54" cy="409.20" r="0.92" fill="#b51d43"/>
<circle cx="352.86" cy="409.25" r="0.92" fill="#b51d43"/>
<circle cx="354.52" cy="409.03" r="0.92" fill="#b51d43"/>
<circle cx="356.00" cy="408.91" r="0.92" fill="#b51d43"/>
<circle cx="357.31" cy="408.79" r="0.92" fill="#b51d43"/>
<circle cx="358.71" cy="408.71" r="0.92" fill="#b51d43"/>
<circle cx="345.63" cy="411.10" r="0.92" fill="#b51d43"/>
<circle cx="347.05" cy="411.20" r="0.92" fill="#b51d43"/>
<circle cx="348.64" cy="411.22" r="0.92" fill="#b51d43"/>
<circle cx="350.04" cy="411.27" r="0.92" fill="#b51d43"/>
<circle cx="351.66" cy="411.24" r="0.92" fill="#b51d43"/>
<circle cx="352.92" cy="411.42" r="0.92" fill="#b51d43"/>
<circle cx="354.31" cy="411.25" r="0.92" fill="#b51d43"/>
<circle cx="355.88" cy="411.45" r="0.92" fill="#b51d43"/>
<circle cx="357.21" cy="411.21" r="0.92" fill="#b51d43"/>
<circle cx="358.89" cy="411.02" r="0.92" fill="#b51d43"/>
<circle cx="360.26" cy="410.84" r="0.92" fill="#b51d43"/>
<circle cx="344.41" cy="413.12" r="0.92" fill="#b51d43"/>
<circle cx="345.71" cy="413.28" r="0.92" fill="#b51d43"/>
<circle cx="347.11" cy="413.51" r="0.92" fill="#b51d43"/>
<circle cx="348.78" cy="413.51" r="0.92" fill="#b51d43"/>
<circle cx="350.08" cy="413.62" r="0.92" fill="#b51d43"/>
<circle cx="351.65" cy="413.83" r="0.92" fill="#b51d43"/>
<circle cx="352.89" cy="413.76" r="0.92" fill="#b51d43"/>
<circle cx="354.46" cy="413.59" r="0.92" fill="#b51d43"/>
<circle cx="355.84" cy="413.42" r="0.92" fill="#b51d43"/>
<circle cx="360.13" cy="413.43" r="0.92" fill="#b51d43"/>
<circle cx="361.85" cy="413.39" r="0.92" fill="#b51d43"/>
<circle cx="342.95" cy="415.58" r="0.92" fill="#b51d43"/>
<circle cx="344.38" cy="415.41" r="0.92" fill="#b51d43"/>
<circle cx="345.90" cy="415.63" r="0.92" fill="#b51d43"/>
<circle cx="347.29" cy="415.69" r="0.92" fill="#b51d43"/>
<circle cx="351.50" cy="416.10" r="0.92" fill="#b51d43"/>
<circle cx="353.11" cy="416.14" r="0.92" fill="#b51d43"/>
<circle cx="354.60" cy="416.03" r="0.92" fill="#b51d43"/>
<circle cx="355.83" cy="415.84" r="0.92" fill="#b51d43"/>
<circle cx="357.36" cy="415.66" r="0.92" fill="#b51d43"/>
<circle cx="358.79" cy="415.59" r="0.92" fill="#b51d43"/>
<circle cx="360.11" cy="415.77" r="0.92" fill="#b51d43"/>
<circle cx="361.58" cy="415.61" r="0.92" fill="#b51d43"/>
<circle cx="363.27" cy="415.50" r="0.92" fill="#b51d43"/>
<circle cx="342.76" cy="417.85" r="0.92" fill="#b51d43"/>
<circle cx="344.28" cy="418.01" r="0.92" fill="#b51d43"/>
<circle cx="347.09" cy="418.10" r="0.92" fill="#b51d43"/>
<circle cx="348.52" cy="418.04" r="0.92" fill="#b51d43"/>
<circle cx="350.03" cy="418.10" r="0.92" fill="#b51d43"/>
<circle cx="351.47" cy="418.19" r="0.92" fill="#b51d43"/>
<circle cx="354.53" cy="418.12" r="0.92" fill="#b51d43"/>
<circle cx="355.77" cy="418.19" r="0.92" fill="#b51d43"/>
<circle cx="357.47" cy="418.13" r="0.92" fill="#b51d43"/>
<circle cx="358.92" cy="418.14" r="0.92" fill="#b51d43"/>
<circle cx="360.35" cy="417.97" r="0.92" fill="#b51d43"/>
<circle cx="361.75" cy="417.86" r="0.92" fill="#b51d43"/>
<circle cx="363.04" cy="417.85" r="0.92" fill="#b51d43"/>
<circle cx="344.33" cy="420.08" r="0.92" fill="#b51d43"/>
<circle cx="345.86" cy="420.10" r="0.92" fill="#b51d43"/>
<circle cx="347.20" cy="420.24" r="0.92" fill="#b51d43"/>
<circle cx="348.78" cy="420.26" r="0.92" fill="#b51d43"/>
<circle cx="350.05" cy="420.43" r="0.92" fill="#b51d43"/>
<circle cx="351.61" cy="420.38" r="0.92" fill="#b51d43"/>
<circle cx="352.99" cy="420.47" r="0.92" fill="#b51d43"/>
<circle cx="354.54" cy="420.62" r="0.92" fill="#b51d43"/>
<circle cx="355.87" cy="420.38" r="0.92" fill="#b51d43"/>
<circle cx="357.22" cy="420.17" r="0.92" fill="#b51d43"/>
<circle cx="358.75" cy="420.13" r="0.92" fill="#b51d43"/>
<circle cx="360.16" cy="420.32" r="0.92" fill="#b51d43"/>
<circle cx="361.61" cy="420.26" r="0.92" fill="#b51d43"/>
<circle cx="363.03" cy="419.85" r="0.92" fill="#b51d43"/>
<circle cx="344.21" cy="422.12" r="0.92" fill="#b51d43"/>
<circle cx="347.06" cy="422.31" r="0.92" fill="#b51d43"/>
<circle cx="348.77" cy="422.57" r="0.92" fill="#b51d43"/>
<circle cx="350.16" cy="422.70" r="0.92" fill="#b51d43"/>
<circle cx="351.45" cy="422.49" r="0.92" fill="#b51d43"/>
<circle cx="353.01" cy="422.76" r="0.92" fill="#b51d43"/>
<circle cx="354.35" cy="422.75" r="0.92" fill="#b51d43"/>
<circle cx="355.88" cy="422.48" r="0.92" fill="#b51d43"/>
<circle cx="357.37" cy="422.52" r="0.92" fill="#b51d43"/>
<circle cx="358.73" cy="422.50" r="0.92" fill="#b51d43"/>
<circle cx="360.30" cy="422.20" r="0.92" fill="#b51d43"/>
<circle cx="361.84" cy="422.15" r="0.92" fill="#b51d43"/>
<circle cx="342.07" cy="424.34" r="0.92" fill="#b51d43"/>
<circle cx="343.46" cy="424.65" r="0.92" fill="#b51d43"/>
<circle cx="345.00" cy="424.72" r="0.92" fill="#b51d43"/>
<circle cx="346.42" cy="424.64" r="0.92" fill="#b51d43"/>
<circle cx="349.25" cy="424.67" r="0.92" fill="#b51d43"/>
<circle cx="350.92" cy="424.88" r="0.92" fill="#b51d43"/>
<circle cx="352.17" cy="424.77" r="0.92" fill="#b51d43"/>
<circle cx="353.65" cy="424.83" r="0.92" fill="#b51d43"/>
<circle cx="355.03" cy="424.84" r="0.92" fill="#b51d43"/>
<circle cx="356.70" cy="424.68" r="0.92" fill="#b51d43"/>
<circle cx="358.09" cy="424.82" r="0.92" fill="#b51d43"/>
<circle cx="359.61" cy="424.74" r="0.92" fill="#b51d43"/>
<circle cx="360.97" cy="424.65" r="0.92" fill="#b51d43"/>
<circle cx="362.46" cy="424.52" r="0.92" fill="#b51d43"/>
<circle cx="342.10" cy="426.66" r="0.92" fill="#b51d43"/>
<circle cx="343.55" cy="426.95" r="0.92" fill="#b51d43"/>
<circle cx="345.04" cy="427.00" r="0.92" fill="#b51d43"/>
<circle cx="346.49" cy="427.05" r="0.92" fill="#b51d43"/>
<circle cx="348.00" cy="427.17" r="0.92" fill="#b51d43"/>
<circle cx="349.39" cy="426.96" r="0.92" fill="#b51d43"/>
<circle cx="350.81" cy="427.15" r="0.92" fill="#b51d43"/>
<circle cx="352.14" cy="427.16" r="0.92" fill="#b51d43"/>
<circle cx="353.71" cy="427.36" r="0.92" fill="#b51d43"/>
<circle cx="355.26" cy="427.12" r="0.92" fill="#b51d43"/>
<circle cx="356.49" cy="427.04" r="0.92" fill="#b51d43"/>
<circle cx="358.15" cy="427.04" r="0.92" fill="#b51d43"/>
<circle cx="359.39" cy="427.03" r="0.92" fill="#b51d43"/>
<circle cx="361.04" cy="426.93" r="0.92" fill="#b51d43"/>
<circle cx="362.54" cy="426.67" r="0.92" fill="#b51d43"/>
<circle cx="363.75" cy="426.94" r="0.92" fill="#b51d43"/>
<circle cx="342.98" cy="429.02" r="0.92" fill="#b51d43"/>
<circle cx="344.17" cy="429.20" r="0.92" fill="#b51d43"/>
<circle cx="345.67" cy="429.00" r="0.92" fill="#b51d43"/>
<circle cx="347.33" cy="429.37" r="0.92" fill="#b51d43"/>
<circle cx="348.51" cy="429.42" r="0.92" fill="#b51d43"/>
<circle cx="350.17" cy="429.36" r="0.92" fill="#b51d43"/>
<circle cx="351.44" cy="429.55" r="0.92" fill="#b51d43"/>
<circle cx="352.86" cy="429.53" r="0.92" fill="#b51d43"/>
<circle cx="354.51" cy="429.61" r="0.92" fill="#b51d43"/>
<circle cx="355.90" cy="429.40" r="0.92" fill="#b51d43"/>
<circle cx="357.34" cy="429.14" r="0.92" fill="#b51d43"/>
<circle cx="358.67" cy="429.23" r="0.92" fill="#b51d43"/>
<circle cx="360.27" cy="428.97" r="0.92" fill="#b51d43"/>
<circle cx="363.22" cy="429.17" r="0.92" fill="#b51d43"/>
<circle cx="342.02" cy="431.30" r="0.92" fill="#b51d43"/>
<circle cx="343.48" cy="431.17" r="0.92" fill="#b51d43"/>
<circle cx="345.03" cy="431.50" r="0.92" fill="#b51d43"/>
<circle cx="346.50" cy="431.28" r="0.92" fill="#b51d43"/>
<circle cx="347.93" cy="431.38" r="0.92" fill="#b51d43"/>
<circle cx="349.30" cy="431.51" r="0.92" fill="#b51d43"/>
<circle cx="350.90" cy="431.49" r="0.92" fill="#b51d43"/>
<circle cx="352.20" cy="431.78" r="0.92" fill="#b51d43"/>
<circle cx="353.65" cy="431.80" r="0.92" fill="#b51d43"/>
<circle cx="355.09" cy="431.56" r="0.92" fill="#b51d43"/>
<circle cx="356.72" cy="431.62" r="0.92" fill="#b51d43"/>
<circle cx="359.55" cy="431.42" r="0.92" fill="#b51d43"/>
<circle cx="360.96" cy="431.46" r="0.92" fill="#b51d43"/>
<circle cx="362.32" cy="431.47" r="0.92" fill="#b51d43"/>
<circle cx="363.75" cy="431.40" r="0.92" fill="#b51d43"/>
<circle cx="343.61" cy="433.56" r="0.92" fill="#b51d43"/>
<circle cx="344.93" cy="433.60" r="0.92" fill="#b51d43"/>
<circle cx="346.47" cy="433.74" r="0.92" fill="#b51d43"/>
<circle cx="347.99" cy="433.91" r="0.92" fill="#b51d43"/>
<circle cx="349.45" cy="433.74" r="0.92" fill="#b51d43"/>
<circle cx="350.90" cy="434.03" r="0.92" fill="#b51d43"/>
<circle cx="352.30" cy="434.14" r="0.92" fill="#b51d43"/>
<circle cx="353.75" cy="433.79" r="0.92" fill="#b51d43"/>
<circle cx="355.23" cy="433.80" r="0.92" fill="#b51d43"/>
<circle cx="356.60" cy="433.69" r="0.92" fill="#b51d43"/>
<circle cx="358.10" cy="433.68" r="0.92" fill="#b51d43"/>
<circle cx="361.12" cy="433.56" r="0.92" fill="#b51d43"/>
<circle cx="362.40" cy="433.33" r="0.92" fill="#b51d43"/>
<circle cx="342.01" cy="435.79" r="0.92" fill="#b51d43"/>
<circle cx="343.43" cy="435.99" r="0.92" fill="#b51d43"/>
<circle cx="346.42" cy="436.06" r="0.92" fill="#b51d43"/>
<circle cx="348.00" cy="435.98" r="0.92" fill="#b51d43"/>
<circle cx="349.27" cy="436.27" r="0.92" fill="#b51d43"/>
<circle cx="352.35" cy="436.32" r="0.92" fill="#b51d43"/>
<circle cx="353.65" cy="436.36" r="0.92" fill="#b51d43"/>
<circle cx="355.09" cy="435.99" r="0.92" fill="#b51d43"/>
<circle cx="356.49" cy="435.97" r="0.92" fill="#b51d43"/>
<circle cx="358.19" cy="436.15" r="0.92" fill="#b51d43"/>
<circle cx="359.56" cy="435.75" r="0.92" fill="#b51d43"/>
<circle cx="360.88" cy="436.06" r="0.92" fill="#b51d43"/>
<circle cx="362.29" cy="435.90" r="0.92" fill="#b51d43"/>
<circle cx="363.76" cy="435.89" r="0.92" fill="#b51d43"/>
<circle cx="342.87" cy="437.83" r="0.92" fill="#b51d43"/>
<circle cx="344.34" cy="438.22" r="0.92" fill="#b51d43"/>
<circle cx="345.87" cy="437.99" r="0.92" fill="#b51d43"/>
<circle cx="347.15" cy="438.08" r="0.92" fill="#b51d43"/>
<circle cx="348.70" cy="438.25" r="0.92" fill="#b51d43"/>
<circle cx="350.10" cy="438.21" r="0.92" fill="#b51d43"/>
<circle cx="351.69" cy="438.42" r="0.92" fill="#b51d43"/>
<circle cx="352.97" cy="438.45" r="0.92" fill="#b51d43"/>
<circle cx="354.35" cy="438.35" r="0.92" fill="#b51d43"/>
<circle cx="355.89" cy="438.19" r="0.92" fill="#b51d43"/>
<circle cx="357.45" cy="438.23" r="0.92" fill="#b51d43"/>
<circle cx="358.84" cy="438.27" r="0.92" fill="#b51d43"/>
<circle cx="360.27" cy="438.11" r="0.92" fill="#b51d43"/>
<circle cx="361.83" cy="437.92" r="0.92" fill="#b51d43"/>
<circle cx="363.27" cy="438.17" r="0.92" fill="#b51d43"/>
<circle cx="342.01" cy="440.35" r="0.92" fill="#b51d43"/>
<circle cx="343.68" cy="440.28" r="0.92" fill="#b51d43"/>
<circle cx="345.03" cy="440.27" r="0.92" fill="#b51d43"/>
<circle cx="346.58" cy="440.44" r="0.92" fill="#b51d43"/>
<circle cx="347.88" cy="440.40" r="0.92" fill="#b51d43"/>
<circle cx="349.48" cy="440.77" r="0.92" fill="#b51d43"/>
<circle cx="350.76" cy="440.59" r="0.92" fill="#b51d43"/>
<circle cx="352.20" cy="440.59" r="0.92" fill="#b51d43"/>
<circle cx="353.60" cy="440.58" r="0.92" fill="#b51d43"/>
<circle cx="355.22" cy="440.82" r="0.92" fill="#b51d43"/>
<circle cx="356.56" cy="440.62" r="0.92" fill="#b51d43"/>
<circle cx="359.55" cy="440.44" r="0.92" fill="#b51d43"/>
<circle cx="360.95" cy="440.20" r="0.92" fill="#b51d43"/>
<circle cx="362.33" cy="440.22" r="0.92" fill="#b51d43"/>
<circle cx="343.48" cy="442.45" r="0.92" fill="#b51d43"/>
<circle cx="345.16" cy="442.82" r="0.92" fill="#b51d43"/>
<circle cx="346.49" cy="442.67" r="0.92" fill="#b51d43"/>
<circle cx="347.90" cy="442.81" r="0.92" fill="#b51d43"/>
<circle cx="349.46" cy="442.81" r="0.92" fill="#b51d43"/>
<circle cx="350.94" cy="442.93" r="0.92" fill="#b51d43"/>
<circle cx="352.40" cy="442.96" r="0.92" fill="#b51d43"/>
<circle cx="353.72" cy="443.11" r="0.92" fill="#b51d43"/>
<circle cx="355.16" cy="442.85" r="0.92" fill="#b51d43"/>
<circle cx="356.73" cy="442.87" r="0.92" fill="#b51d43"/>
<circle cx="358.08" cy="442.73" r="0.92" fill="#b51d43"/>
<circle cx="359.46" cy="442.56" r="0.92" fill="#b51d43"/>
<circle cx="360.99" cy="442.47" r="0.92" fill="#b51d43"/>
<circle cx="362.40" cy="442.69" r="0.92" fill="#b51d43"/>
<circle cx="363.95" cy="442.42" r="0.92" fill="#b51d43"/>
<circle cx="344.27" cy="444.81" r="0.92" fill="#b51d43"/>
<circle cx="347.20" cy="445.08" r="0.92" fill="#b51d43"/>
<circle cx="348.73" cy="444.93" r="0.92" fill="#b51d43"/>
<circle cx="350.22" cy="444.91" r="0.92" fill="#b51d43"/>
<circle cx="351.57" cy="445.09" r="0.92" fill="#b51d43"/>
<circle cx="353.09" cy="445.13" r="0.92" fill="#b51d43"/>
<circle cx="354.31" cy="445.15" r="0.92" fill="#b51d43"/>
<circle cx="355.75" cy="444.93" r="0.92" fill="#b51d43"/>
<circle cx="357.47" cy="445.00" r="0.92" fill="#b51d43"/>
<circle cx="358.74" cy="445.01" r="0.92" fill="#b51d43"/>
<circle cx="360.23" cy="444.91" r="0.92" fill="#b51d43"/>
<circle cx="361.67" cy="444.90" r="0.92" fill="#b51d43"/>
<circle cx="344.38" cy="447.15" r="0.92" fill="#b51d43"/>
<circle cx="345.64" cy="446.92" r="0.92" fill="#b51d43"/>
<circle cx="347.15" cy="447.18" r="0.92" fill="#b51d43"/>
<circle cx="350.03" cy="447.39" r="0.92" fill="#b51d43"/>
<circle cx="351.51" cy="447.30" r="0.92" fill="#b51d43"/>
<circle cx="352.95" cy="447.33" r="0.92" fill="#b51d43"/>
<circle cx="354.31" cy="447.58" r="0.92" fill="#b51d43"/>
<circle cx="356.03" cy="447.38" r="0.92" fill="#b51d43"/>
<circle cx="357.34" cy="447.15" r="0.92" fill="#b51d43"/>
<circle cx="358.84" cy="447.24" r="0.92" fill="#b51d43"/>
<circle cx="360.37" cy="446.92" r="0.92" fill="#b51d43"/>
<circle cx="361.76" cy="447.18" r="0.92" fill="#b51d43"/>
<circle cx="347.06" cy="449.26" r="0.92" fill="#b51d43"/>
<circle cx="348.66" cy="449.22" r="0.92" fill="#b51d43"/>
<circle cx="350.05" cy="449.47" r="0.92" fill="#b51d43"/>
<circle cx="351.47" cy="449.49" r="0.92" fill="#b51d43"/>
<circle cx="353.15" cy="449.89" r="0.92" fill="#b51d43"/>
<circle cx="354.49" cy="449.48" r="0.92" fill="#b51d43"/>
<circle cx="356.05" cy="449.42" r="0.92" fill="#b51d43"/>
<circle cx="357.37" cy="449.39" r="0.92" fill="#b51d43"/>
<circle cx="358.93" cy="449.23" r="0.92" fill="#b51d43"/>
<circle cx="348.67" cy="451.60" r="0.92" fill="#b51d43"/>
<circle cx="350.07" cy="451.57" r="0.92" fill="#b51d43"/>
<circle cx="351.70" cy="451.87" r="0.92" fill="#b51d43"/>
<circle cx="352.95" cy="451.86" r="0.92" fill="#b51d43"/>
<circle cx="356.03" cy="451.74" r="0.92" fill="#b51d43"/>
<circle cx="357.46" cy="451.47" r="0.92" fill="#b51d43"/>
<circle cx="349.47" cy="453.78" r="0.92" fill="#b51d43"/>
<circle cx="350.91" cy="454.09" r="0.92" fill="#b51d43"/>
<circle cx="353.72" cy="454.23" r="0.92" fill="#b51d43"/>
<circle cx="355.16" cy="453.99" r="0.92" fill="#b51d43"/>
<circle cx="356.68" cy="453.53" r="0.92" fill="#b51d43"/>
<circle cx="350.87" cy="456.12" r="0.92" fill="#b51d43"/>
<circle cx="352.28" cy="456.39" r="0.92" fill="#b51d43"/>
<circle cx="353.77" cy="456.38" r="0.92" fill="#b51d43"/>
<circle cx="355.16" cy="455.90" r="0.92" fill="#b51d43"/>
<circle cx="353.00" cy="360.20" r="0.92" fill="#b51d43"/>
<circle cx="353.00" cy="376.80" r="0.92" fill="#b51d43"/>
<circle cx="353.00" cy="383.60" r="0.92" fill="#b51d43"/>
<circle cx="353.00" cy="388.50" r="0.92" fill="#b51d43"/>
<circle cx="353.00" cy="460.80" r="0.92" fill="#b51d43"/>
<circle cx="353.00" cy="464.20" r="0.92" fill="#b51d43"/>
<circle cx="386.54" cy="382.50" r="0.92" fill="#3b5c92"/>
<circle cx="388.06" cy="382.35" r="0.92" fill="#3b5c92"/>
<circle cx="385.10" cy="384.72" r="0.92" fill="#3b5c92"/>
<circle cx="386.42" cy="385.06" r="0.92" fill="#3b5c92"/>
<circle cx="387.89" cy="385.09" r="0.92" fill="#3b5c92"/>
<circle cx="389.26" cy="384.54" r="0.92" fill="#3b5c92"/>
<circle cx="382.78" cy="387.03" r="0.92" fill="#3b5c92"/>
<circle cx="384.19" cy="387.09" r="0.92" fill="#3b5c92"/>
<circle cx="385.65" cy="387.30" r="0.92" fill="#3b5c92"/>
<circle cx="387.15" cy="387.23" r="0.92" fill="#3b5c92"/>
<circle cx="388.79" cy="387.20" r="0.92" fill="#3b5c92"/>
<circle cx="390.08" cy="387.12" r="0.92" fill="#3b5c92"/>
<circle cx="391.61" cy="386.75" r="0.92" fill="#3b5c92"/>
<circle cx="383.48" cy="388.98" r="0.92" fill="#3b5c92"/>
<circle cx="385.03" cy="389.22" r="0.92" fill="#3b5c92"/>
<circle cx="386.39" cy="389.67" r="0.92" fill="#3b5c92"/>
<circle cx="387.81" cy="389.68" r="0.92" fill="#3b5c92"/>
<circle cx="389.31" cy="389.16" r="0.92" fill="#3b5c92"/>
<circle cx="390.71" cy="389.16" r="0.92" fill="#3b5c92"/>
<circle cx="385.02" cy="391.46" r="0.92" fill="#3b5c92"/>
<circle cx="386.49" cy="391.71" r="0.92" fill="#3b5c92"/>
<circle cx="387.92" cy="391.70" r="0.92" fill="#3b5c92"/>
<circle cx="389.40" cy="391.22" r="0.92" fill="#3b5c92"/>
<circle cx="384.41" cy="393.81" r="0.92" fill="#3b5c92"/>
<circle cx="387.26" cy="394.18" r="0.92" fill="#3b5c92"/>
<circle cx="390.23" cy="393.60" r="0.92" fill="#3b5c92"/>
<circle cx="385.05" cy="396.13" r="0.92" fill="#3b5c92"/>
<circle cx="386.40" cy="396.17" r="0.92" fill="#3b5c92"/>
<circle cx="387.83" cy="396.30" r="0.92" fill="#3b5c92"/>
<circle cx="389.37" cy="395.86" r="0.92" fill="#3b5c92"/>
<circle cx="385.89" cy="398.40" r="0.92" fill="#3b5c92"/>
<circle cx="387.33" cy="398.59" r="0.92" fill="#3b5c92"/>
<circle cx="388.51" cy="398.22" r="0.92" fill="#3b5c92"/>
<circle cx="390.02" cy="398.23" r="0.92" fill="#3b5c92"/>
<circle cx="384.33" cy="400.58" r="0.92" fill="#3b5c92"/>
<circle cx="385.83" cy="400.61" r="0.92" fill="#3b5c92"/>
<circle cx="387.23" cy="401.08" r="0.92" fill="#3b5c92"/>
<circle cx="388.65" cy="400.79" r="0.92" fill="#3b5c92"/>
<circle cx="390.07" cy="400.60" r="0.92" fill="#3b5c92"/>
<circle cx="381.34" cy="402.79" r="0.92" fill="#3b5c92"/>
<circle cx="382.77" cy="402.93" r="0.92" fill="#3b5c92"/>
<circle cx="384.25" cy="402.79" r="0.92" fill="#3b5c92"/>
<circle cx="385.66" cy="403.10" r="0.92" fill="#3b5c92"/>
<circle cx="387.13" cy="403.13" r="0.92" fill="#3b5c92"/>
<circle cx="388.61" cy="403.13" r="0.92" fill="#3b5c92"/>
<circle cx="390.06" cy="402.86" r="0.92" fill="#3b5c92"/>
<circle cx="391.47" cy="402.61" r="0.92" fill="#3b5c92"/>
<circle cx="392.89" cy="402.69" r="0.92" fill="#3b5c92"/>
<circle cx="380.72" cy="404.83" r="0.92" fill="#3b5c92"/>
<circle cx="382.17" cy="405.03" r="0.92" fill="#3b5c92"/>
<circle cx="384.95" cy="405.22" r="0.92" fill="#3b5c92"/>
<circle cx="386.58" cy="405.17" r="0.92" fill="#3b5c92"/>
<circle cx="388.06" cy="405.36" r="0.92" fill="#3b5c92"/>
<circle cx="389.49" cy="405.20" r="0.92" fill="#3b5c92"/>
<circle cx="390.94" cy="405.25" r="0.92" fill="#3b5c92"/>
<circle cx="392.15" cy="405.12" r="0.92" fill="#3b5c92"/>
<circle cx="393.62" cy="404.84" r="0.92" fill="#3b5c92"/>
<circle cx="382.21" cy="407.26" r="0.92" fill="#3b5c92"/>
<circle cx="383.51" cy="407.56" r="0.92" fill="#3b5c92"/>
<circle cx="385.08" cy="407.54" r="0.92" fill="#3b5c92"/>
<circle cx="387.85" cy="407.79" r="0.92" fill="#3b5c92"/>
<circle cx="389.50" cy="407.62" r="0.92" fill="#3b5c92"/>
<circle cx="390.81" cy="407.31" r="0.92" fill="#3b5c92"/>
<circle cx="392.13" cy="407.11" r="0.92" fill="#3b5c92"/>
<circle cx="393.82" cy="407.23" r="0.92" fill="#3b5c92"/>
<circle cx="380.05" cy="409.39" r="0.92" fill="#3b5c92"/>
<circle cx="381.27" cy="409.49" r="0.92" fill="#3b5c92"/>
<circle cx="382.94" cy="409.58" r="0.92" fill="#3b5c92"/>
<circle cx="384.44" cy="409.67" r="0.92" fill="#3b5c92"/>
<circle cx="385.61" cy="409.95" r="0.92" fill="#3b5c92"/>
<circle cx="387.17" cy="409.91" r="0.92" fill="#3b5c92"/>
<circle cx="388.57" cy="409.70" r="0.92" fill="#3b5c92"/>
<circle cx="390.21" cy="409.61" r="0.92" fill="#3b5c92"/>
<circle cx="391.66" cy="409.63" r="0.92" fill="#3b5c92"/>
<circle cx="394.51" cy="409.48" r="0.92" fill="#3b5c92"/>
<circle cx="379.14" cy="411.73" r="0.92" fill="#3b5c92"/>
<circle cx="380.74" cy="411.60" r="0.92" fill="#3b5c92"/>
<circle cx="382.18" cy="411.77" r="0.92" fill="#3b5c92"/>
<circle cx="383.57" cy="412.02" r="0.92" fill="#3b5c92"/>
<circle cx="385.02" cy="412.14" r="0.92" fill="#3b5c92"/>
<circle cx="386.38" cy="412.16" r="0.92" fill="#3b5c92"/>
<circle cx="388.03" cy="412.01" r="0.92" fill="#3b5c92"/>
<circle cx="389.39" cy="411.87" r="0.92" fill="#3b5c92"/>
<circle cx="390.88" cy="411.91" r="0.92" fill="#3b5c92"/>
<circle cx="392.24" cy="412.00" r="0.92" fill="#3b5c92"/>
<circle cx="393.81" cy="411.54" r="0.92" fill="#3b5c92"/>
<circle cx="395.04" cy="411.49" r="0.92" fill="#3b5c92"/>
<circle cx="377.72" cy="413.85" r="0.92" fill="#3b5c92"/>
<circle cx="379.26" cy="413.91" r="0.92" fill="#3b5c92"/>
<circle cx="380.78" cy="414.07" r="0.92" fill="#3b5c92"/>
<circle cx="382.22" cy="414.33" r="0.92" fill="#3b5c92"/>
<circle cx="383.43" cy="414.13" r="0.92" fill="#3b5c92"/>
<circle cx="384.93" cy="414.16" r="0.92" fill="#3b5c92"/>
<circle cx="386.36" cy="414.50" r="0.92" fill="#3b5c92"/>
<circle cx="387.89" cy="414.40" r="0.92" fill="#3b5c92"/>
<circle cx="389.46" cy="414.26" r="0.92" fill="#3b5c92"/>
<circle cx="390.90" cy="414.03" r="0.92" fill="#3b5c92"/>
<circle cx="392.37" cy="414.02" r="0.92" fill="#3b5c92"/>
<circle cx="393.64" cy="414.06" r="0.92" fill="#3b5c92"/>
<circle cx="395.14" cy="413.98" r="0.92" fill="#3b5c92"/>
<circle cx="396.73" cy="413.94" r="0.92" fill="#3b5c92"/>
<circle cx="375.67" cy="415.98" r="0.92" fill="#3b5c92"/>
<circle cx="376.97" cy="416.37" r="0.92" fill="#3b5c92"/>
<circle cx="378.49" cy="416.26" r="0.92" fill="#3b5c92"/>
<circle cx="379.82" cy="416.40" r="0.92" fill="#3b5c92"/>
<circle cx="381.36" cy="416.56" r="0.92" fill="#3b5c92"/>
<circle cx="382.78" cy="416.44" r="0.92" fill="#3b5c92"/>
<circle cx="384.38" cy="416.58" r="0.92" fill="#3b5c92"/>
<circle cx="387.05" cy="416.47" r="0.92" fill="#3b5c92"/>
<circle cx="388.57" cy="416.43" r="0.92" fill="#3b5c92"/>
<circle cx="390.18" cy="416.69" r="0.92" fill="#3b5c92"/>
<circle cx="391.53" cy="416.33" r="0.92" fill="#3b5c92"/>
<circle cx="392.98" cy="416.33" r="0.92" fill="#3b5c92"/>
<circle cx="394.47" cy="416.52" r="0.92" fill="#3b5c92"/>
<circle cx="396.03" cy="416.13" r="0.92" fill="#3b5c92"/>
<circle cx="397.36" cy="416.29" r="0.92" fill="#3b5c92"/>
<circle cx="398.72" cy="416.06" r="0.92" fill="#3b5c92"/>
<circle cx="377.66" cy="418.29" r="0.92" fill="#3b5c92"/>
<circle cx="379.14" cy="418.35" r="0.92" fill="#3b5c92"/>
<circle cx="380.60" cy="418.35" r="0.92" fill="#3b5c92"/>
<circle cx="382.17" cy="418.55" r="0.92" fill="#3b5c92"/>
<circle cx="383.59" cy="418.59" r="0.92" fill="#3b5c92"/>
<circle cx="384.94" cy="418.91" r="0.92" fill="#3b5c92"/>
<circle cx="386.33" cy="419.00" r="0.92" fill="#3b5c92"/>
<circle cx="387.93" cy="419.04" r="0.92" fill="#3b5c92"/>
<circle cx="389.30" cy="418.60" r="0.92" fill="#3b5c92"/>
<circle cx="390.81" cy="418.79" r="0.92" fill="#3b5c92"/>
<circle cx="392.42" cy="418.80" r="0.92" fill="#3b5c92"/>
<circle cx="393.73" cy="418.71" r="0.92" fill="#3b5c92"/>
<circle cx="395.06" cy="418.52" r="0.92" fill="#3b5c92"/>
<circle cx="376.30" cy="420.58" r="0.92" fill="#3b5c92"/>
<circle cx="377.79" cy="420.85" r="0.92" fill="#3b5c92"/>
<circle cx="380.60" cy="421.04" r="0.92" fill="#3b5c92"/>
<circle cx="382.11" cy="421.10" r="0.92" fill="#3b5c92"/>
<circle cx="383.54" cy="420.95" r="0.92" fill="#3b5c92"/>
<circle cx="385.09" cy="420.97" r="0.92" fill="#3b5c92"/>
<circle cx="386.50" cy="421.22" r="0.92" fill="#3b5c92"/>
<circle cx="387.92" cy="421.30" r="0.92" fill="#3b5c92"/>
<circle cx="389.51" cy="421.14" r="0.92" fill="#3b5c92"/>
<circle cx="390.78" cy="421.13" r="0.92" fill="#3b5c92"/>
<circle cx="392.35" cy="420.88" r="0.92" fill="#3b5c92"/>
<circle cx="393.58" cy="420.95" r="0.92" fill="#3b5c92"/>
<circle cx="395.17" cy="420.89" r="0.92" fill="#3b5c92"/>
<circle cx="396.76" cy="420.80" r="0.92" fill="#3b5c92"/>
<circle cx="398.20" cy="420.49" r="0.92" fill="#3b5c92"/>
<circle cx="377.15" cy="422.93" r="0.92" fill="#3b5c92"/>
<circle cx="378.40" cy="422.78" r="0.92" fill="#3b5c92"/>
<circle cx="380.08" cy="422.85" r="0.92" fill="#3b5c92"/>
<circle cx="381.40" cy="422.99" r="0.92" fill="#3b5c92"/>
<circle cx="382.73" cy="423.02" r="0.92" fill="#3b5c92"/>
<circle cx="384.15" cy="423.14" r="0.92" fill="#3b5c92"/>
<circle cx="385.86" cy="423.26" r="0.92" fill="#3b5c92"/>
<circle cx="387.29" cy="423.45" r="0.92" fill="#3b5c92"/>
<circle cx="388.50" cy="423.34" r="0.92" fill="#3b5c92"/>
<circle cx="391.41" cy="423.02" r="0.92" fill="#3b5c92"/>
<circle cx="393.04" cy="422.91" r="0.92" fill="#3b5c92"/>
<circle cx="394.33" cy="422.96" r="0.92" fill="#3b5c92"/>
<circle cx="397.45" cy="423.00" r="0.92" fill="#3b5c92"/>
<circle cx="377.19" cy="425.26" r="0.92" fill="#3b5c92"/>
<circle cx="378.47" cy="425.36" r="0.92" fill="#3b5c92"/>
<circle cx="380.04" cy="425.29" r="0.92" fill="#3b5c92"/>
<circle cx="381.40" cy="425.27" r="0.92" fill="#3b5c92"/>
<circle cx="382.71" cy="425.50" r="0.92" fill="#3b5c92"/>
<circle cx="384.20" cy="425.62" r="0.92" fill="#3b5c92"/>
<circle cx="385.69" cy="425.75" r="0.92" fill="#3b5c92"/>
<circle cx="387.18" cy="425.67" r="0.92" fill="#3b5c92"/>
<circle cx="390.25" cy="425.51" r="0.92" fill="#3b5c92"/>
<circle cx="391.41" cy="425.24" r="0.92" fill="#3b5c92"/>
<circle cx="394.53" cy="425.48" r="0.92" fill="#3b5c92"/>
<circle cx="395.93" cy="425.16" r="0.92" fill="#3b5c92"/>
<circle cx="397.24" cy="425.10" r="0.92" fill="#3b5c92"/>
<circle cx="377.79" cy="427.35" r="0.92" fill="#3b5c92"/>
<circle cx="379.17" cy="427.62" r="0.92" fill="#3b5c92"/>
<circle cx="380.71" cy="427.59" r="0.92" fill="#3b5c92"/>
<circle cx="382.25" cy="427.83" r="0.92" fill="#3b5c92"/>
<circle cx="383.71" cy="427.60" r="0.92" fill="#3b5c92"/>
<circle cx="385.14" cy="427.84" r="0.92" fill="#3b5c92"/>
<circle cx="386.59" cy="427.81" r="0.92" fill="#3b5c92"/>
<circle cx="388.06" cy="427.70" r="0.92" fill="#3b5c92"/>
<circle cx="389.29" cy="427.93" r="0.92" fill="#3b5c92"/>
<circle cx="390.71" cy="427.70" r="0.92" fill="#3b5c92"/>
<circle cx="392.35" cy="427.54" r="0.92" fill="#3b5c92"/>
<circle cx="393.66" cy="427.57" r="0.92" fill="#3b5c92"/>
<circle cx="395.19" cy="427.60" r="0.92" fill="#3b5c92"/>
<circle cx="396.55" cy="427.39" r="0.92" fill="#3b5c92"/>
<circle cx="377.85" cy="429.44" r="0.92" fill="#3b5c92"/>
<circle cx="379.35" cy="429.63" r="0.92" fill="#3b5c92"/>
<circle cx="380.73" cy="429.66" r="0.92" fill="#3b5c92"/>
<circle cx="382.16" cy="429.88" r="0.92" fill="#3b5c92"/>
<circle cx="383.48" cy="429.95" r="0.92" fill="#3b5c92"/>
<circle cx="384.94" cy="430.11" r="0.92" fill="#3b5c92"/>
<circle cx="386.41" cy="430.08" r="0.92" fill="#3b5c92"/>
<circle cx="387.81" cy="430.13" r="0.92" fill="#3b5c92"/>
<circle cx="389.26" cy="430.00" r="0.92" fill="#3b5c92"/>
<circle cx="390.80" cy="429.77" r="0.92" fill="#3b5c92"/>
<circle cx="392.37" cy="430.03" r="0.92" fill="#3b5c92"/>
<circle cx="393.65" cy="429.92" r="0.92" fill="#3b5c92"/>
<circle cx="395.24" cy="429.71" r="0.92" fill="#3b5c92"/>
<circle cx="396.60" cy="429.83" r="0.92" fill="#3b5c92"/>
<circle cx="376.95" cy="431.98" r="0.92" fill="#3b5c92"/>
<circle cx="378.47" cy="431.92" r="0.92" fill="#3b5c92"/>
<circle cx="379.97" cy="431.95" r="0.92" fill="#3b5c92"/>
<circle cx="381.26" cy="432.10" r="0.92" fill="#3b5c92"/>
<circle cx="382.73" cy="432.07" r="0.92" fill="#3b5c92"/>
<circle cx="384.16" cy="432.34" r="0.92" fill="#3b5c92"/>
<circle cx="385.85" cy="432.47" r="0.92" fill="#3b5c92"/>
<circle cx="387.33" cy="432.26" r="0.92" fill="#3b5c92"/>
<circle cx="388.57" cy="432.41" r="0.92" fill="#3b5c92"/>
<circle cx="390.16" cy="432.14" r="0.92" fill="#3b5c92"/>
<circle cx="391.50" cy="432.37" r="0.92" fill="#3b5c92"/>
<circle cx="393.06" cy="432.09" r="0.92" fill="#3b5c92"/>
<circle cx="394.33" cy="431.93" r="0.92" fill="#3b5c92"/>
<circle cx="395.81" cy="431.96" r="0.92" fill="#3b5c92"/>
<circle cx="397.24" cy="431.84" r="0.92" fill="#3b5c92"/>
<circle cx="377.86" cy="434.12" r="0.92" fill="#3b5c92"/>
<circle cx="379.15" cy="434.17" r="0.92" fill="#3b5c92"/>
<circle cx="380.82" cy="434.13" r="0.92" fill="#3b5c92"/>
<circle cx="382.09" cy="434.41" r="0.92" fill="#3b5c92"/>
<circle cx="386.33" cy="434.74" r="0.92" fill="#3b5c92"/>
<circle cx="387.92" cy="434.81" r="0.92" fill="#3b5c92"/>
<circle cx="389.51" cy="434.42" r="0.92" fill="#3b5c92"/>
<circle cx="390.80" cy="434.47" r="0.92" fill="#3b5c92"/>
<circle cx="392.16" cy="434.46" r="0.92" fill="#3b5c92"/>
<circle cx="393.86" cy="434.42" r="0.92" fill="#3b5c92"/>
<circle cx="395.04" cy="434.05" r="0.92" fill="#3b5c92"/>
<circle cx="380.54" cy="436.70" r="0.92" fill="#3b5c92"/>
<circle cx="382.05" cy="436.45" r="0.92" fill="#3b5c92"/>
<circle cx="383.46" cy="436.80" r="0.92" fill="#3b5c92"/>
<circle cx="385.12" cy="436.60" r="0.92" fill="#3b5c92"/>
<circle cx="386.58" cy="436.81" r="0.92" fill="#3b5c92"/>
<circle cx="387.78" cy="436.86" r="0.92" fill="#3b5c92"/>
<circle cx="389.35" cy="436.61" r="0.92" fill="#3b5c92"/>
<circle cx="390.92" cy="436.59" r="0.92" fill="#3b5c92"/>
<circle cx="392.18" cy="436.64" r="0.92" fill="#3b5c92"/>
<circle cx="393.75" cy="436.48" r="0.92" fill="#3b5c92"/>
<circle cx="395.15" cy="436.24" r="0.92" fill="#3b5c92"/>
<circle cx="381.48" cy="438.50" r="0.92" fill="#3b5c92"/>
<circle cx="382.87" cy="438.62" r="0.92" fill="#3b5c92"/>
<circle cx="384.45" cy="438.81" r="0.92" fill="#3b5c92"/>
<circle cx="385.67" cy="438.89" r="0.92" fill="#3b5c92"/>
<circle cx="387.32" cy="439.04" r="0.92" fill="#3b5c92"/>
<circle cx="388.55" cy="438.94" r="0.92" fill="#3b5c92"/>
<circle cx="390.01" cy="438.79" r="0.92" fill="#3b5c92"/>
<circle cx="392.88" cy="438.80" r="0.92" fill="#3b5c92"/>
<circle cx="379.94" cy="441.03" r="0.92" fill="#3b5c92"/>
<circle cx="381.35" cy="441.17" r="0.92" fill="#3b5c92"/>
<circle cx="382.77" cy="441.24" r="0.92" fill="#3b5c92"/>
<circle cx="385.70" cy="441.50" r="0.92" fill="#3b5c92"/>
<circle cx="388.62" cy="441.30" r="0.92" fill="#3b5c92"/>
<circle cx="389.99" cy="441.02" r="0.92" fill="#3b5c92"/>
<circle cx="391.43" cy="441.28" r="0.92" fill="#3b5c92"/>
<circle cx="392.91" cy="440.93" r="0.92" fill="#3b5c92"/>
<circle cx="394.44" cy="440.83" r="0.92" fill="#3b5c92"/>
<circle cx="378.56" cy="443.30" r="0.92" fill="#3b5c92"/>
<circle cx="379.82" cy="443.21" r="0.92" fill="#3b5c92"/>
<circle cx="381.27" cy="443.48" r="0.92" fill="#3b5c92"/>
<circle cx="382.73" cy="443.20" r="0.92" fill="#3b5c92"/>
<circle cx="384.16" cy="443.47" r="0.92" fill="#3b5c92"/>
<circle cx="385.75" cy="443.76" r="0.92" fill="#3b5c92"/>
<circle cx="387.05" cy="443.61" r="0.92" fill="#3b5c92"/>
<circle cx="388.77" cy="443.46" r="0.92" fill="#3b5c92"/>
<circle cx="390.08" cy="443.45" r="0.92" fill="#3b5c92"/>
<circle cx="391.48" cy="443.45" r="0.92" fill="#3b5c92"/>
<circle cx="393.09" cy="443.43" r="0.92" fill="#3b5c92"/>
<circle cx="394.55" cy="443.15" r="0.92" fill="#3b5c92"/>
<circle cx="395.92" cy="443.02" r="0.92" fill="#3b5c92"/>
<circle cx="377.05" cy="445.35" r="0.92" fill="#3b5c92"/>
<circle cx="378.51" cy="445.58" r="0.92" fill="#3b5c92"/>
<circle cx="379.94" cy="445.34" r="0.92" fill="#3b5c92"/>
<circle cx="381.27" cy="445.76" r="0.92" fill="#3b5c92"/>
<circle cx="382.87" cy="445.64" r="0.92" fill="#3b5c92"/>
<circle cx="384.18" cy="445.62" r="0.92" fill="#3b5c92"/>
<circle cx="385.69" cy="445.83" r="0.92" fill="#3b5c92"/>
<circle cx="387.34" cy="445.96" r="0.92" fill="#3b5c92"/>
<circle cx="390.05" cy="445.63" r="0.92" fill="#3b5c92"/>
<circle cx="391.67" cy="445.80" r="0.92" fill="#3b5c92"/>
<circle cx="393.11" cy="445.62" r="0.92" fill="#3b5c92"/>
<circle cx="394.51" cy="445.68" r="0.92" fill="#3b5c92"/>
<circle cx="395.84" cy="445.46" r="0.92" fill="#3b5c92"/>
<circle cx="397.27" cy="445.22" r="0.92" fill="#3b5c92"/>
<circle cx="378.50" cy="447.74" r="0.92" fill="#3b5c92"/>
<circle cx="379.94" cy="447.65" r="0.92" fill="#3b5c92"/>
<circle cx="381.41" cy="447.78" r="0.92" fill="#3b5c92"/>
<circle cx="382.88" cy="447.97" r="0.92" fill="#3b5c92"/>
<circle cx="384.19" cy="448.09" r="0.92" fill="#3b5c92"/>
<circle cx="385.82" cy="448.20" r="0.92" fill="#3b5c92"/>
<circle cx="387.17" cy="448.18" r="0.92" fill="#3b5c92"/>
<circle cx="388.79" cy="447.91" r="0.92" fill="#3b5c92"/>
<circle cx="389.99" cy="447.91" r="0.92" fill="#3b5c92"/>
<circle cx="391.68" cy="448.06" r="0.92" fill="#3b5c92"/>
<circle cx="393.04" cy="447.93" r="0.92" fill="#3b5c92"/>
<circle cx="394.31" cy="447.78" r="0.92" fill="#3b5c92"/>
<circle cx="395.89" cy="447.78" r="0.92" fill="#3b5c92"/>
<circle cx="380.08" cy="449.81" r="0.92" fill="#3b5c92"/>
<circle cx="381.49" cy="450.08" r="0.92" fill="#3b5c92"/>
<circle cx="382.97" cy="449.98" r="0.92" fill="#3b5c92"/>
<circle cx="384.45" cy="450.34" r="0.92" fill="#3b5c92"/>
<circle cx="385.72" cy="450.14" r="0.92" fill="#3b5c92"/>
<circle cx="387.17" cy="450.26" r="0.92" fill="#3b5c92"/>
<circle cx="388.75" cy="450.37" r="0.92" fill="#3b5c92"/>
<circle cx="389.99" cy="450.05" r="0.92" fill="#3b5c92"/>
<circle cx="391.48" cy="450.13" r="0.92" fill="#3b5c92"/>
<circle cx="393.06" cy="449.84" r="0.92" fill="#3b5c92"/>
<circle cx="394.43" cy="449.92" r="0.92" fill="#3b5c92"/>
<circle cx="382.99" cy="452.01" r="0.92" fill="#3b5c92"/>
<circle cx="384.23" cy="452.24" r="0.92" fill="#3b5c92"/>
<circle cx="385.61" cy="452.29" r="0.92" fill="#3b5c92"/>
<circle cx="387.19" cy="452.54" r="0.92" fill="#3b5c92"/>
<circle cx="388.62" cy="452.66" r="0.92" fill="#3b5c92"/>
<circle cx="390.11" cy="452.15" r="0.92" fill="#3b5c92"/>
<circle cx="391.69" cy="452.28" r="0.92" fill="#3b5c92"/>
<circle cx="382.90" cy="454.30" r="0.92" fill="#3b5c92"/>
<circle cx="384.22" cy="454.48" r="0.92" fill="#3b5c92"/>
<circle cx="385.75" cy="454.64" r="0.92" fill="#3b5c92"/>
<circle cx="387.29" cy="455.02" r="0.92" fill="#3b5c92"/>
<circle cx="388.67" cy="454.58" r="0.92" fill="#3b5c92"/>
<circle cx="390.14" cy="454.44" r="0.92" fill="#3b5c92"/>
<circle cx="391.58" cy="454.59" r="0.92" fill="#3b5c92"/>
<circle cx="384.92" cy="456.72" r="0.92" fill="#3b5c92"/>
<circle cx="386.55" cy="456.86" r="0.92" fill="#3b5c92"/>
<circle cx="387.91" cy="456.84" r="0.92" fill="#3b5c92"/>
<circle cx="389.36" cy="456.80" r="0.92" fill="#3b5c92"/>
<circle cx="387.20" cy="365.00" r="0.92" fill="#3b5c92"/>
<circle cx="387.20" cy="368.80" r="0.92" fill="#3b5c92"/>
<circle cx="387.20" cy="373.30" r="0.92" fill="#3b5c92"/>
<circle cx="387.20" cy="379.00" r="0.92" fill="#3b5c92"/>
<circle cx="387.20" cy="460.60" r="0.92" fill="#3b5c92"/>
<line x1="250.10" y1="443.20" x2="277.80" y2="443.20" stroke="#111" stroke-width="1.50"/>
<line x1="283.20" y1="439.20" x2="311.00" y2="439.20" stroke="#111" stroke-width="1.50"/>
<line x1="339.40" y1="428.20" x2="366.60" y2="428.20" stroke="#111" stroke-width="1.50"/>
<line x1="372.40" y1="424.80" x2="400.70" y2="424.80" stroke="#111" stroke-width="1.50"/>
<text x="294.80" y="392.60" font-size="8.40" font-weight="normal" fill="#222" stroke="#222" stroke-width="0.08" textLength="5.10" lengthAdjust="spacingAndGlyphs">**</text>
<text x="383.80" y="356.80" font-size="8.40" font-weight="normal" fill="#222" stroke="#222" stroke-width="0.08" textLength="6.10" lengthAdjust="spacingAndGlyphs">**</text>
<rect x="0.55" y="0.55" width="518.75" height="527.8" fill="none" stroke="#111" stroke-width="1.1"/>
</svg>
</body></html>
